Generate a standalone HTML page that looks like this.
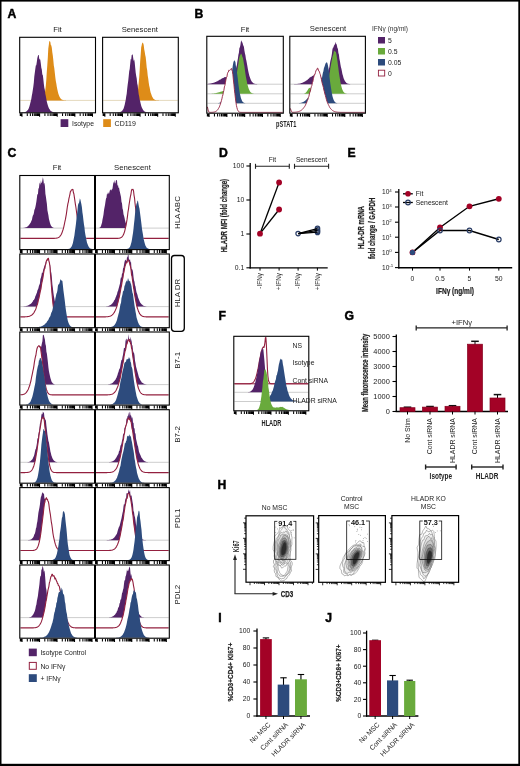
<!DOCTYPE html>
<html><head><meta charset="utf-8"><style>
html,body{margin:0;padding:0;background:#fff;}
svg{display:block;will-change:transform;}
text{font-family:"Liberation Sans", sans-serif;}
.cb{stroke:#222;stroke-width:0.22px;}
</style></head><body>
<svg width="520" height="766" viewBox="0 0 520 766">
<rect x="0" y="0" width="520" height="766" fill="#fff"/>
<text x="7.60" y="18.30" font-size="12.2" text-anchor="start" font-weight="bold" fill="#000" stroke="#000" stroke-width="0.45">A</text>
<text x="57.50" y="32.10" font-size="7.7" text-anchor="middle" font-weight="normal" fill="#222" >Fit</text>
<text x="139.80" y="32.10" font-size="7.7" text-anchor="middle" font-weight="normal" fill="#222" >Senescent</text>
<line x1="20.30" y1="100.40" x2="94.90" y2="100.40" stroke="#d9c9a0" stroke-width="0.7" />
<path d="M20.30,100.40 L20.30,100.40 L20.80,100.40 L21.30,100.40 L21.80,100.40 L22.30,100.40 L22.80,100.40 L23.30,100.40 L23.80,100.40 L24.30,100.40 L24.80,100.40 L25.30,100.40 L25.80,100.40 L26.30,100.40 L26.80,100.40 L27.30,100.40 L27.80,100.40 L28.30,100.40 L28.80,100.40 L29.30,100.40 L29.80,100.40 L30.30,100.40 L30.80,100.40 L31.30,100.40 L31.80,100.40 L32.30,100.40 L32.80,100.40 L33.30,100.40 L33.80,100.40 L34.30,100.40 L34.80,100.40 L35.30,100.40 L35.80,100.40 L36.30,100.40 L36.80,100.40 L37.30,100.40 L37.80,100.40 L38.30,100.40 L38.80,100.40 L39.30,100.40 L39.80,100.39 L40.30,100.38 L40.80,100.36 L41.30,100.31 L41.80,100.21 L42.30,100.02 L42.80,99.65 L43.30,99.04 L43.80,97.94 L44.30,96.28 L44.80,93.67 L45.30,90.05 L45.80,85.72 L46.30,79.94 L46.80,71.71 L47.30,65.13 L47.80,57.66 L48.30,48.61 L48.80,44.96 L49.30,40.72 L49.80,41.55 L50.30,41.73 L50.80,44.95 L51.30,45.60 L51.80,47.83 L52.30,52.35 L52.80,55.62 L53.30,59.96 L53.80,65.55 L54.30,68.37 L54.80,72.83 L55.30,77.19 L55.80,81.11 L56.30,83.51 L56.80,86.85 L57.30,89.27 L57.80,91.43 L58.30,93.41 L58.80,94.91 L59.30,96.33 L59.80,97.25 L60.30,98.11 L60.80,98.67 L61.30,99.15 L61.80,99.53 L62.30,99.79 L62.80,99.98 L63.30,100.11 L63.80,100.21 L64.30,100.27 L64.80,100.32 L65.30,100.35 L65.80,100.37 L66.30,100.38 L66.80,100.39 L67.30,100.39 L67.80,100.40 L68.30,100.40 L68.80,100.40 L69.30,100.40 L69.80,100.40 L70.30,100.40 L70.80,100.40 L71.30,100.40 L71.80,100.40 L72.30,100.40 L72.80,100.40 L73.30,100.40 L73.80,100.40 L74.30,100.40 L74.80,100.40 L75.30,100.40 L75.80,100.40 L76.30,100.40 L76.80,100.40 L77.30,100.40 L77.80,100.40 L78.30,100.40 L78.80,100.40 L79.30,100.40 L79.80,100.40 L80.30,100.40 L80.80,100.40 L81.30,100.40 L81.80,100.40 L82.30,100.40 L82.80,100.40 L83.30,100.40 L83.80,100.40 L84.30,100.40 L84.80,100.40 L85.30,100.40 L85.80,100.40 L86.30,100.40 L86.80,100.40 L87.30,100.40 L87.80,100.40 L88.30,100.40 L88.80,100.40 L89.30,100.40 L89.80,100.40 L90.30,100.40 L90.80,100.40 L91.30,100.40 L91.80,100.40 L92.30,100.40 L92.80,100.40 L93.30,100.40 L93.80,100.40 L94.30,100.40 L94.80,100.40 L94.90,100.40 L94.90,100.40 Z" fill="#de8c18" stroke="none"/>
<path d="M20.30,112.40 L20.30,112.39 L20.80,112.39 L21.30,112.38 L21.80,112.37 L22.30,112.35 L22.80,112.33 L23.30,112.29 L23.80,112.24 L24.30,112.16 L24.80,112.05 L25.30,111.90 L25.80,111.69 L26.30,111.41 L26.80,111.07 L27.30,110.61 L27.80,109.92 L28.30,109.18 L28.80,108.23 L29.30,106.83 L29.80,104.93 L30.30,103.12 L30.80,100.94 L31.30,99.12 L31.80,95.85 L32.30,93.21 L32.80,90.10 L33.30,86.74 L33.80,82.73 L34.30,76.48 L34.80,72.81 L35.30,69.03 L35.80,65.46 L36.30,65.20 L36.80,62.05 L37.30,58.34 L37.80,56.36 L38.30,54.99 L38.80,54.91 L39.30,59.99 L39.80,58.51 L40.30,60.11 L40.80,63.39 L41.30,67.77 L41.80,69.61 L42.30,74.56 L42.80,74.99 L43.30,79.02 L43.80,83.69 L44.30,87.84 L44.80,89.79 L45.30,93.65 L45.80,96.04 L46.30,98.76 L46.80,101.49 L47.30,103.57 L47.80,105.14 L48.30,106.70 L48.80,108.03 L49.30,108.94 L49.80,109.60 L50.30,110.43 L50.80,110.92 L51.30,111.23 L51.80,111.55 L52.30,111.78 L52.80,111.96 L53.30,112.09 L53.80,112.18 L54.30,112.25 L54.80,112.30 L55.30,112.33 L55.80,112.35 L56.30,112.37 L56.80,112.38 L57.30,112.39 L57.80,112.39 L58.30,112.39 L58.80,112.40 L59.30,112.40 L59.80,112.40 L60.30,112.40 L60.80,112.40 L61.30,112.40 L61.80,112.40 L62.30,112.40 L62.80,112.40 L63.30,112.40 L63.80,112.40 L64.30,112.40 L64.80,112.40 L65.30,112.40 L65.80,112.40 L66.30,112.40 L66.80,112.40 L67.30,112.40 L67.80,112.40 L68.30,112.40 L68.80,112.40 L69.30,112.40 L69.80,112.40 L70.30,112.40 L70.80,112.40 L71.30,112.40 L71.80,112.40 L72.30,112.40 L72.80,112.40 L73.30,112.40 L73.80,112.40 L74.30,112.40 L74.80,112.40 L75.30,112.40 L75.80,112.40 L76.30,112.40 L76.80,112.40 L77.30,112.40 L77.80,112.40 L78.30,112.40 L78.80,112.40 L79.30,112.40 L79.80,112.40 L80.30,112.40 L80.80,112.40 L81.30,112.40 L81.80,112.40 L82.30,112.40 L82.80,112.40 L83.30,112.40 L83.80,112.40 L84.30,112.40 L84.80,112.40 L85.30,112.40 L85.80,112.40 L86.30,112.40 L86.80,112.40 L87.30,112.40 L87.80,112.40 L88.30,112.40 L88.80,112.40 L89.30,112.40 L89.80,112.40 L90.30,112.40 L90.80,112.40 L91.30,112.40 L91.80,112.40 L92.30,112.40 L92.80,112.40 L93.30,112.40 L93.80,112.40 L94.30,112.40 L94.80,112.40 L94.90,112.40 L94.90,112.40 Z" fill="#532368" stroke="none"/>
<rect x="19.70" y="37.30" width="75.80" height="75.50" fill="none" stroke="#000" stroke-width="1.1" />
<path d="M20.27,113.30 v2.80 M21.17,113.30 v2.80 M21.97,113.30 v3.40 M27.28,113.30 v2.80 M30.38,113.30 v2.80 M32.59,113.30 v2.80 M34.30,113.30 v2.80 M35.69,113.30 v2.80 M36.87,113.30 v2.80 M37.89,113.30 v2.80 M38.80,113.30 v2.80 M39.60,113.30 v3.40 M44.91,113.30 v2.80 M48.01,113.30 v2.80 M50.21,113.30 v2.80 M51.92,113.30 v2.80 M53.32,113.30 v2.80 M54.50,113.30 v2.80 M55.52,113.30 v2.80 M56.42,113.30 v2.80 M57.23,113.30 v3.40 M62.54,113.30 v2.80 M65.64,113.30 v2.80 M67.84,113.30 v2.80 M69.55,113.30 v2.80 M70.95,113.30 v2.80 M72.13,113.30 v2.80 M73.15,113.30 v2.80 M74.05,113.30 v2.80 M74.86,113.30 v3.40 M80.16,113.30 v2.80 M83.27,113.30 v2.80 M85.47,113.30 v2.80 M87.18,113.30 v2.80 M88.57,113.30 v2.80 M89.76,113.30 v2.80 M90.78,113.30 v2.80 M91.68,113.30 v2.80 M92.49,113.30 v3.40" stroke="#000" stroke-width="1.05" fill="none"/>
<line x1="103.20" y1="100.40" x2="177.70" y2="100.40" stroke="#d9c9a0" stroke-width="0.7" />
<path d="M103.20,100.40 L103.20,100.40 L103.70,100.40 L104.20,100.40 L104.70,100.40 L105.20,100.40 L105.70,100.40 L106.20,100.40 L106.70,100.40 L107.20,100.40 L107.70,100.40 L108.20,100.40 L108.70,100.40 L109.20,100.40 L109.70,100.40 L110.20,100.40 L110.70,100.40 L111.20,100.40 L111.70,100.40 L112.20,100.40 L112.70,100.40 L113.20,100.40 L113.70,100.40 L114.20,100.40 L114.70,100.40 L115.20,100.40 L115.70,100.40 L116.20,100.40 L116.70,100.40 L117.20,100.40 L117.70,100.40 L118.20,100.40 L118.70,100.40 L119.20,100.40 L119.70,100.40 L120.20,100.40 L120.70,100.40 L121.20,100.40 L121.70,100.40 L122.20,100.40 L122.70,100.40 L123.20,100.40 L123.70,100.40 L124.20,100.40 L124.70,100.40 L125.20,100.40 L125.70,100.40 L126.20,100.40 L126.70,100.40 L127.20,100.40 L127.70,100.40 L128.20,100.40 L128.70,100.40 L129.20,100.40 L129.70,100.40 L130.20,100.40 L130.70,100.40 L131.20,100.40 L131.70,100.40 L132.20,100.40 L132.70,100.39 L133.20,100.38 L133.70,100.35 L134.20,100.28 L134.70,100.15 L135.20,99.90 L135.70,99.45 L136.20,98.66 L136.70,97.35 L137.20,95.32 L137.70,92.30 L138.20,88.33 L138.70,82.84 L139.20,77.56 L139.70,69.69 L140.20,60.95 L140.70,54.22 L141.20,47.15 L141.70,45.36 L142.20,42.26 L142.70,43.25 L143.20,43.27 L143.70,45.01 L144.20,49.31 L144.70,51.72 L145.20,55.07 L145.70,57.34 L146.20,61.91 L146.70,67.41 L147.20,70.35 L147.70,75.44 L148.20,78.51 L148.70,82.55 L149.20,85.73 L149.70,87.78 L150.20,90.63 L150.70,92.64 L151.20,94.05 L151.70,95.53 L152.20,96.82 L152.70,97.61 L153.20,98.39 L153.70,98.92 L154.20,99.37 L154.70,99.65 L155.20,99.88 L155.70,100.04 L156.20,100.16 L156.70,100.24 L157.20,100.29 L157.70,100.33 L158.20,100.35 L158.70,100.37 L159.20,100.38 L159.70,100.39 L160.20,100.39 L160.70,100.40 L161.20,100.40 L161.70,100.40 L162.20,100.40 L162.70,100.40 L163.20,100.40 L163.70,100.40 L164.20,100.40 L164.70,100.40 L165.20,100.40 L165.70,100.40 L166.20,100.40 L166.70,100.40 L167.20,100.40 L167.70,100.40 L168.20,100.40 L168.70,100.40 L169.20,100.40 L169.70,100.40 L170.20,100.40 L170.70,100.40 L171.20,100.40 L171.70,100.40 L172.20,100.40 L172.70,100.40 L173.20,100.40 L173.70,100.40 L174.20,100.40 L174.70,100.40 L175.20,100.40 L175.70,100.40 L176.20,100.40 L176.70,100.40 L177.20,100.40 L177.70,100.40 L177.70,100.40 L177.70,100.40 Z" fill="#de8c18" stroke="none"/>
<path d="M103.20,112.40 L103.20,112.40 L103.70,112.40 L104.20,112.40 L104.70,112.40 L105.20,112.40 L105.70,112.40 L106.20,112.40 L106.70,112.40 L107.20,112.40 L107.70,112.40 L108.20,112.40 L108.70,112.40 L109.20,112.40 L109.70,112.40 L110.20,112.40 L110.70,112.40 L111.20,112.40 L111.70,112.40 L112.20,112.40 L112.70,112.40 L113.20,112.40 L113.70,112.40 L114.20,112.40 L114.70,112.40 L115.20,112.40 L115.70,112.40 L116.20,112.39 L116.70,112.39 L117.20,112.38 L117.70,112.36 L118.20,112.34 L118.70,112.31 L119.20,112.25 L119.70,112.17 L120.20,112.04 L120.70,111.86 L121.20,111.61 L121.70,111.21 L122.20,110.69 L122.70,110.08 L123.20,109.26 L123.70,108.25 L124.20,106.48 L124.70,104.78 L125.20,102.28 L125.70,100.06 L126.20,96.40 L126.70,93.76 L127.20,88.75 L127.70,84.62 L128.20,81.10 L128.70,76.19 L129.20,71.16 L129.70,69.06 L130.20,63.64 L130.70,59.12 L131.20,59.49 L131.70,54.91 L132.20,54.87 L132.70,54.21 L133.20,58.03 L133.70,61.00 L134.20,59.62 L134.70,62.58 L135.20,67.64 L135.70,72.75 L136.20,76.09 L136.70,78.48 L137.20,83.50 L137.70,85.56 L138.20,90.16 L138.70,94.29 L139.20,96.57 L139.70,99.73 L140.20,101.50 L140.70,103.67 L141.20,105.76 L141.70,107.14 L142.20,108.33 L142.70,109.27 L143.20,110.02 L143.70,110.80 L144.20,111.19 L144.70,111.52 L145.20,111.77 L145.70,111.96 L146.20,112.10 L146.70,112.19 L147.20,112.26 L147.70,112.31 L148.20,112.34 L148.70,112.36 L149.20,112.38 L149.70,112.38 L150.20,112.39 L150.70,112.39 L151.20,112.40 L151.70,112.40 L152.20,112.40 L152.70,112.40 L153.20,112.40 L153.70,112.40 L154.20,112.40 L154.70,112.40 L155.20,112.40 L155.70,112.40 L156.20,112.40 L156.70,112.40 L157.20,112.40 L157.70,112.40 L158.20,112.40 L158.70,112.40 L159.20,112.40 L159.70,112.40 L160.20,112.40 L160.70,112.40 L161.20,112.40 L161.70,112.40 L162.20,112.40 L162.70,112.40 L163.20,112.40 L163.70,112.40 L164.20,112.40 L164.70,112.40 L165.20,112.40 L165.70,112.40 L166.20,112.40 L166.70,112.40 L167.20,112.40 L167.70,112.40 L168.20,112.40 L168.70,112.40 L169.20,112.40 L169.70,112.40 L170.20,112.40 L170.70,112.40 L171.20,112.40 L171.70,112.40 L172.20,112.40 L172.70,112.40 L173.20,112.40 L173.70,112.40 L174.20,112.40 L174.70,112.40 L175.20,112.40 L175.70,112.40 L176.20,112.40 L176.70,112.40 L177.20,112.40 L177.70,112.40 L177.70,112.40 L177.70,112.40 Z" fill="#532368" stroke="none"/>
<rect x="102.60" y="37.30" width="75.70" height="75.50" fill="none" stroke="#000" stroke-width="1.1" />
<path d="M103.16,113.30 v2.80 M104.07,113.30 v2.80 M104.87,113.30 v3.40 M110.17,113.30 v2.80 M113.27,113.30 v2.80 M115.47,113.30 v2.80 M117.18,113.30 v2.80 M118.57,113.30 v2.80 M119.75,113.30 v2.80 M120.77,113.30 v2.80 M121.67,113.30 v2.80 M122.48,113.30 v3.40 M127.78,113.30 v2.80 M130.88,113.30 v2.80 M133.07,113.30 v2.80 M134.78,113.30 v2.80 M136.17,113.30 v2.80 M137.35,113.30 v2.80 M138.37,113.30 v2.80 M139.27,113.30 v2.80 M140.08,113.30 v3.40 M145.38,113.30 v2.80 M148.48,113.30 v2.80 M150.68,113.30 v2.80 M152.39,113.30 v2.80 M153.78,113.30 v2.80 M154.96,113.30 v2.80 M155.98,113.30 v2.80 M156.88,113.30 v2.80 M157.68,113.30 v3.40 M162.98,113.30 v2.80 M166.08,113.30 v2.80 M168.28,113.30 v2.80 M169.99,113.30 v2.80 M171.38,113.30 v2.80 M172.56,113.30 v2.80 M173.58,113.30 v2.80 M174.48,113.30 v2.80 M175.29,113.30 v3.40" stroke="#000" stroke-width="1.05" fill="none"/>
<rect x="60.60" y="119.20" width="7.70" height="7.80" fill="#532368" stroke="none" stroke-width="1" />
<text x="72.00" y="125.80" font-size="6.8" text-anchor="start" font-weight="normal" fill="#222" >Isotype</text>
<rect x="103.20" y="119.20" width="7.70" height="7.80" fill="#de8c18" stroke="none" stroke-width="1" />
<text x="114.60" y="125.80" font-size="7.0" text-anchor="start" font-weight="normal" fill="#222" >CD119</text>
<text x="194.60" y="18.00" font-size="12.2" text-anchor="start" font-weight="bold" fill="#000" stroke="#000" stroke-width="0.45">B</text>
<text x="245.00" y="31.60" font-size="7.7" text-anchor="middle" font-weight="normal" fill="#222" >Fit</text>
<text x="328.00" y="31.30" font-size="7.7" text-anchor="middle" font-weight="normal" fill="#222" >Senescent</text>
<line x1="207.40" y1="84.20" x2="282.70" y2="84.20" stroke="#b8b8b8" stroke-width="0.7" />
<path d="M207.40,84.20 L207.40,83.93 L207.90,83.88 L208.40,83.83 L208.90,83.77 L209.40,83.70 L209.90,83.62 L210.40,83.53 L210.90,83.44 L211.40,83.33 L211.90,83.21 L212.40,83.07 L212.90,82.94 L213.40,82.77 L213.90,82.65 L214.40,82.39 L214.90,82.19 L215.40,82.00 L215.90,81.88 L216.40,81.57 L216.90,81.38 L217.40,81.14 L217.90,80.70 L218.40,80.40 L218.90,80.42 L219.40,79.87 L219.90,79.67 L220.40,79.47 L220.90,79.23 L221.40,78.79 L221.90,78.61 L222.40,78.24 L222.90,78.00 L223.40,78.03 L223.90,77.48 L224.40,77.16 L224.90,76.98 L225.40,77.02 L225.90,77.22 L226.40,77.14 L226.90,76.98 L227.40,76.44 L227.90,76.79 L228.40,76.75 L228.90,76.47 L229.40,76.89 L229.90,76.84 L230.40,77.01 L230.90,77.31 L231.40,77.06 L231.90,76.90 L232.40,77.17 L232.90,76.87 L233.40,76.31 L233.90,75.88 L234.40,74.58 L234.90,73.00 L235.40,71.45 L235.90,69.54 L236.40,66.69 L236.90,64.99 L237.40,61.30 L237.90,58.48 L238.40,54.70 L238.90,52.73 L239.40,47.94 L239.90,47.32 L240.40,45.04 L240.90,41.45 L241.40,40.20 L241.90,41.96 L242.40,42.62 L242.90,44.29 L243.40,45.78 L243.90,46.78 L244.40,50.43 L244.90,53.19 L245.40,55.19 L245.90,58.75 L246.40,60.74 L246.90,63.41 L247.40,66.33 L247.90,69.34 L248.40,71.85 L248.90,73.90 L249.40,76.07 L249.90,77.26 L250.40,78.84 L250.90,80.00 L251.40,81.01 L251.90,81.69 L252.40,82.29 L252.90,82.80 L253.40,83.13 L253.90,83.45 L254.40,83.66 L254.90,83.82 L255.40,83.94 L255.90,84.02 L256.40,84.08 L256.90,84.12 L257.40,84.15 L257.90,84.17 L258.40,84.18 L258.90,84.19 L259.40,84.19 L259.90,84.19 L260.40,84.20 L260.90,84.20 L261.40,84.20 L261.90,84.20 L262.40,84.20 L262.90,84.20 L263.40,84.20 L263.90,84.20 L264.40,84.20 L264.90,84.20 L265.40,84.20 L265.90,84.20 L266.40,84.20 L266.90,84.20 L267.40,84.20 L267.90,84.20 L268.40,84.20 L268.90,84.20 L269.40,84.20 L269.90,84.20 L270.40,84.20 L270.90,84.20 L271.40,84.20 L271.90,84.20 L272.40,84.20 L272.90,84.20 L273.40,84.20 L273.90,84.20 L274.40,84.20 L274.90,84.20 L275.40,84.20 L275.90,84.20 L276.40,84.20 L276.90,84.20 L277.40,84.20 L277.90,84.20 L278.40,84.20 L278.90,84.20 L279.40,84.20 L279.90,84.20 L280.40,84.20 L280.90,84.20 L281.40,84.20 L281.90,84.20 L282.40,84.20 L282.70,84.20 L282.70,84.20 Z" fill="#532368" stroke="none"/>
<line x1="207.40" y1="93.80" x2="282.70" y2="93.80" stroke="#b8b8b8" stroke-width="0.7" />
<path d="M207.40,93.80 L207.40,93.78 L207.90,93.77 L208.40,93.76 L208.90,93.75 L209.40,93.73 L209.90,93.72 L210.40,93.70 L210.90,93.67 L211.40,93.64 L211.90,93.61 L212.40,93.57 L212.90,93.52 L213.40,93.47 L213.90,93.41 L214.40,93.34 L214.90,93.26 L215.40,93.17 L215.90,93.07 L216.40,92.97 L216.90,92.85 L217.40,92.70 L217.90,92.58 L218.40,92.44 L218.90,92.28 L219.40,92.18 L219.90,92.00 L220.40,91.82 L220.90,91.67 L221.40,91.56 L221.90,91.46 L222.40,91.31 L222.90,91.11 L223.40,91.12 L223.90,91.00 L224.40,90.84 L224.90,90.86 L225.40,90.86 L225.90,90.82 L226.40,90.74 L226.90,90.85 L227.40,90.89 L227.90,90.94 L228.40,91.00 L228.90,91.12 L229.40,91.25 L229.90,91.23 L230.40,91.30 L230.90,91.22 L231.40,91.03 L231.90,90.64 L232.40,90.21 L232.90,89.42 L233.40,88.58 L233.90,87.34 L234.40,85.81 L234.90,83.56 L235.40,81.13 L235.90,78.92 L236.40,76.01 L236.90,73.12 L237.40,69.14 L237.90,66.29 L238.40,63.41 L238.90,59.70 L239.40,57.30 L239.90,55.66 L240.40,54.99 L240.90,53.50 L241.40,53.88 L241.90,55.02 L242.40,57.04 L242.90,57.73 L243.40,60.43 L243.90,63.62 L244.40,66.33 L244.90,70.08 L245.40,73.50 L245.90,76.71 L246.40,79.15 L246.90,81.80 L247.40,84.15 L247.90,85.92 L248.40,87.69 L248.90,89.28 L249.40,90.26 L249.90,91.29 L250.40,91.91 L250.90,92.47 L251.40,92.85 L251.90,93.15 L252.40,93.36 L252.90,93.50 L253.40,93.61 L253.90,93.67 L254.40,93.72 L254.90,93.75 L255.40,93.77 L255.90,93.78 L256.40,93.79 L256.90,93.79 L257.40,93.80 L257.90,93.80 L258.40,93.80 L258.90,93.80 L259.40,93.80 L259.90,93.80 L260.40,93.80 L260.90,93.80 L261.40,93.80 L261.90,93.80 L262.40,93.80 L262.90,93.80 L263.40,93.80 L263.90,93.80 L264.40,93.80 L264.90,93.80 L265.40,93.80 L265.90,93.80 L266.40,93.80 L266.90,93.80 L267.40,93.80 L267.90,93.80 L268.40,93.80 L268.90,93.80 L269.40,93.80 L269.90,93.80 L270.40,93.80 L270.90,93.80 L271.40,93.80 L271.90,93.80 L272.40,93.80 L272.90,93.80 L273.40,93.80 L273.90,93.80 L274.40,93.80 L274.90,93.80 L275.40,93.80 L275.90,93.80 L276.40,93.80 L276.90,93.80 L277.40,93.80 L277.90,93.80 L278.40,93.80 L278.90,93.80 L279.40,93.80 L279.90,93.80 L280.40,93.80 L280.90,93.80 L281.40,93.80 L281.90,93.80 L282.40,93.80 L282.70,93.80 L282.70,93.80 Z" fill="#69aa3c" stroke="none"/>
<line x1="207.40" y1="103.30" x2="282.70" y2="103.30" stroke="#b8b8b8" stroke-width="0.7" />
<path d="M207.40,103.30 L207.40,103.30 L207.90,103.30 L208.40,103.30 L208.90,103.30 L209.40,103.30 L209.90,103.30 L210.40,103.30 L210.90,103.30 L211.40,103.30 L211.90,103.30 L212.40,103.30 L212.90,103.30 L213.40,103.30 L213.90,103.30 L214.40,103.30 L214.90,103.29 L215.40,103.29 L215.90,103.28 L216.40,103.27 L216.90,103.25 L217.40,103.22 L217.90,103.17 L218.40,103.10 L218.90,103.00 L219.40,102.86 L219.90,102.67 L220.40,102.42 L220.90,102.12 L221.40,101.77 L221.90,101.37 L222.40,100.83 L222.90,100.38 L223.40,99.86 L223.90,99.31 L224.40,98.77 L224.90,98.22 L225.40,97.94 L225.90,97.39 L226.40,96.98 L226.90,96.74 L227.40,96.18 L227.90,95.28 L228.40,93.76 L228.90,92.19 L229.40,89.80 L229.90,86.98 L230.40,83.97 L230.90,80.42 L231.40,77.11 L231.90,73.28 L232.40,68.23 L232.90,65.11 L233.40,62.33 L233.90,61.09 L234.40,60.33 L234.90,60.96 L235.40,61.99 L235.90,65.94 L236.40,68.34 L236.90,72.27 L237.40,75.46 L237.90,79.49 L238.40,84.08 L238.90,87.82 L239.40,90.92 L239.90,93.69 L240.40,95.87 L240.90,97.92 L241.40,99.37 L241.90,100.60 L242.40,101.43 L242.90,102.07 L243.40,102.49 L243.90,102.78 L244.40,102.98 L244.90,103.10 L245.40,103.18 L245.90,103.23 L246.40,103.26 L246.90,103.28 L247.40,103.29 L247.90,103.29 L248.40,103.30 L248.90,103.30 L249.40,103.30 L249.90,103.30 L250.40,103.30 L250.90,103.30 L251.40,103.30 L251.90,103.30 L252.40,103.30 L252.90,103.30 L253.40,103.30 L253.90,103.30 L254.40,103.30 L254.90,103.30 L255.40,103.30 L255.90,103.30 L256.40,103.30 L256.90,103.30 L257.40,103.30 L257.90,103.30 L258.40,103.30 L258.90,103.30 L259.40,103.30 L259.90,103.30 L260.40,103.30 L260.90,103.30 L261.40,103.30 L261.90,103.30 L262.40,103.30 L262.90,103.30 L263.40,103.30 L263.90,103.30 L264.40,103.30 L264.90,103.30 L265.40,103.30 L265.90,103.30 L266.40,103.30 L266.90,103.30 L267.40,103.30 L267.90,103.30 L268.40,103.30 L268.90,103.30 L269.40,103.30 L269.90,103.30 L270.40,103.30 L270.90,103.30 L271.40,103.30 L271.90,103.30 L272.40,103.30 L272.90,103.30 L273.40,103.30 L273.90,103.30 L274.40,103.30 L274.90,103.30 L275.40,103.30 L275.90,103.30 L276.40,103.30 L276.90,103.30 L277.40,103.30 L277.90,103.30 L278.40,103.30 L278.90,103.30 L279.40,103.30 L279.90,103.30 L280.40,103.30 L280.90,103.30 L281.40,103.30 L281.90,103.30 L282.40,103.30 L282.70,103.30 L282.70,103.30 Z" fill="#2d4b7d" stroke="none"/>
<path d="M207.40,114.40 L207.40,106.81 L207.90,109.02 L208.40,110.99 L208.90,111.93 L209.40,112.28 L209.90,112.37 L210.40,112.38 L210.90,112.37 L211.40,112.35 L211.90,112.33 L212.40,112.30 L212.90,112.25 L213.40,112.19 L213.90,112.10 L214.40,111.98 L214.90,111.83 L215.40,111.62 L215.90,111.37 L216.40,110.99 L216.90,110.59 L217.40,110.13 L217.90,109.48 L218.40,108.62 L218.90,107.80 L219.40,106.85 L219.90,105.35 L220.40,104.24 L220.90,102.43 L221.40,100.68 L221.90,98.86 L222.40,96.40 L222.90,94.85 L223.40,92.15 L223.90,90.31 L224.40,86.88 L224.90,85.54 L225.40,82.67 L225.90,79.88 L226.40,77.62 L226.90,77.02 L227.40,73.79 L227.90,72.28 L228.40,72.03 L228.90,70.07 L229.40,70.40 L229.90,70.04 L230.40,69.73 L230.90,69.32 L231.40,68.39 L231.90,70.23 L232.40,71.28 L232.90,74.68 L233.40,79.92 L233.90,84.17 L234.40,89.47 L234.90,93.69 L235.40,98.11 L235.90,101.98 L236.40,105.30 L236.90,107.54 L237.40,109.38 L237.90,110.50 L238.40,111.33 L238.90,111.81 L239.40,112.09 L239.90,112.25 L240.40,112.33 L240.90,112.37 L241.40,112.39 L241.90,112.39 L242.40,112.40 L242.90,112.40 L243.40,112.40 L243.90,112.40 L244.40,112.40 L244.90,112.40 L245.40,112.40 L245.90,112.40 L246.40,112.40 L246.90,112.40 L247.40,112.40 L247.90,112.40 L248.40,112.40 L248.90,112.40 L249.40,112.40 L249.90,112.40 L250.40,112.40 L250.90,112.40 L251.40,112.40 L251.90,112.40 L252.40,112.40 L252.90,112.40 L253.40,112.40 L253.90,112.40 L254.40,112.40 L254.90,112.40 L255.40,112.40 L255.90,112.40 L256.40,112.40 L256.90,112.40 L257.40,112.40 L257.90,112.40 L258.40,112.40 L258.90,112.40 L259.40,112.40 L259.90,112.40 L260.40,112.40 L260.90,112.40 L261.40,112.40 L261.90,112.40 L262.40,112.40 L262.90,112.40 L263.40,112.40 L263.90,112.40 L264.40,112.40 L264.90,112.40 L265.40,112.40 L265.90,112.40 L266.40,112.40 L266.90,112.40 L267.40,112.40 L267.90,112.40 L268.40,112.40 L268.90,112.40 L269.40,112.40 L269.90,112.40 L270.40,112.40 L270.90,112.40 L271.40,112.40 L271.90,112.40 L272.40,112.40 L272.90,112.40 L273.40,112.40 L273.90,112.40 L274.40,112.40 L274.90,112.40 L275.40,112.40 L275.90,112.40 L276.40,112.40 L276.90,112.40 L277.40,112.40 L277.90,112.40 L278.40,112.40 L278.90,112.40 L279.40,112.40 L279.90,112.40 L280.40,112.40 L280.90,112.40 L281.40,112.40 L281.90,112.40 L282.40,112.40 L282.70,112.40 L282.70,114.40 Z" fill="#fff" stroke="none"/>
<path d="M207.40,106.81 L207.90,109.02 L208.40,110.99 L208.90,111.93 L209.40,112.28 L209.90,112.37 L210.40,112.38 L210.90,112.37 L211.40,112.35 L211.90,112.33 L212.40,112.30 L212.90,112.25 L213.40,112.19 L213.90,112.10 L214.40,111.98 L214.90,111.83 L215.40,111.62 L215.90,111.37 L216.40,110.99 L216.90,110.59 L217.40,110.13 L217.90,109.48 L218.40,108.62 L218.90,107.80 L219.40,106.85 L219.90,105.35 L220.40,104.24 L220.90,102.43 L221.40,100.68 L221.90,98.86 L222.40,96.40 L222.90,94.85 L223.40,92.15 L223.90,90.31 L224.40,86.88 L224.90,85.54 L225.40,82.67 L225.90,79.88 L226.40,77.62 L226.90,77.02 L227.40,73.79 L227.90,72.28 L228.40,72.03 L228.90,70.07 L229.40,70.40 L229.90,70.04 L230.40,69.73 L230.90,69.32 L231.40,68.39 L231.90,70.23 L232.40,71.28 L232.90,74.68 L233.40,79.92 L233.90,84.17 L234.40,89.47 L234.90,93.69 L235.40,98.11 L235.90,101.98 L236.40,105.30 L236.90,107.54 L237.40,109.38 L237.90,110.50 L238.40,111.33 L238.90,111.81 L239.40,112.09 L239.90,112.25 L240.40,112.33 L240.90,112.37 L241.40,112.39 L241.90,112.39 L242.40,112.40 L242.90,112.40 L243.40,112.40 L243.90,112.40 L244.40,112.40 L244.90,112.40 L245.40,112.40 L245.90,112.40 L246.40,112.40 L246.90,112.40 L247.40,112.40 L247.90,112.40 L248.40,112.40 L248.90,112.40 L249.40,112.40 L249.90,112.40 L250.40,112.40 L250.90,112.40 L251.40,112.40 L251.90,112.40 L252.40,112.40 L252.90,112.40 L253.40,112.40 L253.90,112.40 L254.40,112.40 L254.90,112.40 L255.40,112.40 L255.90,112.40 L256.40,112.40 L256.90,112.40 L257.40,112.40 L257.90,112.40 L258.40,112.40 L258.90,112.40 L259.40,112.40 L259.90,112.40 L260.40,112.40 L260.90,112.40 L261.40,112.40 L261.90,112.40 L262.40,112.40 L262.90,112.40 L263.40,112.40 L263.90,112.40 L264.40,112.40 L264.90,112.40 L265.40,112.40 L265.90,112.40 L266.40,112.40 L266.90,112.40 L267.40,112.40 L267.90,112.40 L268.40,112.40 L268.90,112.40 L269.40,112.40 L269.90,112.40 L270.40,112.40 L270.90,112.40 L271.40,112.40 L271.90,112.40 L272.40,112.40 L272.90,112.40 L273.40,112.40 L273.90,112.40 L274.40,112.40 L274.90,112.40 L275.40,112.40 L275.90,112.40 L276.40,112.40 L276.90,112.40 L277.40,112.40 L277.90,112.40 L278.40,112.40 L278.90,112.40 L279.40,112.40 L279.90,112.40 L280.40,112.40 L280.90,112.40 L281.40,112.40 L281.90,112.40 L282.40,112.40 L282.70,112.40" fill="none" stroke="#93203f" stroke-width="0.9" stroke-linejoin="round"/>
<rect x="206.80" y="36.30" width="76.50" height="76.90" fill="none" stroke="#000" stroke-width="1.1" />
<path d="M207.37,113.70 v2.80 M208.28,113.70 v2.80 M209.09,113.70 v3.40 M214.45,113.70 v2.80 M217.58,113.70 v2.80 M219.81,113.70 v2.80 M221.53,113.70 v2.80 M222.94,113.70 v2.80 M224.13,113.70 v2.80 M225.16,113.70 v2.80 M226.07,113.70 v2.80 M226.89,113.70 v3.40 M232.24,113.70 v2.80 M235.37,113.70 v2.80 M237.60,113.70 v2.80 M239.32,113.70 v2.80 M240.73,113.70 v2.80 M241.92,113.70 v2.80 M242.95,113.70 v2.80 M243.86,113.70 v2.80 M244.68,113.70 v3.40 M250.03,113.70 v2.80 M253.16,113.70 v2.80 M255.39,113.70 v2.80 M257.11,113.70 v2.80 M258.52,113.70 v2.80 M259.71,113.70 v2.80 M260.74,113.70 v2.80 M261.65,113.70 v2.80 M262.47,113.70 v3.40 M267.82,113.70 v2.80 M270.96,113.70 v2.80 M273.18,113.70 v2.80 M274.90,113.70 v2.80 M276.31,113.70 v2.80 M277.50,113.70 v2.80 M278.53,113.70 v2.80 M279.44,113.70 v2.80 M280.26,113.70 v3.40" stroke="#000" stroke-width="1.05" fill="none"/>
<line x1="290.40" y1="84.20" x2="364.80" y2="84.20" stroke="#b8b8b8" stroke-width="0.7" />
<path d="M290.40,84.20 L290.40,84.19 L290.90,84.18 L291.40,84.18 L291.90,84.17 L292.40,84.17 L292.90,84.16 L293.40,84.15 L293.90,84.13 L294.40,84.12 L294.90,84.10 L295.40,84.07 L295.90,84.05 L296.40,84.01 L296.90,83.97 L297.40,83.92 L297.90,83.86 L298.40,83.80 L298.90,83.72 L299.40,83.63 L299.90,83.53 L300.40,83.41 L300.90,83.27 L301.40,83.12 L301.90,82.94 L302.40,82.71 L302.90,82.56 L303.40,82.32 L303.90,82.05 L304.40,81.85 L304.90,81.50 L305.40,81.15 L305.90,80.77 L306.40,80.61 L306.90,80.18 L307.40,79.88 L307.90,79.22 L308.40,78.85 L308.90,78.73 L309.40,77.87 L309.90,77.46 L310.40,77.22 L310.90,76.85 L311.40,76.75 L311.90,76.51 L312.40,75.86 L312.90,75.89 L313.40,75.55 L313.90,75.31 L314.40,75.29 L314.90,74.84 L315.40,74.78 L315.90,74.44 L316.40,74.70 L316.90,74.69 L317.40,74.94 L317.90,75.03 L318.40,75.43 L318.90,75.85 L319.40,75.71 L319.90,76.09 L320.40,76.58 L320.90,77.05 L321.40,77.63 L321.90,78.02 L322.40,78.28 L322.90,78.62 L323.40,78.45 L323.90,78.67 L324.40,78.39 L324.90,78.36 L325.40,77.67 L325.90,77.10 L326.40,76.78 L326.90,75.61 L327.40,73.76 L327.90,72.55 L328.40,70.18 L328.90,68.76 L329.40,66.96 L329.90,63.68 L330.40,60.77 L330.90,59.07 L331.40,56.83 L331.90,53.66 L332.40,49.50 L332.90,47.72 L333.40,47.61 L333.90,45.63 L334.40,44.92 L334.90,44.34 L335.40,41.66 L335.90,44.02 L336.40,43.64 L336.90,45.41 L337.40,48.05 L337.90,48.78 L338.40,52.98 L338.90,54.53 L339.40,58.64 L339.90,60.97 L340.40,64.24 L340.90,66.92 L341.40,68.68 L341.90,71.36 L342.40,74.01 L342.90,75.51 L343.40,77.59 L343.90,78.89 L344.40,79.90 L344.90,80.95 L345.40,81.84 L345.90,82.31 L346.40,82.89 L346.90,83.22 L347.40,83.50 L347.90,83.70 L348.40,83.86 L348.90,83.96 L349.40,84.04 L349.90,84.09 L350.40,84.13 L350.90,84.15 L351.40,84.17 L351.90,84.18 L352.40,84.19 L352.90,84.19 L353.40,84.20 L353.90,84.20 L354.40,84.20 L354.90,84.20 L355.40,84.20 L355.90,84.20 L356.40,84.20 L356.90,84.20 L357.40,84.20 L357.90,84.20 L358.40,84.20 L358.90,84.20 L359.40,84.20 L359.90,84.20 L360.40,84.20 L360.90,84.20 L361.40,84.20 L361.90,84.20 L362.40,84.20 L362.90,84.20 L363.40,84.20 L363.90,84.20 L364.40,84.20 L364.80,84.20 L364.80,84.20 Z" fill="#532368" stroke="none"/>
<line x1="290.40" y1="93.80" x2="364.80" y2="93.80" stroke="#b8b8b8" stroke-width="0.7" />
<path d="M290.40,93.80 L290.40,93.80 L290.90,93.80 L291.40,93.80 L291.90,93.80 L292.40,93.80 L292.90,93.80 L293.40,93.80 L293.90,93.80 L294.40,93.80 L294.90,93.80 L295.40,93.80 L295.90,93.80 L296.40,93.80 L296.90,93.80 L297.40,93.80 L297.90,93.80 L298.40,93.80 L298.90,93.80 L299.40,93.80 L299.90,93.80 L300.40,93.80 L300.90,93.80 L301.40,93.80 L301.90,93.79 L302.40,93.78 L302.90,93.76 L303.40,93.71 L303.90,93.64 L304.40,93.50 L304.90,93.30 L305.40,92.99 L305.90,92.57 L306.40,91.97 L306.90,91.27 L307.40,90.49 L307.90,89.73 L308.40,88.83 L308.90,88.20 L309.40,87.89 L309.90,87.80 L310.40,88.06 L310.90,88.53 L311.40,89.03 L311.90,89.69 L312.40,90.54 L312.90,91.16 L313.40,91.88 L313.90,92.42 L314.40,92.84 L314.90,93.17 L315.40,93.40 L315.90,93.56 L316.40,93.66 L316.90,93.72 L317.40,93.75 L317.90,93.76 L318.40,93.76 L318.90,93.75 L319.40,93.73 L319.90,93.69 L320.40,93.64 L320.90,93.57 L321.40,93.47 L321.90,93.32 L322.40,93.13 L322.90,92.87 L323.40,92.55 L323.90,92.03 L324.40,91.46 L324.90,90.71 L325.40,89.83 L325.90,88.87 L326.40,87.47 L326.90,85.85 L327.40,84.21 L327.90,81.66 L328.40,79.69 L328.90,77.31 L329.40,73.95 L329.90,71.76 L330.40,67.78 L330.90,65.37 L331.40,62.26 L331.90,59.82 L332.40,57.03 L332.90,55.41 L333.40,53.96 L333.90,50.96 L334.40,51.55 L334.90,50.22 L335.40,52.04 L335.90,51.91 L336.40,54.30 L336.90,57.43 L337.40,60.74 L337.90,64.63 L338.40,68.17 L338.90,72.56 L339.40,75.69 L339.90,78.68 L340.40,82.02 L340.90,84.18 L341.40,86.39 L341.90,88.33 L342.40,89.76 L342.90,90.85 L343.40,91.71 L343.90,92.30 L344.40,92.80 L344.90,93.13 L345.40,93.36 L345.90,93.52 L346.40,93.62 L346.90,93.69 L347.40,93.73 L347.90,93.76 L348.40,93.78 L348.90,93.79 L349.40,93.79 L349.90,93.80 L350.40,93.80 L350.90,93.80 L351.40,93.80 L351.90,93.80 L352.40,93.80 L352.90,93.80 L353.40,93.80 L353.90,93.80 L354.40,93.80 L354.90,93.80 L355.40,93.80 L355.90,93.80 L356.40,93.80 L356.90,93.80 L357.40,93.80 L357.90,93.80 L358.40,93.80 L358.90,93.80 L359.40,93.80 L359.90,93.80 L360.40,93.80 L360.90,93.80 L361.40,93.80 L361.90,93.80 L362.40,93.80 L362.90,93.80 L363.40,93.80 L363.90,93.80 L364.40,93.80 L364.80,93.80 L364.80,93.80 Z" fill="#69aa3c" stroke="none"/>
<line x1="290.40" y1="103.30" x2="364.80" y2="103.30" stroke="#b8b8b8" stroke-width="0.7" />
<path d="M290.40,103.30 L290.40,103.30 L290.90,103.30 L291.40,103.30 L291.90,103.30 L292.40,103.30 L292.90,103.30 L293.40,103.30 L293.90,103.29 L294.40,103.29 L294.90,103.29 L295.40,103.28 L295.90,103.27 L296.40,103.26 L296.90,103.25 L297.40,103.23 L297.90,103.21 L298.40,103.17 L298.90,103.13 L299.40,103.08 L299.90,103.01 L300.40,102.92 L300.90,102.82 L301.40,102.69 L301.90,102.53 L302.40,102.35 L302.90,102.16 L303.40,101.90 L303.90,101.59 L304.40,101.23 L304.90,100.92 L305.40,100.52 L305.90,100.06 L306.40,99.48 L306.90,99.10 L307.40,98.43 L307.90,97.90 L308.40,97.50 L308.90,96.84 L309.40,96.34 L309.90,95.86 L310.40,95.17 L310.90,95.13 L311.40,94.81 L311.90,94.11 L312.40,94.11 L312.90,94.02 L313.40,93.83 L313.90,93.78 L314.40,93.51 L314.90,93.92 L315.40,93.96 L315.90,93.78 L316.40,93.70 L316.90,93.27 L317.40,92.91 L317.90,92.53 L318.40,91.74 L318.90,90.20 L319.40,88.64 L319.90,87.66 L320.40,85.10 L320.90,82.75 L321.40,80.57 L321.90,78.58 L322.40,75.25 L322.90,72.76 L323.40,71.15 L323.90,68.14 L324.40,66.89 L324.90,65.59 L325.40,63.76 L325.90,62.95 L326.40,62.49 L326.90,62.30 L327.40,63.21 L327.90,65.17 L328.40,68.10 L328.90,71.58 L329.40,75.71 L329.90,80.21 L330.40,84.11 L330.90,87.27 L331.40,90.58 L331.90,93.34 L332.40,95.96 L332.90,97.84 L333.40,99.21 L333.90,100.46 L334.40,101.33 L334.90,102.02 L335.40,102.44 L335.90,102.75 L336.40,102.96 L336.90,103.09 L337.40,103.18 L337.90,103.23 L338.40,103.26 L338.90,103.28 L339.40,103.29 L339.90,103.29 L340.40,103.30 L340.90,103.30 L341.40,103.30 L341.90,103.30 L342.40,103.30 L342.90,103.30 L343.40,103.30 L343.90,103.30 L344.40,103.30 L344.90,103.30 L345.40,103.30 L345.90,103.30 L346.40,103.30 L346.90,103.30 L347.40,103.30 L347.90,103.30 L348.40,103.30 L348.90,103.30 L349.40,103.30 L349.90,103.30 L350.40,103.30 L350.90,103.30 L351.40,103.30 L351.90,103.30 L352.40,103.30 L352.90,103.30 L353.40,103.30 L353.90,103.30 L354.40,103.30 L354.90,103.30 L355.40,103.30 L355.90,103.30 L356.40,103.30 L356.90,103.30 L357.40,103.30 L357.90,103.30 L358.40,103.30 L358.90,103.30 L359.40,103.30 L359.90,103.30 L360.40,103.30 L360.90,103.30 L361.40,103.30 L361.90,103.30 L362.40,103.30 L362.90,103.30 L363.40,103.30 L363.90,103.30 L364.40,103.30 L364.80,103.30 L364.80,103.30 Z" fill="#2d4b7d" stroke="none"/>
<path d="M290.40,114.40 L290.40,108.40 L290.90,110.04 L291.40,111.35 L291.90,112.03 L292.40,112.26 L292.90,112.31 L293.40,112.31 L293.90,112.28 L294.40,112.26 L294.90,112.22 L295.40,112.18 L295.90,112.12 L296.40,112.06 L296.90,111.98 L297.40,111.89 L297.90,111.78 L298.40,111.65 L298.90,111.49 L299.40,111.29 L299.90,111.09 L300.40,110.83 L300.90,110.54 L301.40,110.22 L301.90,109.79 L302.40,109.36 L302.90,108.81 L303.40,108.25 L303.90,107.55 L304.40,106.91 L304.90,106.18 L305.40,105.29 L305.90,104.07 L306.40,103.21 L306.90,101.77 L307.40,100.47 L307.90,99.42 L308.40,97.41 L308.90,96.39 L309.40,93.98 L309.90,92.19 L310.40,90.98 L310.90,88.49 L311.40,86.51 L311.90,85.34 L312.40,82.59 L312.90,81.47 L313.40,78.27 L313.90,76.79 L314.40,74.49 L314.90,74.63 L315.40,72.70 L315.90,70.84 L316.40,69.86 L316.90,70.04 L317.40,68.11 L317.90,68.27 L318.40,70.02 L318.90,71.29 L319.40,71.47 L319.90,73.52 L320.40,74.78 L320.90,77.01 L321.40,79.22 L321.90,81.93 L322.40,83.90 L322.90,85.63 L323.40,87.48 L323.90,90.00 L324.40,91.75 L324.90,93.96 L325.40,95.58 L325.90,97.57 L326.40,99.47 L326.90,101.11 L327.40,102.53 L327.90,103.81 L328.40,104.64 L328.90,105.70 L329.40,106.68 L329.90,107.68 L330.40,108.28 L330.90,109.01 L331.40,109.44 L331.90,109.95 L332.40,110.36 L332.90,110.72 L333.40,111.03 L333.90,111.25 L334.40,111.48 L334.90,111.65 L335.40,111.80 L335.90,111.92 L336.40,112.01 L336.90,112.09 L337.40,112.16 L337.90,112.21 L338.40,112.25 L338.90,112.28 L339.40,112.31 L339.90,112.33 L340.40,112.35 L340.90,112.36 L341.40,112.37 L341.90,112.38 L342.40,112.38 L342.90,112.39 L343.40,112.39 L343.90,112.39 L344.40,112.39 L344.90,112.40 L345.40,112.40 L345.90,112.40 L346.40,112.40 L346.90,112.40 L347.40,112.40 L347.90,112.40 L348.40,112.40 L348.90,112.40 L349.40,112.40 L349.90,112.40 L350.40,112.40 L350.90,112.40 L351.40,112.40 L351.90,112.40 L352.40,112.40 L352.90,112.40 L353.40,112.40 L353.90,112.40 L354.40,112.40 L354.90,112.40 L355.40,112.40 L355.90,112.40 L356.40,112.40 L356.90,112.40 L357.40,112.40 L357.90,112.40 L358.40,112.40 L358.90,112.40 L359.40,112.40 L359.90,112.40 L360.40,112.40 L360.90,112.40 L361.40,112.40 L361.90,112.40 L362.40,112.40 L362.90,112.40 L363.40,112.40 L363.90,112.40 L364.40,112.40 L364.80,112.40 L364.80,114.40 Z" fill="#fff" stroke="none"/>
<path d="M290.40,108.40 L290.90,110.04 L291.40,111.35 L291.90,112.03 L292.40,112.26 L292.90,112.31 L293.40,112.31 L293.90,112.28 L294.40,112.26 L294.90,112.22 L295.40,112.18 L295.90,112.12 L296.40,112.06 L296.90,111.98 L297.40,111.89 L297.90,111.78 L298.40,111.65 L298.90,111.49 L299.40,111.29 L299.90,111.09 L300.40,110.83 L300.90,110.54 L301.40,110.22 L301.90,109.79 L302.40,109.36 L302.90,108.81 L303.40,108.25 L303.90,107.55 L304.40,106.91 L304.90,106.18 L305.40,105.29 L305.90,104.07 L306.40,103.21 L306.90,101.77 L307.40,100.47 L307.90,99.42 L308.40,97.41 L308.90,96.39 L309.40,93.98 L309.90,92.19 L310.40,90.98 L310.90,88.49 L311.40,86.51 L311.90,85.34 L312.40,82.59 L312.90,81.47 L313.40,78.27 L313.90,76.79 L314.40,74.49 L314.90,74.63 L315.40,72.70 L315.90,70.84 L316.40,69.86 L316.90,70.04 L317.40,68.11 L317.90,68.27 L318.40,70.02 L318.90,71.29 L319.40,71.47 L319.90,73.52 L320.40,74.78 L320.90,77.01 L321.40,79.22 L321.90,81.93 L322.40,83.90 L322.90,85.63 L323.40,87.48 L323.90,90.00 L324.40,91.75 L324.90,93.96 L325.40,95.58 L325.90,97.57 L326.40,99.47 L326.90,101.11 L327.40,102.53 L327.90,103.81 L328.40,104.64 L328.90,105.70 L329.40,106.68 L329.90,107.68 L330.40,108.28 L330.90,109.01 L331.40,109.44 L331.90,109.95 L332.40,110.36 L332.90,110.72 L333.40,111.03 L333.90,111.25 L334.40,111.48 L334.90,111.65 L335.40,111.80 L335.90,111.92 L336.40,112.01 L336.90,112.09 L337.40,112.16 L337.90,112.21 L338.40,112.25 L338.90,112.28 L339.40,112.31 L339.90,112.33 L340.40,112.35 L340.90,112.36 L341.40,112.37 L341.90,112.38 L342.40,112.38 L342.90,112.39 L343.40,112.39 L343.90,112.39 L344.40,112.39 L344.90,112.40 L345.40,112.40 L345.90,112.40 L346.40,112.40 L346.90,112.40 L347.40,112.40 L347.90,112.40 L348.40,112.40 L348.90,112.40 L349.40,112.40 L349.90,112.40 L350.40,112.40 L350.90,112.40 L351.40,112.40 L351.90,112.40 L352.40,112.40 L352.90,112.40 L353.40,112.40 L353.90,112.40 L354.40,112.40 L354.90,112.40 L355.40,112.40 L355.90,112.40 L356.40,112.40 L356.90,112.40 L357.40,112.40 L357.90,112.40 L358.40,112.40 L358.90,112.40 L359.40,112.40 L359.90,112.40 L360.40,112.40 L360.90,112.40 L361.40,112.40 L361.90,112.40 L362.40,112.40 L362.90,112.40 L363.40,112.40 L363.90,112.40 L364.40,112.40 L364.80,112.40" fill="none" stroke="#93203f" stroke-width="0.9" stroke-linejoin="round"/>
<rect x="289.80" y="36.30" width="75.60" height="76.90" fill="none" stroke="#000" stroke-width="1.1" />
<path d="M290.36,113.70 v2.80 M291.26,113.70 v2.80 M292.07,113.70 v3.40 M297.36,113.70 v2.80 M300.46,113.70 v2.80 M302.65,113.70 v2.80 M304.36,113.70 v2.80 M305.75,113.70 v2.80 M306.93,113.70 v2.80 M307.95,113.70 v2.80 M308.84,113.70 v2.80 M309.65,113.70 v3.40 M314.94,113.70 v2.80 M318.04,113.70 v2.80 M320.23,113.70 v2.80 M321.94,113.70 v2.80 M323.33,113.70 v2.80 M324.51,113.70 v2.80 M325.53,113.70 v2.80 M326.43,113.70 v2.80 M327.23,113.70 v3.40 M332.52,113.70 v2.80 M335.62,113.70 v2.80 M337.82,113.70 v2.80 M339.52,113.70 v2.80 M340.91,113.70 v2.80 M342.09,113.70 v2.80 M343.11,113.70 v2.80 M344.01,113.70 v2.80 M344.81,113.70 v3.40 M350.10,113.70 v2.80 M353.20,113.70 v2.80 M355.40,113.70 v2.80 M357.10,113.70 v2.80 M358.49,113.70 v2.80 M359.67,113.70 v2.80 M360.69,113.70 v2.80 M361.59,113.70 v2.80 M362.39,113.70 v3.40" stroke="#000" stroke-width="1.05" fill="none"/>
<text x="276.10" y="127.00" font-size="8.2" text-anchor="start" font-weight="bold" fill="#222" textLength="20.2" lengthAdjust="spacingAndGlyphs" >pSTAT1</text>
<text x="372.00" y="31.20" font-size="6.8" text-anchor="start" font-weight="normal" fill="#333" textLength="36" lengthAdjust="spacingAndGlyphs" >IFN&#947; (ng/ml)</text>
<rect x="378.00" y="37.00" width="7.00" height="6.50" fill="#532368" stroke="none" stroke-width="1" />
<text x="388.00" y="43.20" font-size="6.8" text-anchor="start" font-weight="normal" fill="#222" >5</text>
<rect x="378.00" y="48.00" width="7.00" height="6.50" fill="#69aa3c" stroke="none" stroke-width="1" />
<text x="388.00" y="54.20" font-size="6.8" text-anchor="start" font-weight="normal" fill="#222" >0.5</text>
<rect x="378.00" y="59.00" width="7.00" height="6.50" fill="#2d4b7d" stroke="none" stroke-width="1" />
<text x="388.00" y="65.20" font-size="6.8" text-anchor="start" font-weight="normal" fill="#222" >0.05</text>
<rect x="378.40" y="70.20" width="6.30" height="5.80" fill="#fff" stroke="#93203f" stroke-width="0.9" />
<text x="388.00" y="76.20" font-size="6.8" text-anchor="start" font-weight="normal" fill="#222" >0</text>
<text x="7.60" y="157.30" font-size="12.2" text-anchor="start" font-weight="bold" fill="#000" stroke="#000" stroke-width="0.45">C</text>
<text x="57.00" y="170.40" font-size="7.7" text-anchor="middle" font-weight="normal" fill="#222" >Fit</text>
<text x="132.40" y="170.30" font-size="7.8" text-anchor="middle" font-weight="normal" fill="#222" >Senescent</text>
<line x1="20.40" y1="228.10" x2="94.00" y2="228.10" stroke="#c0c0c0" stroke-width="0.8" />
<path d="M20.40,228.10 L20.40,228.07 L20.90,228.06 L21.40,228.04 L21.90,228.02 L22.40,227.99 L22.90,227.96 L23.40,227.91 L23.90,227.84 L24.40,227.76 L24.90,227.66 L25.40,227.53 L25.90,227.36 L26.40,227.16 L26.90,226.96 L27.40,226.60 L27.90,226.14 L28.40,225.69 L28.90,225.12 L29.40,224.60 L29.90,223.63 L30.40,222.90 L30.90,222.28 L31.40,220.80 L31.90,219.99 L32.40,217.36 L32.90,215.61 L33.40,214.86 L33.90,213.01 L34.40,209.84 L34.90,209.09 L35.40,206.91 L35.90,204.53 L36.40,201.52 L36.90,197.85 L37.40,193.73 L37.90,194.72 L38.40,188.50 L38.90,188.26 L39.40,184.08 L39.90,182.55 L40.40,184.96 L40.90,180.43 L41.40,182.83 L41.90,182.92 L42.40,179.88 L42.90,177.31 L43.40,179.68 L43.90,184.04 L44.40,182.79 L44.90,186.05 L45.40,193.67 L45.90,196.86 L46.40,200.47 L46.90,203.97 L47.40,210.24 L47.90,212.77 L48.40,215.29 L48.90,218.67 L49.40,220.86 L49.90,222.69 L50.40,224.33 L50.90,225.50 L51.40,226.22 L51.90,226.84 L52.40,227.26 L52.90,227.56 L53.40,227.75 L53.90,227.88 L54.40,227.97 L54.90,228.02 L55.40,228.05 L55.90,228.07 L56.40,228.09 L56.90,228.09 L57.40,228.10 L57.90,228.10 L58.40,228.10 L58.90,228.10 L59.40,228.10 L59.90,228.10 L60.40,228.10 L60.90,228.10 L61.40,228.10 L61.90,228.10 L62.40,228.10 L62.90,228.10 L63.40,228.10 L63.90,228.10 L64.40,228.10 L64.90,228.10 L65.40,228.10 L65.90,228.10 L66.40,228.10 L66.90,228.10 L67.40,228.10 L67.90,228.10 L68.40,228.10 L68.90,228.10 L69.40,228.10 L69.90,228.10 L70.40,228.10 L70.90,228.10 L71.40,228.10 L71.90,228.10 L72.40,228.10 L72.90,228.10 L73.40,228.10 L73.90,228.10 L74.40,228.10 L74.90,228.10 L75.40,228.10 L75.90,228.10 L76.40,228.10 L76.90,228.10 L77.40,228.10 L77.90,228.10 L78.40,228.10 L78.90,228.10 L79.40,228.10 L79.90,228.10 L80.40,228.10 L80.90,228.10 L81.40,228.10 L81.90,228.10 L82.40,228.10 L82.90,228.10 L83.40,228.10 L83.90,228.10 L84.40,228.10 L84.90,228.10 L85.40,228.10 L85.90,228.10 L86.40,228.10 L86.90,228.10 L87.40,228.10 L87.90,228.10 L88.40,228.10 L88.90,228.10 L89.40,228.10 L89.90,228.10 L90.40,228.10 L90.90,228.10 L91.40,228.10 L91.90,228.10 L92.40,228.10 L92.90,228.10 L93.40,228.10 L93.90,228.10 L94.00,228.10 L94.00,228.10 Z" fill="#532368" stroke="none"/>
<path d="M20.40,240.40 L20.40,238.40 L20.90,238.40 L21.40,238.40 L21.90,238.40 L22.40,238.40 L22.90,238.40 L23.40,238.40 L23.90,238.40 L24.40,238.40 L24.90,238.40 L25.40,238.40 L25.90,238.40 L26.40,238.40 L26.90,238.40 L27.40,238.40 L27.90,238.40 L28.40,238.40 L28.90,238.40 L29.40,238.40 L29.90,238.40 L30.40,238.40 L30.90,238.40 L31.40,238.40 L31.90,238.40 L32.40,238.40 L32.90,238.40 L33.40,238.40 L33.90,238.40 L34.40,238.40 L34.90,238.40 L35.40,238.40 L35.90,238.40 L36.40,238.40 L36.90,238.40 L37.40,238.40 L37.90,238.40 L38.40,238.40 L38.90,238.40 L39.40,238.40 L39.90,238.40 L40.40,238.40 L40.90,238.40 L41.40,238.40 L41.90,238.40 L42.40,238.40 L42.90,238.40 L43.40,238.40 L43.90,238.40 L44.40,238.40 L44.90,238.40 L45.40,238.40 L45.90,238.40 L46.40,238.40 L46.90,238.40 L47.40,238.40 L47.90,238.40 L48.40,238.40 L48.90,238.40 L49.40,238.40 L49.90,238.40 L50.40,238.40 L50.90,238.40 L51.40,238.40 L51.90,238.39 L52.40,238.39 L52.90,238.38 L53.40,238.37 L53.90,238.36 L54.40,238.34 L54.90,238.31 L55.40,238.28 L55.90,238.22 L56.40,238.15 L56.90,238.05 L57.40,237.92 L57.90,237.74 L58.40,237.51 L58.90,237.22 L59.40,236.82 L59.90,236.29 L60.40,235.72 L60.90,234.99 L61.40,234.13 L61.90,233.10 L62.40,231.55 L62.90,230.11 L63.40,228.60 L63.90,226.45 L64.40,224.15 L64.90,221.52 L65.40,219.42 L65.90,216.57 L66.40,213.78 L66.90,210.18 L67.40,206.53 L67.90,203.70 L68.40,201.78 L68.90,198.56 L69.40,196.64 L69.90,194.27 L70.40,191.69 L70.90,191.11 L71.40,189.95 L71.90,189.65 L72.40,189.44 L72.90,189.38 L73.40,192.55 L73.90,194.02 L74.40,197.34 L74.90,200.81 L75.40,204.32 L75.90,207.26 L76.40,210.96 L76.90,214.80 L77.40,218.15 L77.90,221.56 L78.40,224.80 L78.90,227.39 L79.40,229.45 L79.90,231.34 L80.40,232.88 L80.90,234.16 L81.40,235.23 L81.90,236.04 L82.40,236.70 L82.90,237.18 L83.40,237.55 L83.90,237.81 L84.40,238.00 L84.90,238.13 L85.40,238.22 L85.90,238.28 L86.40,238.32 L86.90,238.35 L87.40,238.37 L87.90,238.38 L88.40,238.39 L88.90,238.39 L89.40,238.40 L89.90,238.40 L90.40,238.40 L90.90,238.40 L91.40,238.40 L91.90,238.40 L92.40,238.40 L92.90,238.40 L93.40,238.40 L93.90,238.40 L94.00,238.40 L94.00,240.40 Z" fill="#fff" stroke="none"/>
<path d="M20.40,238.40 L20.90,238.40 L21.40,238.40 L21.90,238.40 L22.40,238.40 L22.90,238.40 L23.40,238.40 L23.90,238.40 L24.40,238.40 L24.90,238.40 L25.40,238.40 L25.90,238.40 L26.40,238.40 L26.90,238.40 L27.40,238.40 L27.90,238.40 L28.40,238.40 L28.90,238.40 L29.40,238.40 L29.90,238.40 L30.40,238.40 L30.90,238.40 L31.40,238.40 L31.90,238.40 L32.40,238.40 L32.90,238.40 L33.40,238.40 L33.90,238.40 L34.40,238.40 L34.90,238.40 L35.40,238.40 L35.90,238.40 L36.40,238.40 L36.90,238.40 L37.40,238.40 L37.90,238.40 L38.40,238.40 L38.90,238.40 L39.40,238.40 L39.90,238.40 L40.40,238.40 L40.90,238.40 L41.40,238.40 L41.90,238.40 L42.40,238.40 L42.90,238.40 L43.40,238.40 L43.90,238.40 L44.40,238.40 L44.90,238.40 L45.40,238.40 L45.90,238.40 L46.40,238.40 L46.90,238.40 L47.40,238.40 L47.90,238.40 L48.40,238.40 L48.90,238.40 L49.40,238.40 L49.90,238.40 L50.40,238.40 L50.90,238.40 L51.40,238.40 L51.90,238.39 L52.40,238.39 L52.90,238.38 L53.40,238.37 L53.90,238.36 L54.40,238.34 L54.90,238.31 L55.40,238.28 L55.90,238.22 L56.40,238.15 L56.90,238.05 L57.40,237.92 L57.90,237.74 L58.40,237.51 L58.90,237.22 L59.40,236.82 L59.90,236.29 L60.40,235.72 L60.90,234.99 L61.40,234.13 L61.90,233.10 L62.40,231.55 L62.90,230.11 L63.40,228.60 L63.90,226.45 L64.40,224.15 L64.90,221.52 L65.40,219.42 L65.90,216.57 L66.40,213.78 L66.90,210.18 L67.40,206.53 L67.90,203.70 L68.40,201.78 L68.90,198.56 L69.40,196.64 L69.90,194.27 L70.40,191.69 L70.90,191.11 L71.40,189.95 L71.90,189.65 L72.40,189.44 L72.90,189.38 L73.40,192.55 L73.90,194.02 L74.40,197.34 L74.90,200.81 L75.40,204.32 L75.90,207.26 L76.40,210.96 L76.90,214.80 L77.40,218.15 L77.90,221.56 L78.40,224.80 L78.90,227.39 L79.40,229.45 L79.90,231.34 L80.40,232.88 L80.90,234.16 L81.40,235.23 L81.90,236.04 L82.40,236.70 L82.90,237.18 L83.40,237.55 L83.90,237.81 L84.40,238.00 L84.90,238.13 L85.40,238.22 L85.90,238.28 L86.40,238.32 L86.90,238.35 L87.40,238.37 L87.90,238.38 L88.40,238.39 L88.90,238.39 L89.40,238.40 L89.90,238.40 L90.40,238.40 L90.90,238.40 L91.40,238.40 L91.90,238.40 L92.40,238.40 L92.90,238.40 L93.40,238.40 L93.90,238.40 L94.00,238.40" fill="none" stroke="#93203f" stroke-width="1.1" stroke-linejoin="round"/>
<path d="M20.40,249.10 L20.40,249.10 L20.90,249.10 L21.40,249.10 L21.90,249.10 L22.40,249.10 L22.90,249.10 L23.40,249.10 L23.90,249.10 L24.40,249.10 L24.90,249.10 L25.40,249.10 L25.90,249.10 L26.40,249.10 L26.90,249.10 L27.40,249.10 L27.90,249.10 L28.40,249.10 L28.90,249.10 L29.40,249.10 L29.90,249.10 L30.40,249.10 L30.90,249.10 L31.40,249.10 L31.90,249.10 L32.40,249.10 L32.90,249.10 L33.40,249.10 L33.90,249.10 L34.40,249.10 L34.90,249.10 L35.40,249.10 L35.90,249.10 L36.40,249.10 L36.90,249.10 L37.40,249.10 L37.90,249.10 L38.40,249.10 L38.90,249.10 L39.40,249.10 L39.90,249.10 L40.40,249.10 L40.90,249.10 L41.40,249.10 L41.90,249.10 L42.40,249.10 L42.90,249.10 L43.40,249.10 L43.90,249.10 L44.40,249.10 L44.90,249.10 L45.40,249.10 L45.90,249.10 L46.40,249.10 L46.90,249.10 L47.40,249.10 L47.90,249.10 L48.40,249.10 L48.90,249.10 L49.40,249.10 L49.90,249.10 L50.40,249.10 L50.90,249.10 L51.40,249.10 L51.90,249.10 L52.40,249.10 L52.90,249.10 L53.40,249.10 L53.90,249.10 L54.40,249.10 L54.90,249.10 L55.40,249.10 L55.90,249.10 L56.40,249.10 L56.90,249.10 L57.40,249.10 L57.90,249.10 L58.40,249.10 L58.90,249.10 L59.40,249.10 L59.90,249.10 L60.40,249.10 L60.90,249.10 L61.40,249.10 L61.90,249.10 L62.40,249.10 L62.90,249.10 L63.40,249.10 L63.90,249.10 L64.40,249.10 L64.90,249.10 L65.40,249.09 L65.90,249.09 L66.40,249.08 L66.90,249.06 L67.40,249.04 L67.90,248.99 L68.40,248.92 L68.90,248.81 L69.40,248.64 L69.90,248.39 L70.40,248.07 L70.90,247.46 L71.40,246.74 L71.90,245.93 L72.40,244.49 L72.90,242.98 L73.40,240.51 L73.90,237.92 L74.40,235.44 L74.90,231.62 L75.40,227.90 L75.90,224.16 L76.40,219.54 L76.90,215.33 L77.40,211.01 L77.90,205.67 L78.40,203.25 L78.90,203.53 L79.40,201.01 L79.90,198.29 L80.40,199.77 L80.90,201.94 L81.40,204.19 L81.90,207.16 L82.40,212.36 L82.90,215.53 L83.40,219.91 L83.90,224.11 L84.40,227.11 L84.90,231.80 L85.40,234.86 L85.90,237.24 L86.40,239.69 L86.90,242.20 L87.40,243.67 L87.90,245.10 L88.40,246.35 L88.90,247.03 L89.40,247.74 L89.90,248.14 L90.40,248.46 L90.90,248.68 L91.40,248.83 L91.90,248.93 L92.40,248.99 L92.90,249.03 L93.40,249.06 L93.90,249.08 L94.00,249.08 L94.00,249.10 Z" fill="#2d4b7d" stroke="none"/>
<line x1="96.00" y1="228.10" x2="168.70" y2="228.10" stroke="#c0c0c0" stroke-width="0.8" />
<path d="M96.00,228.10 L96.00,228.10 L96.50,228.10 L97.00,228.10 L97.50,228.10 L98.00,228.09 L98.50,228.06 L99.00,227.99 L99.50,227.84 L100.00,227.51 L100.50,227.00 L101.00,226.03 L101.50,224.37 L102.00,222.73 L102.50,219.46 L103.00,217.20 L103.50,214.47 L104.00,210.13 L104.50,207.56 L105.00,205.07 L105.50,201.45 L106.00,198.42 L106.50,197.73 L107.00,193.28 L107.50,194.79 L108.00,192.05 L108.50,193.18 L109.00,193.96 L109.50,191.79 L110.00,189.95 L110.50,190.34 L111.00,188.71 L111.50,190.64 L112.00,189.51 L112.50,188.45 L113.00,185.10 L113.50,181.60 L114.00,183.48 L114.50,179.76 L115.00,183.78 L115.50,182.80 L116.00,180.05 L116.50,179.90 L117.00,180.70 L117.50,185.88 L118.00,184.83 L118.50,188.28 L119.00,187.36 L119.50,190.55 L120.00,192.54 L120.50,194.87 L121.00,197.01 L121.50,202.07 L122.00,203.34 L122.50,208.52 L123.00,209.90 L123.50,214.37 L124.00,215.75 L124.50,217.87 L125.00,220.37 L125.50,222.27 L126.00,223.38 L126.50,224.59 L127.00,225.57 L127.50,226.38 L128.00,226.85 L128.50,227.22 L129.00,227.49 L129.50,227.67 L130.00,227.80 L130.50,227.89 L131.00,227.95 L131.50,227.99 L132.00,228.02 L132.50,228.05 L133.00,228.06 L133.50,228.07 L134.00,228.08 L134.50,228.09 L135.00,228.09 L135.50,228.09 L136.00,228.10 L136.50,228.10 L137.00,228.10 L137.50,228.10 L138.00,228.10 L138.50,228.10 L139.00,228.10 L139.50,228.10 L140.00,228.10 L140.50,228.10 L141.00,228.10 L141.50,228.10 L142.00,228.10 L142.50,228.10 L143.00,228.10 L143.50,228.10 L144.00,228.10 L144.50,228.10 L145.00,228.10 L145.50,228.10 L146.00,228.10 L146.50,228.10 L147.00,228.10 L147.50,228.10 L148.00,228.10 L148.50,228.10 L149.00,228.10 L149.50,228.10 L150.00,228.10 L150.50,228.10 L151.00,228.10 L151.50,228.10 L152.00,228.10 L152.50,228.10 L153.00,228.10 L153.50,228.10 L154.00,228.10 L154.50,228.10 L155.00,228.10 L155.50,228.10 L156.00,228.10 L156.50,228.10 L157.00,228.10 L157.50,228.10 L158.00,228.10 L158.50,228.10 L159.00,228.10 L159.50,228.10 L160.00,228.10 L160.50,228.10 L161.00,228.10 L161.50,228.10 L162.00,228.10 L162.50,228.10 L163.00,228.10 L163.50,228.10 L164.00,228.10 L164.50,228.10 L165.00,228.10 L165.50,228.10 L166.00,228.10 L166.50,228.10 L167.00,228.10 L167.50,228.10 L168.00,228.10 L168.50,228.10 L168.70,228.10 L168.70,228.10 Z" fill="#532368" stroke="none"/>
<path d="M96.00,240.40 L96.00,238.40 L96.50,238.40 L97.00,238.40 L97.50,238.40 L98.00,238.40 L98.50,238.40 L99.00,238.40 L99.50,238.40 L100.00,238.40 L100.50,238.40 L101.00,238.40 L101.50,238.40 L102.00,238.40 L102.50,238.40 L103.00,238.40 L103.50,238.40 L104.00,238.40 L104.50,238.40 L105.00,238.40 L105.50,238.40 L106.00,238.40 L106.50,238.40 L107.00,238.40 L107.50,238.40 L108.00,238.40 L108.50,238.40 L109.00,238.40 L109.50,238.40 L110.00,238.40 L110.50,238.40 L111.00,238.40 L111.50,238.40 L112.00,238.40 L112.50,238.40 L113.00,238.40 L113.50,238.40 L114.00,238.40 L114.50,238.40 L115.00,238.40 L115.50,238.39 L116.00,238.39 L116.50,238.38 L117.00,238.37 L117.50,238.36 L118.00,238.33 L118.50,238.29 L119.00,238.24 L119.50,238.15 L120.00,238.03 L120.50,237.86 L121.00,237.61 L121.50,237.28 L122.00,236.82 L122.50,236.21 L123.00,235.52 L123.50,234.57 L124.00,233.23 L124.50,231.82 L125.00,229.87 L125.50,227.62 L126.00,225.60 L126.50,222.60 L127.00,219.66 L127.50,216.16 L128.00,211.81 L128.50,209.12 L129.00,205.16 L129.50,201.98 L130.00,198.80 L130.50,196.01 L131.00,193.77 L131.50,190.22 L132.00,189.32 L132.50,189.78 L133.00,189.37 L133.50,190.75 L134.00,195.04 L134.50,197.78 L135.00,202.96 L135.50,207.15 L136.00,211.64 L136.50,216.01 L137.00,220.05 L137.50,224.04 L138.00,227.29 L138.50,229.83 L139.00,232.21 L139.50,233.88 L140.00,235.22 L140.50,236.20 L141.00,236.98 L141.50,237.46 L142.00,237.80 L142.50,238.03 L143.00,238.17 L143.50,238.27 L144.00,238.32 L144.50,238.36 L145.00,238.38 L145.50,238.39 L146.00,238.39 L146.50,238.40 L147.00,238.40 L147.50,238.40 L148.00,238.40 L148.50,238.40 L149.00,238.40 L149.50,238.40 L150.00,238.40 L150.50,238.40 L151.00,238.40 L151.50,238.40 L152.00,238.40 L152.50,238.40 L153.00,238.40 L153.50,238.40 L154.00,238.40 L154.50,238.40 L155.00,238.40 L155.50,238.40 L156.00,238.40 L156.50,238.40 L157.00,238.40 L157.50,238.40 L158.00,238.40 L158.50,238.40 L159.00,238.40 L159.50,238.40 L160.00,238.40 L160.50,238.40 L161.00,238.40 L161.50,238.40 L162.00,238.40 L162.50,238.40 L163.00,238.40 L163.50,238.40 L164.00,238.40 L164.50,238.40 L165.00,238.40 L165.50,238.40 L166.00,238.40 L166.50,238.40 L167.00,238.40 L167.50,238.40 L168.00,238.40 L168.50,238.40 L168.70,238.40 L168.70,240.40 Z" fill="#fff" stroke="none"/>
<path d="M96.00,238.40 L96.50,238.40 L97.00,238.40 L97.50,238.40 L98.00,238.40 L98.50,238.40 L99.00,238.40 L99.50,238.40 L100.00,238.40 L100.50,238.40 L101.00,238.40 L101.50,238.40 L102.00,238.40 L102.50,238.40 L103.00,238.40 L103.50,238.40 L104.00,238.40 L104.50,238.40 L105.00,238.40 L105.50,238.40 L106.00,238.40 L106.50,238.40 L107.00,238.40 L107.50,238.40 L108.00,238.40 L108.50,238.40 L109.00,238.40 L109.50,238.40 L110.00,238.40 L110.50,238.40 L111.00,238.40 L111.50,238.40 L112.00,238.40 L112.50,238.40 L113.00,238.40 L113.50,238.40 L114.00,238.40 L114.50,238.40 L115.00,238.40 L115.50,238.39 L116.00,238.39 L116.50,238.38 L117.00,238.37 L117.50,238.36 L118.00,238.33 L118.50,238.29 L119.00,238.24 L119.50,238.15 L120.00,238.03 L120.50,237.86 L121.00,237.61 L121.50,237.28 L122.00,236.82 L122.50,236.21 L123.00,235.52 L123.50,234.57 L124.00,233.23 L124.50,231.82 L125.00,229.87 L125.50,227.62 L126.00,225.60 L126.50,222.60 L127.00,219.66 L127.50,216.16 L128.00,211.81 L128.50,209.12 L129.00,205.16 L129.50,201.98 L130.00,198.80 L130.50,196.01 L131.00,193.77 L131.50,190.22 L132.00,189.32 L132.50,189.78 L133.00,189.37 L133.50,190.75 L134.00,195.04 L134.50,197.78 L135.00,202.96 L135.50,207.15 L136.00,211.64 L136.50,216.01 L137.00,220.05 L137.50,224.04 L138.00,227.29 L138.50,229.83 L139.00,232.21 L139.50,233.88 L140.00,235.22 L140.50,236.20 L141.00,236.98 L141.50,237.46 L142.00,237.80 L142.50,238.03 L143.00,238.17 L143.50,238.27 L144.00,238.32 L144.50,238.36 L145.00,238.38 L145.50,238.39 L146.00,238.39 L146.50,238.40 L147.00,238.40 L147.50,238.40 L148.00,238.40 L148.50,238.40 L149.00,238.40 L149.50,238.40 L150.00,238.40 L150.50,238.40 L151.00,238.40 L151.50,238.40 L152.00,238.40 L152.50,238.40 L153.00,238.40 L153.50,238.40 L154.00,238.40 L154.50,238.40 L155.00,238.40 L155.50,238.40 L156.00,238.40 L156.50,238.40 L157.00,238.40 L157.50,238.40 L158.00,238.40 L158.50,238.40 L159.00,238.40 L159.50,238.40 L160.00,238.40 L160.50,238.40 L161.00,238.40 L161.50,238.40 L162.00,238.40 L162.50,238.40 L163.00,238.40 L163.50,238.40 L164.00,238.40 L164.50,238.40 L165.00,238.40 L165.50,238.40 L166.00,238.40 L166.50,238.40 L167.00,238.40 L167.50,238.40 L168.00,238.40 L168.50,238.40 L168.70,238.40" fill="none" stroke="#93203f" stroke-width="1.1" stroke-linejoin="round"/>
<path d="M96.00,249.10 L96.00,249.10 L96.50,249.10 L97.00,249.10 L97.50,249.10 L98.00,249.10 L98.50,249.10 L99.00,249.10 L99.50,249.10 L100.00,249.10 L100.50,249.10 L101.00,249.10 L101.50,249.10 L102.00,249.10 L102.50,249.10 L103.00,249.10 L103.50,249.10 L104.00,249.10 L104.50,249.10 L105.00,249.10 L105.50,249.10 L106.00,249.10 L106.50,249.10 L107.00,249.10 L107.50,249.10 L108.00,249.10 L108.50,249.10 L109.00,249.10 L109.50,249.10 L110.00,249.10 L110.50,249.10 L111.00,249.10 L111.50,249.10 L112.00,249.10 L112.50,249.10 L113.00,249.10 L113.50,249.10 L114.00,249.10 L114.50,249.10 L115.00,249.10 L115.50,249.10 L116.00,249.10 L116.50,249.10 L117.00,249.10 L117.50,249.10 L118.00,249.10 L118.50,249.10 L119.00,249.10 L119.50,249.10 L120.00,249.10 L120.50,249.10 L121.00,249.10 L121.50,249.10 L122.00,249.10 L122.50,249.10 L123.00,249.10 L123.50,249.10 L124.00,249.10 L124.50,249.09 L125.00,249.09 L125.50,249.07 L126.00,249.05 L126.50,249.01 L127.00,248.95 L127.50,248.84 L128.00,248.67 L128.50,248.40 L129.00,248.02 L129.50,247.43 L130.00,246.65 L130.50,245.41 L131.00,243.81 L131.50,241.90 L132.00,239.36 L132.50,236.11 L133.00,232.88 L133.50,228.67 L134.00,223.83 L134.50,219.38 L135.00,213.90 L135.50,209.50 L136.00,206.15 L136.50,203.63 L137.00,202.88 L137.50,200.50 L138.00,201.10 L138.50,204.08 L139.00,206.69 L139.50,208.83 L140.00,212.69 L140.50,216.53 L141.00,220.55 L141.50,224.57 L142.00,229.06 L142.50,231.92 L143.00,234.77 L143.50,238.50 L144.00,240.48 L144.50,242.57 L145.00,244.13 L145.50,245.68 L146.00,246.58 L146.50,247.41 L147.00,247.94 L147.50,248.30 L148.00,248.57 L148.50,248.76 L149.00,248.88 L149.50,248.97 L150.00,249.02 L150.50,249.05 L151.00,249.07 L151.50,249.08 L152.00,249.09 L152.50,249.10 L153.00,249.10 L153.50,249.10 L154.00,249.10 L154.50,249.10 L155.00,249.10 L155.50,249.10 L156.00,249.10 L156.50,249.10 L157.00,249.10 L157.50,249.10 L158.00,249.10 L158.50,249.10 L159.00,249.10 L159.50,249.10 L160.00,249.10 L160.50,249.10 L161.00,249.10 L161.50,249.10 L162.00,249.10 L162.50,249.10 L163.00,249.10 L163.50,249.10 L164.00,249.10 L164.50,249.10 L165.00,249.10 L165.50,249.10 L166.00,249.10 L166.50,249.10 L167.00,249.10 L167.50,249.10 L168.00,249.10 L168.50,249.10 L168.70,249.10 L168.70,249.10 Z" fill="#2d4b7d" stroke="none"/>
<rect x="19.80" y="175.50" width="149.50" height="74.10" fill="none" stroke="#000" stroke-width="1.1" />
<line x1="95.00" y1="175.50" x2="95.00" y2="249.60" stroke="#000" stroke-width="2.0" />
<path d="M20.36,250.10 v2.80 M21.26,250.10 v2.80 M22.06,250.10 v3.40 M27.32,250.10 v2.80 M30.40,250.10 v2.80 M32.59,250.10 v2.80 M34.28,250.10 v2.80 M35.66,250.10 v2.80 M36.84,250.10 v2.80 M37.85,250.10 v2.80 M38.74,250.10 v2.80 M39.54,250.10 v3.40 M44.81,250.10 v2.80 M47.89,250.10 v2.80 M50.07,250.10 v2.80 M51.77,250.10 v2.80 M53.15,250.10 v2.80 M54.32,250.10 v2.80 M55.34,250.10 v2.80 M56.23,250.10 v2.80 M57.03,250.10 v3.40 M62.30,250.10 v2.80 M65.38,250.10 v2.80 M67.56,250.10 v2.80 M69.26,250.10 v2.80 M70.64,250.10 v2.80 M71.81,250.10 v2.80 M72.83,250.10 v2.80 M73.72,250.10 v2.80 M74.52,250.10 v3.40 M79.79,250.10 v2.80 M82.87,250.10 v2.80 M85.05,250.10 v2.80 M86.74,250.10 v2.80 M88.13,250.10 v2.80 M89.30,250.10 v2.80 M90.31,250.10 v2.80 M91.21,250.10 v2.80 M92.01,250.10 v3.40" stroke="#000" stroke-width="1.05" fill="none"/>
<path d="M95.55,250.10 v2.80 M96.44,250.10 v2.80 M97.23,250.10 v3.40 M102.43,250.10 v2.80 M105.47,250.10 v2.80 M107.63,250.10 v2.80 M109.31,250.10 v2.80 M110.67,250.10 v2.80 M111.83,250.10 v2.80 M112.83,250.10 v2.80 M113.72,250.10 v2.80 M114.51,250.10 v3.40 M119.71,250.10 v2.80 M122.75,250.10 v2.80 M124.91,250.10 v2.80 M126.59,250.10 v2.80 M127.95,250.10 v2.80 M129.11,250.10 v2.80 M130.11,250.10 v2.80 M131.00,250.10 v2.80 M131.79,250.10 v3.40 M136.99,250.10 v2.80 M140.03,250.10 v2.80 M142.19,250.10 v2.80 M143.86,250.10 v2.80 M145.23,250.10 v2.80 M146.39,250.10 v2.80 M147.39,250.10 v2.80 M148.28,250.10 v2.80 M149.07,250.10 v3.40 M154.27,250.10 v2.80 M157.31,250.10 v2.80 M159.47,250.10 v2.80 M161.14,250.10 v2.80 M162.51,250.10 v2.80 M163.67,250.10 v2.80 M164.67,250.10 v2.80 M165.55,250.10 v2.80 M166.35,250.10 v3.40" stroke="#000" stroke-width="1.05" fill="none"/>
<text x="180.10" y="212.60" font-size="7.9" text-anchor="middle" font-weight="normal" fill="#222" transform="rotate(-90 180.10 212.60)" >HLA ABC</text>
<line x1="20.40" y1="306.60" x2="94.00" y2="306.60" stroke="#c0c0c0" stroke-width="0.8" />
<path d="M20.40,306.60 L20.40,306.55 L20.90,306.54 L21.40,306.53 L21.90,306.51 L22.40,306.48 L22.90,306.45 L23.40,306.42 L23.90,306.37 L24.40,306.32 L24.90,306.25 L25.40,306.18 L25.90,306.08 L26.40,305.97 L26.90,305.84 L27.40,305.68 L27.90,305.48 L28.40,305.33 L28.90,304.92 L29.40,304.62 L29.90,304.41 L30.40,303.95 L30.90,303.69 L31.40,303.21 L31.90,302.63 L32.40,301.75 L32.90,301.38 L33.40,299.96 L33.90,299.93 L34.40,298.89 L34.90,298.02 L35.40,295.96 L35.90,295.33 L36.40,293.84 L36.90,292.71 L37.40,290.55 L37.90,289.49 L38.40,288.36 L38.90,286.04 L39.40,284.65 L39.90,283.50 L40.40,279.08 L40.90,277.63 L41.40,275.71 L41.90,272.76 L42.40,273.08 L42.90,271.32 L43.40,269.33 L43.90,267.73 L44.40,264.61 L44.90,267.02 L45.40,262.94 L45.90,261.28 L46.40,261.46 L46.90,262.74 L47.40,257.55 L47.90,261.75 L48.40,257.73 L48.90,260.48 L49.40,262.22 L49.90,263.48 L50.40,267.48 L50.90,271.11 L51.40,273.31 L51.90,278.33 L52.40,284.59 L52.90,288.37 L53.40,292.86 L53.90,296.27 L54.40,298.69 L54.90,301.43 L55.40,302.77 L55.90,304.11 L56.40,305.00 L56.90,305.62 L57.40,306.00 L57.90,306.25 L58.40,306.40 L58.90,306.49 L59.40,306.54 L59.90,306.57 L60.40,306.58 L60.90,306.59 L61.40,306.60 L61.90,306.60 L62.40,306.60 L62.90,306.60 L63.40,306.60 L63.90,306.60 L64.40,306.60 L64.90,306.60 L65.40,306.60 L65.90,306.60 L66.40,306.60 L66.90,306.60 L67.40,306.60 L67.90,306.60 L68.40,306.60 L68.90,306.60 L69.40,306.60 L69.90,306.60 L70.40,306.60 L70.90,306.60 L71.40,306.60 L71.90,306.60 L72.40,306.60 L72.90,306.60 L73.40,306.60 L73.90,306.60 L74.40,306.60 L74.90,306.60 L75.40,306.60 L75.90,306.60 L76.40,306.60 L76.90,306.60 L77.40,306.60 L77.90,306.60 L78.40,306.60 L78.90,306.60 L79.40,306.60 L79.90,306.60 L80.40,306.60 L80.90,306.60 L81.40,306.60 L81.90,306.60 L82.40,306.60 L82.90,306.60 L83.40,306.60 L83.90,306.60 L84.40,306.60 L84.90,306.60 L85.40,306.60 L85.90,306.60 L86.40,306.60 L86.90,306.60 L87.40,306.60 L87.90,306.60 L88.40,306.60 L88.90,306.60 L89.40,306.60 L89.90,306.60 L90.40,306.60 L90.90,306.60 L91.40,306.60 L91.90,306.60 L92.40,306.60 L92.90,306.60 L93.40,306.60 L93.90,306.60 L94.00,306.60 L94.00,306.60 Z" fill="#532368" stroke="none"/>
<path d="M20.40,318.90 L20.40,316.90 L20.90,316.89 L21.40,316.89 L21.90,316.89 L22.40,316.89 L22.90,316.88 L23.40,316.87 L23.90,316.86 L24.40,316.85 L24.90,316.84 L25.40,316.81 L25.90,316.79 L26.40,316.75 L26.90,316.71 L27.40,316.65 L27.90,316.58 L28.40,316.48 L28.90,316.37 L29.40,316.23 L29.90,316.06 L30.40,315.86 L30.90,315.57 L31.40,315.25 L31.90,314.92 L32.40,314.49 L32.90,313.99 L33.40,313.41 L33.90,312.69 L34.40,311.89 L34.90,310.77 L35.40,309.92 L35.90,308.73 L36.40,307.05 L36.90,305.52 L37.40,304.35 L37.90,302.42 L38.40,299.91 L38.90,298.30 L39.40,295.81 L39.90,293.32 L40.40,290.85 L40.90,289.07 L41.40,285.42 L41.90,282.52 L42.40,280.42 L42.90,277.92 L43.40,274.50 L43.90,271.32 L44.40,268.95 L44.90,268.46 L45.40,265.01 L45.90,263.89 L46.40,260.99 L46.90,259.76 L47.40,260.19 L47.90,258.40 L48.40,258.20 L48.90,261.08 L49.40,262.90 L49.90,265.96 L50.40,273.38 L50.90,279.40 L51.40,285.78 L51.90,292.58 L52.40,297.93 L52.90,303.36 L53.40,307.10 L53.90,310.22 L54.40,312.62 L54.90,314.08 L55.40,315.17 L55.90,315.88 L56.40,316.33 L56.90,316.59 L57.40,316.74 L57.90,316.82 L58.40,316.86 L58.90,316.88 L59.40,316.89 L59.90,316.90 L60.40,316.90 L60.90,316.90 L61.40,316.90 L61.90,316.90 L62.40,316.90 L62.90,316.90 L63.40,316.90 L63.90,316.90 L64.40,316.90 L64.90,316.90 L65.40,316.90 L65.90,316.90 L66.40,316.90 L66.90,316.90 L67.40,316.90 L67.90,316.90 L68.40,316.90 L68.90,316.90 L69.40,316.90 L69.90,316.90 L70.40,316.90 L70.90,316.90 L71.40,316.90 L71.90,316.90 L72.40,316.90 L72.90,316.90 L73.40,316.90 L73.90,316.90 L74.40,316.90 L74.90,316.90 L75.40,316.90 L75.90,316.90 L76.40,316.90 L76.90,316.90 L77.40,316.90 L77.90,316.90 L78.40,316.90 L78.90,316.90 L79.40,316.90 L79.90,316.90 L80.40,316.90 L80.90,316.90 L81.40,316.90 L81.90,316.90 L82.40,316.90 L82.90,316.90 L83.40,316.90 L83.90,316.90 L84.40,316.90 L84.90,316.90 L85.40,316.90 L85.90,316.90 L86.40,316.90 L86.90,316.90 L87.40,316.90 L87.90,316.90 L88.40,316.90 L88.90,316.90 L89.40,316.90 L89.90,316.90 L90.40,316.90 L90.90,316.90 L91.40,316.90 L91.90,316.90 L92.40,316.90 L92.90,316.90 L93.40,316.90 L93.90,316.90 L94.00,316.90 L94.00,318.90 Z" fill="#fff" stroke="none"/>
<path d="M20.40,316.90 L20.90,316.89 L21.40,316.89 L21.90,316.89 L22.40,316.89 L22.90,316.88 L23.40,316.87 L23.90,316.86 L24.40,316.85 L24.90,316.84 L25.40,316.81 L25.90,316.79 L26.40,316.75 L26.90,316.71 L27.40,316.65 L27.90,316.58 L28.40,316.48 L28.90,316.37 L29.40,316.23 L29.90,316.06 L30.40,315.86 L30.90,315.57 L31.40,315.25 L31.90,314.92 L32.40,314.49 L32.90,313.99 L33.40,313.41 L33.90,312.69 L34.40,311.89 L34.90,310.77 L35.40,309.92 L35.90,308.73 L36.40,307.05 L36.90,305.52 L37.40,304.35 L37.90,302.42 L38.40,299.91 L38.90,298.30 L39.40,295.81 L39.90,293.32 L40.40,290.85 L40.90,289.07 L41.40,285.42 L41.90,282.52 L42.40,280.42 L42.90,277.92 L43.40,274.50 L43.90,271.32 L44.40,268.95 L44.90,268.46 L45.40,265.01 L45.90,263.89 L46.40,260.99 L46.90,259.76 L47.40,260.19 L47.90,258.40 L48.40,258.20 L48.90,261.08 L49.40,262.90 L49.90,265.96 L50.40,273.38 L50.90,279.40 L51.40,285.78 L51.90,292.58 L52.40,297.93 L52.90,303.36 L53.40,307.10 L53.90,310.22 L54.40,312.62 L54.90,314.08 L55.40,315.17 L55.90,315.88 L56.40,316.33 L56.90,316.59 L57.40,316.74 L57.90,316.82 L58.40,316.86 L58.90,316.88 L59.40,316.89 L59.90,316.90 L60.40,316.90 L60.90,316.90 L61.40,316.90 L61.90,316.90 L62.40,316.90 L62.90,316.90 L63.40,316.90 L63.90,316.90 L64.40,316.90 L64.90,316.90 L65.40,316.90 L65.90,316.90 L66.40,316.90 L66.90,316.90 L67.40,316.90 L67.90,316.90 L68.40,316.90 L68.90,316.90 L69.40,316.90 L69.90,316.90 L70.40,316.90 L70.90,316.90 L71.40,316.90 L71.90,316.90 L72.40,316.90 L72.90,316.90 L73.40,316.90 L73.90,316.90 L74.40,316.90 L74.90,316.90 L75.40,316.90 L75.90,316.90 L76.40,316.90 L76.90,316.90 L77.40,316.90 L77.90,316.90 L78.40,316.90 L78.90,316.90 L79.40,316.90 L79.90,316.90 L80.40,316.90 L80.90,316.90 L81.40,316.90 L81.90,316.90 L82.40,316.90 L82.90,316.90 L83.40,316.90 L83.90,316.90 L84.40,316.90 L84.90,316.90 L85.40,316.90 L85.90,316.90 L86.40,316.90 L86.90,316.90 L87.40,316.90 L87.90,316.90 L88.40,316.90 L88.90,316.90 L89.40,316.90 L89.90,316.90 L90.40,316.90 L90.90,316.90 L91.40,316.90 L91.90,316.90 L92.40,316.90 L92.90,316.90 L93.40,316.90 L93.90,316.90 L94.00,316.90" fill="none" stroke="#93203f" stroke-width="1.1" stroke-linejoin="round"/>
<path d="M20.40,327.20 L20.40,327.20 L20.90,327.20 L21.40,327.20 L21.90,327.20 L22.40,327.20 L22.90,327.20 L23.40,327.20 L23.90,327.20 L24.40,327.20 L24.90,327.20 L25.40,327.20 L25.90,327.20 L26.40,327.20 L26.90,327.20 L27.40,327.20 L27.90,327.20 L28.40,327.20 L28.90,327.20 L29.40,327.20 L29.90,327.20 L30.40,327.20 L30.90,327.20 L31.40,327.20 L31.90,327.20 L32.40,327.20 L32.90,327.19 L33.40,327.19 L33.90,327.19 L34.40,327.18 L34.90,327.18 L35.40,327.17 L35.90,327.16 L36.40,327.14 L36.90,327.12 L37.40,327.09 L37.90,327.05 L38.40,327.00 L38.90,326.94 L39.40,326.86 L39.90,326.77 L40.40,326.65 L40.90,326.51 L41.40,326.34 L41.90,326.17 L42.40,325.95 L42.90,325.62 L43.40,325.36 L43.90,324.95 L44.40,324.64 L44.90,324.00 L45.40,323.57 L45.90,323.15 L46.40,322.65 L46.90,321.70 L47.40,320.95 L47.90,320.48 L48.40,319.82 L48.90,318.38 L49.40,317.45 L49.90,316.75 L50.40,315.96 L50.90,314.11 L51.40,312.49 L51.90,311.80 L52.40,310.16 L52.90,307.84 L53.40,306.36 L53.90,304.33 L54.40,303.04 L54.90,301.90 L55.40,298.27 L55.90,296.32 L56.40,293.80 L56.90,292.82 L57.40,290.54 L57.90,286.11 L58.40,283.98 L58.90,284.82 L59.40,283.27 L59.90,281.80 L60.40,278.93 L60.90,280.10 L61.40,280.60 L61.90,280.40 L62.40,280.91 L62.90,285.53 L63.40,290.29 L63.90,293.99 L64.40,297.71 L64.90,301.84 L65.40,306.13 L65.90,310.07 L66.40,313.14 L66.90,316.25 L67.40,318.78 L67.90,320.92 L68.40,322.39 L68.90,323.67 L69.40,324.79 L69.90,325.57 L70.40,326.07 L70.90,326.45 L71.40,326.71 L71.90,326.89 L72.40,327.01 L72.90,327.08 L73.40,327.13 L73.90,327.16 L74.40,327.18 L74.90,327.19 L75.40,327.19 L75.90,327.20 L76.40,327.20 L76.90,327.20 L77.40,327.20 L77.90,327.20 L78.40,327.20 L78.90,327.20 L79.40,327.20 L79.90,327.20 L80.40,327.20 L80.90,327.20 L81.40,327.20 L81.90,327.20 L82.40,327.20 L82.90,327.20 L83.40,327.20 L83.90,327.20 L84.40,327.20 L84.90,327.20 L85.40,327.20 L85.90,327.20 L86.40,327.20 L86.90,327.20 L87.40,327.20 L87.90,327.20 L88.40,327.20 L88.90,327.20 L89.40,327.20 L89.90,327.20 L90.40,327.20 L90.90,327.20 L91.40,327.20 L91.90,327.20 L92.40,327.20 L92.90,327.20 L93.40,327.20 L93.90,327.20 L94.00,327.20 L94.00,327.20 Z" fill="#2d4b7d" stroke="none"/>
<line x1="96.00" y1="306.60" x2="168.70" y2="306.60" stroke="#c0c0c0" stroke-width="0.8" />
<path d="M96.00,306.60 L96.00,306.60 L96.50,306.60 L97.00,306.60 L97.50,306.60 L98.00,306.60 L98.50,306.60 L99.00,306.60 L99.50,306.59 L100.00,306.59 L100.50,306.59 L101.00,306.59 L101.50,306.58 L102.00,306.57 L102.50,306.56 L103.00,306.55 L103.50,306.54 L104.00,306.52 L104.50,306.49 L105.00,306.46 L105.50,306.42 L106.00,306.38 L106.50,306.31 L107.00,306.24 L107.50,306.14 L108.00,306.03 L108.50,305.89 L109.00,305.72 L109.50,305.58 L110.00,305.30 L110.50,305.09 L111.00,304.69 L111.50,304.14 L112.00,303.68 L112.50,303.22 L113.00,302.44 L113.50,301.89 L114.00,300.76 L114.50,300.03 L115.00,299.47 L115.50,297.87 L116.00,296.72 L116.50,295.24 L117.00,294.30 L117.50,291.77 L118.00,291.12 L118.50,289.06 L119.00,287.33 L119.50,285.27 L120.00,283.51 L120.50,279.32 L121.00,277.37 L121.50,277.83 L122.00,273.24 L122.50,273.48 L123.00,268.53 L123.50,267.77 L124.00,265.12 L124.50,262.01 L125.00,260.26 L125.50,259.44 L126.00,260.81 L126.50,261.25 L127.00,257.27 L127.50,257.20 L128.00,254.59 L128.50,254.88 L129.00,260.23 L129.50,259.69 L130.00,259.09 L130.50,262.64 L131.00,261.34 L131.50,269.08 L132.00,269.21 L132.50,269.63 L133.00,271.94 L133.50,276.67 L134.00,280.35 L134.50,281.76 L135.00,285.22 L135.50,286.61 L136.00,289.86 L136.50,292.31 L137.00,293.52 L137.50,295.09 L138.00,297.17 L138.50,298.53 L139.00,299.86 L139.50,301.04 L140.00,302.35 L140.50,302.94 L141.00,303.42 L141.50,304.17 L142.00,304.59 L142.50,304.98 L143.00,305.48 L143.50,305.67 L144.00,305.88 L144.50,306.05 L145.00,306.18 L145.50,306.29 L146.00,306.37 L146.50,306.43 L147.00,306.47 L147.50,306.51 L148.00,306.53 L148.50,306.55 L149.00,306.57 L149.50,306.58 L150.00,306.58 L150.50,306.59 L151.00,306.59 L151.50,306.59 L152.00,306.60 L152.50,306.60 L153.00,306.60 L153.50,306.60 L154.00,306.60 L154.50,306.60 L155.00,306.60 L155.50,306.60 L156.00,306.60 L156.50,306.60 L157.00,306.60 L157.50,306.60 L158.00,306.60 L158.50,306.60 L159.00,306.60 L159.50,306.60 L160.00,306.60 L160.50,306.60 L161.00,306.60 L161.50,306.60 L162.00,306.60 L162.50,306.60 L163.00,306.60 L163.50,306.60 L164.00,306.60 L164.50,306.60 L165.00,306.60 L165.50,306.60 L166.00,306.60 L166.50,306.60 L167.00,306.60 L167.50,306.60 L168.00,306.60 L168.50,306.60 L168.70,306.60 L168.70,306.60 Z" fill="#532368" stroke="none"/>
<path d="M96.00,318.90 L96.00,316.90 L96.50,316.90 L97.00,316.90 L97.50,316.90 L98.00,316.90 L98.50,316.90 L99.00,316.90 L99.50,316.90 L100.00,316.90 L100.50,316.90 L101.00,316.90 L101.50,316.90 L102.00,316.89 L102.50,316.89 L103.00,316.89 L103.50,316.88 L104.00,316.88 L104.50,316.87 L105.00,316.85 L105.50,316.84 L106.00,316.82 L106.50,316.79 L107.00,316.75 L107.50,316.70 L108.00,316.64 L108.50,316.56 L109.00,316.46 L109.50,316.34 L110.00,316.18 L110.50,315.99 L111.00,315.76 L111.50,315.44 L112.00,315.14 L112.50,314.65 L113.00,314.21 L113.50,313.57 L114.00,312.81 L114.50,312.12 L115.00,311.07 L115.50,309.88 L116.00,308.76 L116.50,307.50 L117.00,306.06 L117.50,303.85 L118.00,302.44 L118.50,299.95 L119.00,297.99 L119.50,296.06 L120.00,293.33 L120.50,290.76 L121.00,287.74 L121.50,285.59 L122.00,282.31 L122.50,279.51 L123.00,277.38 L123.50,273.52 L124.00,271.77 L124.50,268.62 L125.00,266.29 L125.50,264.85 L126.00,263.44 L126.50,262.05 L127.00,262.60 L127.50,260.45 L128.00,259.69 L128.50,260.73 L129.00,261.60 L129.50,262.61 L130.00,265.16 L130.50,266.63 L131.00,269.64 L131.50,274.53 L132.00,276.28 L132.50,280.12 L133.00,283.40 L133.50,287.28 L134.00,289.86 L134.50,293.96 L135.00,296.67 L135.50,299.42 L136.00,302.18 L136.50,304.75 L137.00,306.77 L137.50,308.34 L138.00,309.82 L138.50,311.37 L139.00,312.34 L139.50,313.40 L140.00,314.11 L140.50,314.75 L141.00,315.27 L141.50,315.61 L142.00,315.95 L142.50,316.20 L143.00,316.38 L143.50,316.52 L144.00,316.63 L144.50,316.71 L145.00,316.76 L145.50,316.80 L146.00,316.83 L146.50,316.86 L147.00,316.87 L147.50,316.88 L148.00,316.89 L148.50,316.89 L149.00,316.89 L149.50,316.90 L150.00,316.90 L150.50,316.90 L151.00,316.90 L151.50,316.90 L152.00,316.90 L152.50,316.90 L153.00,316.90 L153.50,316.90 L154.00,316.90 L154.50,316.90 L155.00,316.90 L155.50,316.90 L156.00,316.90 L156.50,316.90 L157.00,316.90 L157.50,316.90 L158.00,316.90 L158.50,316.90 L159.00,316.90 L159.50,316.90 L160.00,316.90 L160.50,316.90 L161.00,316.90 L161.50,316.90 L162.00,316.90 L162.50,316.90 L163.00,316.90 L163.50,316.90 L164.00,316.90 L164.50,316.90 L165.00,316.90 L165.50,316.90 L166.00,316.90 L166.50,316.90 L167.00,316.90 L167.50,316.90 L168.00,316.90 L168.50,316.90 L168.70,316.90 L168.70,318.90 Z" fill="#fff" stroke="none"/>
<path d="M96.00,316.90 L96.50,316.90 L97.00,316.90 L97.50,316.90 L98.00,316.90 L98.50,316.90 L99.00,316.90 L99.50,316.90 L100.00,316.90 L100.50,316.90 L101.00,316.90 L101.50,316.90 L102.00,316.89 L102.50,316.89 L103.00,316.89 L103.50,316.88 L104.00,316.88 L104.50,316.87 L105.00,316.85 L105.50,316.84 L106.00,316.82 L106.50,316.79 L107.00,316.75 L107.50,316.70 L108.00,316.64 L108.50,316.56 L109.00,316.46 L109.50,316.34 L110.00,316.18 L110.50,315.99 L111.00,315.76 L111.50,315.44 L112.00,315.14 L112.50,314.65 L113.00,314.21 L113.50,313.57 L114.00,312.81 L114.50,312.12 L115.00,311.07 L115.50,309.88 L116.00,308.76 L116.50,307.50 L117.00,306.06 L117.50,303.85 L118.00,302.44 L118.50,299.95 L119.00,297.99 L119.50,296.06 L120.00,293.33 L120.50,290.76 L121.00,287.74 L121.50,285.59 L122.00,282.31 L122.50,279.51 L123.00,277.38 L123.50,273.52 L124.00,271.77 L124.50,268.62 L125.00,266.29 L125.50,264.85 L126.00,263.44 L126.50,262.05 L127.00,262.60 L127.50,260.45 L128.00,259.69 L128.50,260.73 L129.00,261.60 L129.50,262.61 L130.00,265.16 L130.50,266.63 L131.00,269.64 L131.50,274.53 L132.00,276.28 L132.50,280.12 L133.00,283.40 L133.50,287.28 L134.00,289.86 L134.50,293.96 L135.00,296.67 L135.50,299.42 L136.00,302.18 L136.50,304.75 L137.00,306.77 L137.50,308.34 L138.00,309.82 L138.50,311.37 L139.00,312.34 L139.50,313.40 L140.00,314.11 L140.50,314.75 L141.00,315.27 L141.50,315.61 L142.00,315.95 L142.50,316.20 L143.00,316.38 L143.50,316.52 L144.00,316.63 L144.50,316.71 L145.00,316.76 L145.50,316.80 L146.00,316.83 L146.50,316.86 L147.00,316.87 L147.50,316.88 L148.00,316.89 L148.50,316.89 L149.00,316.89 L149.50,316.90 L150.00,316.90 L150.50,316.90 L151.00,316.90 L151.50,316.90 L152.00,316.90 L152.50,316.90 L153.00,316.90 L153.50,316.90 L154.00,316.90 L154.50,316.90 L155.00,316.90 L155.50,316.90 L156.00,316.90 L156.50,316.90 L157.00,316.90 L157.50,316.90 L158.00,316.90 L158.50,316.90 L159.00,316.90 L159.50,316.90 L160.00,316.90 L160.50,316.90 L161.00,316.90 L161.50,316.90 L162.00,316.90 L162.50,316.90 L163.00,316.90 L163.50,316.90 L164.00,316.90 L164.50,316.90 L165.00,316.90 L165.50,316.90 L166.00,316.90 L166.50,316.90 L167.00,316.90 L167.50,316.90 L168.00,316.90 L168.50,316.90 L168.70,316.90" fill="none" stroke="#93203f" stroke-width="1.1" stroke-linejoin="round"/>
<path d="M96.00,327.20 L96.00,327.20 L96.50,327.20 L97.00,327.20 L97.50,327.20 L98.00,327.20 L98.50,327.20 L99.00,327.20 L99.50,327.20 L100.00,327.20 L100.50,327.20 L101.00,327.20 L101.50,327.20 L102.00,327.20 L102.50,327.20 L103.00,327.20 L103.50,327.20 L104.00,327.20 L104.50,327.20 L105.00,327.20 L105.50,327.20 L106.00,327.20 L106.50,327.20 L107.00,327.19 L107.50,327.19 L108.00,327.18 L108.50,327.17 L109.00,327.16 L109.50,327.13 L110.00,327.09 L110.50,327.04 L111.00,326.97 L111.50,326.86 L112.00,326.72 L112.50,326.52 L113.00,326.26 L113.50,325.91 L114.00,325.49 L114.50,324.95 L115.00,324.20 L115.50,323.38 L116.00,322.45 L116.50,321.34 L117.00,319.88 L117.50,317.79 L118.00,315.90 L118.50,314.06 L119.00,312.32 L119.50,309.62 L120.00,306.72 L120.50,304.12 L121.00,302.95 L121.50,298.36 L122.00,296.14 L122.50,294.16 L123.00,291.12 L123.50,291.30 L124.00,289.15 L124.50,285.76 L125.00,285.34 L125.50,283.06 L126.00,281.72 L126.50,280.15 L127.00,281.91 L127.50,280.43 L128.00,277.91 L128.50,279.49 L129.00,281.18 L129.50,281.34 L130.00,280.57 L130.50,282.98 L131.00,284.09 L131.50,286.24 L132.00,290.25 L132.50,292.92 L133.00,293.97 L133.50,298.28 L134.00,301.83 L134.50,305.56 L135.00,308.14 L135.50,311.59 L136.00,314.03 L136.50,317.22 L137.00,319.03 L137.50,320.49 L138.00,322.24 L138.50,323.30 L139.00,324.39 L139.50,325.07 L140.00,325.69 L140.50,326.18 L141.00,326.47 L141.50,326.70 L142.00,326.87 L142.50,326.98 L143.00,327.06 L143.50,327.11 L144.00,327.14 L144.50,327.17 L145.00,327.18 L145.50,327.19 L146.00,327.19 L146.50,327.20 L147.00,327.20 L147.50,327.20 L148.00,327.20 L148.50,327.20 L149.00,327.20 L149.50,327.20 L150.00,327.20 L150.50,327.20 L151.00,327.20 L151.50,327.20 L152.00,327.20 L152.50,327.20 L153.00,327.20 L153.50,327.20 L154.00,327.20 L154.50,327.20 L155.00,327.20 L155.50,327.20 L156.00,327.20 L156.50,327.20 L157.00,327.20 L157.50,327.20 L158.00,327.20 L158.50,327.20 L159.00,327.20 L159.50,327.20 L160.00,327.20 L160.50,327.20 L161.00,327.20 L161.50,327.20 L162.00,327.20 L162.50,327.20 L163.00,327.20 L163.50,327.20 L164.00,327.20 L164.50,327.20 L165.00,327.20 L165.50,327.20 L166.00,327.20 L166.50,327.20 L167.00,327.20 L167.50,327.20 L168.00,327.20 L168.50,327.20 L168.70,327.20 L168.70,327.20 Z" fill="#2d4b7d" stroke="none"/>
<rect x="19.80" y="254.00" width="149.50" height="73.70" fill="none" stroke="#000" stroke-width="1.1" />
<line x1="95.00" y1="254.00" x2="95.00" y2="327.70" stroke="#000" stroke-width="2.0" />
<path d="M20.36,328.20 v2.80 M21.26,328.20 v2.80 M22.06,328.20 v3.40 M27.32,328.20 v2.80 M30.40,328.20 v2.80 M32.59,328.20 v2.80 M34.28,328.20 v2.80 M35.66,328.20 v2.80 M36.84,328.20 v2.80 M37.85,328.20 v2.80 M38.74,328.20 v2.80 M39.54,328.20 v3.40 M44.81,328.20 v2.80 M47.89,328.20 v2.80 M50.07,328.20 v2.80 M51.77,328.20 v2.80 M53.15,328.20 v2.80 M54.32,328.20 v2.80 M55.34,328.20 v2.80 M56.23,328.20 v2.80 M57.03,328.20 v3.40 M62.30,328.20 v2.80 M65.38,328.20 v2.80 M67.56,328.20 v2.80 M69.26,328.20 v2.80 M70.64,328.20 v2.80 M71.81,328.20 v2.80 M72.83,328.20 v2.80 M73.72,328.20 v2.80 M74.52,328.20 v3.40 M79.79,328.20 v2.80 M82.87,328.20 v2.80 M85.05,328.20 v2.80 M86.74,328.20 v2.80 M88.13,328.20 v2.80 M89.30,328.20 v2.80 M90.31,328.20 v2.80 M91.21,328.20 v2.80 M92.01,328.20 v3.40" stroke="#000" stroke-width="1.05" fill="none"/>
<path d="M95.55,328.20 v2.80 M96.44,328.20 v2.80 M97.23,328.20 v3.40 M102.43,328.20 v2.80 M105.47,328.20 v2.80 M107.63,328.20 v2.80 M109.31,328.20 v2.80 M110.67,328.20 v2.80 M111.83,328.20 v2.80 M112.83,328.20 v2.80 M113.72,328.20 v2.80 M114.51,328.20 v3.40 M119.71,328.20 v2.80 M122.75,328.20 v2.80 M124.91,328.20 v2.80 M126.59,328.20 v2.80 M127.95,328.20 v2.80 M129.11,328.20 v2.80 M130.11,328.20 v2.80 M131.00,328.20 v2.80 M131.79,328.20 v3.40 M136.99,328.20 v2.80 M140.03,328.20 v2.80 M142.19,328.20 v2.80 M143.86,328.20 v2.80 M145.23,328.20 v2.80 M146.39,328.20 v2.80 M147.39,328.20 v2.80 M148.28,328.20 v2.80 M149.07,328.20 v3.40 M154.27,328.20 v2.80 M157.31,328.20 v2.80 M159.47,328.20 v2.80 M161.14,328.20 v2.80 M162.51,328.20 v2.80 M163.67,328.20 v2.80 M164.67,328.20 v2.80 M165.55,328.20 v2.80 M166.35,328.20 v3.40" stroke="#000" stroke-width="1.05" fill="none"/>
<text x="180.10" y="293.10" font-size="7.9" text-anchor="middle" font-weight="normal" fill="#222" transform="rotate(-90 180.10 293.10)" >HLA DR</text>
<line x1="20.40" y1="384.60" x2="94.00" y2="384.60" stroke="#c0c0c0" stroke-width="0.8" />
<path d="M20.40,384.60 L20.40,384.60 L20.90,384.60 L21.40,384.60 L21.90,384.60 L22.40,384.60 L22.90,384.60 L23.40,384.60 L23.90,384.60 L24.40,384.60 L24.90,384.60 L25.40,384.60 L25.90,384.60 L26.40,384.60 L26.90,384.60 L27.40,384.60 L27.90,384.60 L28.40,384.60 L28.90,384.60 L29.40,384.59 L29.90,384.59 L30.40,384.57 L30.90,384.55 L31.40,384.52 L31.90,384.47 L32.40,384.39 L32.90,384.26 L33.40,384.06 L33.90,383.77 L34.40,383.41 L34.90,382.73 L35.40,382.07 L35.90,380.75 L36.40,379.36 L36.90,377.74 L37.40,375.23 L37.90,372.57 L38.40,370.47 L38.90,365.83 L39.40,361.56 L39.90,357.64 L40.40,351.73 L40.90,347.98 L41.40,345.86 L41.90,343.35 L42.40,341.31 L42.90,334.95 L43.40,334.79 L43.90,335.45 L44.40,337.71 L44.90,339.42 L45.40,344.00 L45.90,345.77 L46.40,351.70 L46.90,353.74 L47.40,358.10 L47.90,362.24 L48.40,367.30 L48.90,371.00 L49.40,373.52 L49.90,375.64 L50.40,378.01 L50.90,379.58 L51.40,381.14 L51.90,382.17 L52.40,382.80 L52.90,383.50 L53.40,383.84 L53.90,384.11 L54.40,384.29 L54.90,384.41 L55.40,384.48 L55.90,384.53 L56.40,384.56 L56.90,384.58 L57.40,384.59 L57.90,384.59 L58.40,384.60 L58.90,384.60 L59.40,384.60 L59.90,384.60 L60.40,384.60 L60.90,384.60 L61.40,384.60 L61.90,384.60 L62.40,384.60 L62.90,384.60 L63.40,384.60 L63.90,384.60 L64.40,384.60 L64.90,384.60 L65.40,384.60 L65.90,384.60 L66.40,384.60 L66.90,384.60 L67.40,384.60 L67.90,384.60 L68.40,384.60 L68.90,384.60 L69.40,384.60 L69.90,384.60 L70.40,384.60 L70.90,384.60 L71.40,384.60 L71.90,384.60 L72.40,384.60 L72.90,384.60 L73.40,384.60 L73.90,384.60 L74.40,384.60 L74.90,384.60 L75.40,384.60 L75.90,384.60 L76.40,384.60 L76.90,384.60 L77.40,384.60 L77.90,384.60 L78.40,384.60 L78.90,384.60 L79.40,384.60 L79.90,384.60 L80.40,384.60 L80.90,384.60 L81.40,384.60 L81.90,384.60 L82.40,384.60 L82.90,384.60 L83.40,384.60 L83.90,384.60 L84.40,384.60 L84.90,384.60 L85.40,384.60 L85.90,384.60 L86.40,384.60 L86.90,384.60 L87.40,384.60 L87.90,384.60 L88.40,384.60 L88.90,384.60 L89.40,384.60 L89.90,384.60 L90.40,384.60 L90.90,384.60 L91.40,384.60 L91.90,384.60 L92.40,384.60 L92.90,384.60 L93.40,384.60 L93.90,384.60 L94.00,384.60 L94.00,384.60 Z" fill="#532368" stroke="none"/>
<path d="M20.40,396.90 L20.40,394.81 L20.90,394.78 L21.40,394.73 L21.90,394.67 L22.40,394.59 L22.90,394.49 L23.40,394.35 L23.90,394.17 L24.40,393.95 L24.90,393.68 L25.40,393.31 L25.90,392.87 L26.40,392.39 L26.90,391.69 L27.40,390.82 L27.90,389.98 L28.40,388.91 L28.90,387.56 L29.40,386.26 L29.90,384.73 L30.40,382.58 L30.90,381.01 L31.40,378.25 L31.90,375.83 L32.40,373.60 L32.90,370.96 L33.40,368.79 L33.90,365.87 L34.40,362.11 L34.90,359.36 L35.40,356.83 L35.90,355.26 L36.40,351.72 L36.90,349.04 L37.40,347.52 L37.90,346.60 L38.40,346.14 L38.90,345.63 L39.40,346.18 L39.90,347.19 L40.40,346.73 L40.90,350.73 L41.40,354.14 L41.90,357.90 L42.40,361.38 L42.90,366.00 L43.40,370.70 L43.90,374.76 L44.40,378.78 L44.90,382.03 L45.40,384.83 L45.90,387.30 L46.40,389.42 L46.90,390.83 L47.40,391.98 L47.90,392.86 L48.40,393.49 L48.90,393.98 L49.40,394.30 L49.90,394.52 L50.40,394.66 L50.90,394.75 L51.40,394.81 L51.90,394.85 L52.40,394.87 L52.90,394.88 L53.40,394.89 L53.90,394.90 L54.40,394.90 L54.90,394.90 L55.40,394.90 L55.90,394.90 L56.40,394.90 L56.90,394.90 L57.40,394.90 L57.90,394.90 L58.40,394.90 L58.90,394.90 L59.40,394.90 L59.90,394.90 L60.40,394.90 L60.90,394.90 L61.40,394.90 L61.90,394.90 L62.40,394.90 L62.90,394.90 L63.40,394.90 L63.90,394.90 L64.40,394.90 L64.90,394.90 L65.40,394.90 L65.90,394.90 L66.40,394.90 L66.90,394.90 L67.40,394.90 L67.90,394.90 L68.40,394.90 L68.90,394.90 L69.40,394.90 L69.90,394.90 L70.40,394.90 L70.90,394.90 L71.40,394.90 L71.90,394.90 L72.40,394.90 L72.90,394.90 L73.40,394.90 L73.90,394.90 L74.40,394.90 L74.90,394.90 L75.40,394.90 L75.90,394.90 L76.40,394.90 L76.90,394.90 L77.40,394.90 L77.90,394.90 L78.40,394.90 L78.90,394.90 L79.40,394.90 L79.90,394.90 L80.40,394.90 L80.90,394.90 L81.40,394.90 L81.90,394.90 L82.40,394.90 L82.90,394.90 L83.40,394.90 L83.90,394.90 L84.40,394.90 L84.90,394.90 L85.40,394.90 L85.90,394.90 L86.40,394.90 L86.90,394.90 L87.40,394.90 L87.90,394.90 L88.40,394.90 L88.90,394.90 L89.40,394.90 L89.90,394.90 L90.40,394.90 L90.90,394.90 L91.40,394.90 L91.90,394.90 L92.40,394.90 L92.90,394.90 L93.40,394.90 L93.90,394.90 L94.00,394.90 L94.00,396.90 Z" fill="#fff" stroke="none"/>
<path d="M20.40,394.81 L20.90,394.78 L21.40,394.73 L21.90,394.67 L22.40,394.59 L22.90,394.49 L23.40,394.35 L23.90,394.17 L24.40,393.95 L24.90,393.68 L25.40,393.31 L25.90,392.87 L26.40,392.39 L26.90,391.69 L27.40,390.82 L27.90,389.98 L28.40,388.91 L28.90,387.56 L29.40,386.26 L29.90,384.73 L30.40,382.58 L30.90,381.01 L31.40,378.25 L31.90,375.83 L32.40,373.60 L32.90,370.96 L33.40,368.79 L33.90,365.87 L34.40,362.11 L34.90,359.36 L35.40,356.83 L35.90,355.26 L36.40,351.72 L36.90,349.04 L37.40,347.52 L37.90,346.60 L38.40,346.14 L38.90,345.63 L39.40,346.18 L39.90,347.19 L40.40,346.73 L40.90,350.73 L41.40,354.14 L41.90,357.90 L42.40,361.38 L42.90,366.00 L43.40,370.70 L43.90,374.76 L44.40,378.78 L44.90,382.03 L45.40,384.83 L45.90,387.30 L46.40,389.42 L46.90,390.83 L47.40,391.98 L47.90,392.86 L48.40,393.49 L48.90,393.98 L49.40,394.30 L49.90,394.52 L50.40,394.66 L50.90,394.75 L51.40,394.81 L51.90,394.85 L52.40,394.87 L52.90,394.88 L53.40,394.89 L53.90,394.90 L54.40,394.90 L54.90,394.90 L55.40,394.90 L55.90,394.90 L56.40,394.90 L56.90,394.90 L57.40,394.90 L57.90,394.90 L58.40,394.90 L58.90,394.90 L59.40,394.90 L59.90,394.90 L60.40,394.90 L60.90,394.90 L61.40,394.90 L61.90,394.90 L62.40,394.90 L62.90,394.90 L63.40,394.90 L63.90,394.90 L64.40,394.90 L64.90,394.90 L65.40,394.90 L65.90,394.90 L66.40,394.90 L66.90,394.90 L67.40,394.90 L67.90,394.90 L68.40,394.90 L68.90,394.90 L69.40,394.90 L69.90,394.90 L70.40,394.90 L70.90,394.90 L71.40,394.90 L71.90,394.90 L72.40,394.90 L72.90,394.90 L73.40,394.90 L73.90,394.90 L74.40,394.90 L74.90,394.90 L75.40,394.90 L75.90,394.90 L76.40,394.90 L76.90,394.90 L77.40,394.90 L77.90,394.90 L78.40,394.90 L78.90,394.90 L79.40,394.90 L79.90,394.90 L80.40,394.90 L80.90,394.90 L81.40,394.90 L81.90,394.90 L82.40,394.90 L82.90,394.90 L83.40,394.90 L83.90,394.90 L84.40,394.90 L84.90,394.90 L85.40,394.90 L85.90,394.90 L86.40,394.90 L86.90,394.90 L87.40,394.90 L87.90,394.90 L88.40,394.90 L88.90,394.90 L89.40,394.90 L89.90,394.90 L90.40,394.90 L90.90,394.90 L91.40,394.90 L91.90,394.90 L92.40,394.90 L92.90,394.90 L93.40,394.90 L93.90,394.90 L94.00,394.90" fill="none" stroke="#93203f" stroke-width="1.1" stroke-linejoin="round"/>
<path d="M20.40,404.60 L20.40,404.60 L20.90,404.60 L21.40,404.60 L21.90,404.60 L22.40,404.59 L22.90,404.59 L23.40,404.58 L23.90,404.57 L24.40,404.56 L24.90,404.53 L25.40,404.50 L25.90,404.45 L26.40,404.37 L26.90,404.27 L27.40,404.13 L27.90,403.93 L28.40,403.67 L28.90,403.29 L29.40,402.92 L29.90,402.36 L30.40,401.65 L30.90,400.56 L31.40,399.36 L31.90,397.90 L32.40,396.42 L32.90,394.55 L33.40,392.33 L33.90,390.10 L34.40,387.35 L34.90,385.09 L35.40,382.31 L35.90,377.51 L36.40,374.37 L36.90,370.72 L37.40,368.24 L37.90,365.91 L38.40,364.86 L38.90,360.52 L39.40,360.21 L39.90,358.08 L40.40,358.08 L40.90,358.44 L41.40,360.11 L41.90,361.34 L42.40,364.93 L42.90,366.92 L43.40,370.69 L43.90,373.92 L44.40,376.69 L44.90,380.49 L45.40,384.25 L45.90,387.63 L46.40,390.96 L46.90,392.95 L47.40,395.58 L47.90,397.51 L48.40,398.89 L48.90,400.38 L49.40,401.38 L49.90,402.32 L50.40,402.87 L50.90,403.34 L51.40,403.75 L51.90,404.01 L52.40,404.20 L52.90,404.33 L53.40,404.42 L53.90,404.49 L54.40,404.53 L54.90,404.55 L55.40,404.57 L55.90,404.58 L56.40,404.59 L56.90,404.59 L57.40,404.60 L57.90,404.60 L58.40,404.60 L58.90,404.60 L59.40,404.60 L59.90,404.60 L60.40,404.60 L60.90,404.60 L61.40,404.60 L61.90,404.60 L62.40,404.60 L62.90,404.60 L63.40,404.60 L63.90,404.60 L64.40,404.60 L64.90,404.60 L65.40,404.60 L65.90,404.60 L66.40,404.60 L66.90,404.60 L67.40,404.60 L67.90,404.60 L68.40,404.60 L68.90,404.60 L69.40,404.60 L69.90,404.60 L70.40,404.60 L70.90,404.60 L71.40,404.60 L71.90,404.60 L72.40,404.60 L72.90,404.60 L73.40,404.60 L73.90,404.60 L74.40,404.60 L74.90,404.60 L75.40,404.60 L75.90,404.60 L76.40,404.60 L76.90,404.60 L77.40,404.60 L77.90,404.60 L78.40,404.60 L78.90,404.60 L79.40,404.60 L79.90,404.60 L80.40,404.60 L80.90,404.60 L81.40,404.60 L81.90,404.60 L82.40,404.60 L82.90,404.60 L83.40,404.60 L83.90,404.60 L84.40,404.60 L84.90,404.60 L85.40,404.60 L85.90,404.60 L86.40,404.60 L86.90,404.60 L87.40,404.60 L87.90,404.60 L88.40,404.60 L88.90,404.60 L89.40,404.60 L89.90,404.60 L90.40,404.60 L90.90,404.60 L91.40,404.60 L91.90,404.60 L92.40,404.60 L92.90,404.60 L93.40,404.60 L93.90,404.60 L94.00,404.60 L94.00,404.60 Z" fill="#2d4b7d" stroke="none"/>
<line x1="96.00" y1="384.60" x2="168.70" y2="384.60" stroke="#c0c0c0" stroke-width="0.8" />
<path d="M96.00,384.60 L96.00,384.60 L96.50,384.60 L97.00,384.60 L97.50,384.60 L98.00,384.60 L98.50,384.60 L99.00,384.60 L99.50,384.60 L100.00,384.60 L100.50,384.60 L101.00,384.60 L101.50,384.60 L102.00,384.59 L102.50,384.59 L103.00,384.59 L103.50,384.58 L104.00,384.58 L104.50,384.57 L105.00,384.56 L105.50,384.54 L106.00,384.52 L106.50,384.50 L107.00,384.47 L107.50,384.43 L108.00,384.38 L108.50,384.32 L109.00,384.24 L109.50,384.14 L110.00,384.01 L110.50,383.86 L111.00,383.68 L111.50,383.42 L112.00,383.16 L112.50,382.89 L113.00,382.58 L113.50,381.98 L114.00,381.32 L114.50,380.95 L115.00,380.00 L115.50,379.75 L116.00,378.48 L116.50,377.77 L117.00,376.33 L117.50,374.90 L118.00,373.10 L118.50,372.06 L119.00,369.71 L119.50,369.04 L120.00,367.67 L120.50,364.83 L121.00,361.96 L121.50,359.74 L122.00,359.92 L122.50,356.95 L123.00,354.73 L123.50,351.55 L124.00,347.43 L124.50,348.31 L125.00,347.63 L125.50,340.96 L126.00,339.37 L126.50,338.44 L127.00,341.84 L127.50,339.46 L128.00,339.33 L128.50,333.97 L129.00,339.12 L129.50,339.31 L130.00,339.32 L130.50,336.68 L131.00,341.91 L131.50,338.95 L132.00,345.05 L132.50,345.53 L133.00,350.43 L133.50,352.55 L134.00,352.82 L134.50,355.25 L135.00,360.82 L135.50,363.09 L136.00,366.40 L136.50,368.36 L137.00,370.14 L137.50,371.94 L138.00,373.76 L138.50,375.74 L139.00,377.41 L139.50,378.30 L140.00,379.59 L140.50,380.53 L141.00,381.03 L141.50,381.90 L142.00,382.63 L142.50,382.84 L143.00,383.24 L143.50,383.62 L144.00,383.85 L144.50,384.04 L145.00,384.18 L145.50,384.29 L146.00,384.37 L146.50,384.43 L147.00,384.48 L147.50,384.51 L148.00,384.54 L148.50,384.56 L149.00,384.57 L149.50,384.58 L150.00,384.59 L150.50,384.59 L151.00,384.59 L151.50,384.60 L152.00,384.60 L152.50,384.60 L153.00,384.60 L153.50,384.60 L154.00,384.60 L154.50,384.60 L155.00,384.60 L155.50,384.60 L156.00,384.60 L156.50,384.60 L157.00,384.60 L157.50,384.60 L158.00,384.60 L158.50,384.60 L159.00,384.60 L159.50,384.60 L160.00,384.60 L160.50,384.60 L161.00,384.60 L161.50,384.60 L162.00,384.60 L162.50,384.60 L163.00,384.60 L163.50,384.60 L164.00,384.60 L164.50,384.60 L165.00,384.60 L165.50,384.60 L166.00,384.60 L166.50,384.60 L167.00,384.60 L167.50,384.60 L168.00,384.60 L168.50,384.60 L168.70,384.60 L168.70,384.60 Z" fill="#532368" stroke="none"/>
<path d="M96.00,396.90 L96.00,394.90 L96.50,394.90 L97.00,394.90 L97.50,394.90 L98.00,394.90 L98.50,394.90 L99.00,394.90 L99.50,394.90 L100.00,394.90 L100.50,394.90 L101.00,394.90 L101.50,394.90 L102.00,394.90 L102.50,394.90 L103.00,394.90 L103.50,394.90 L104.00,394.89 L104.50,394.89 L105.00,394.89 L105.50,394.89 L106.00,394.88 L106.50,394.87 L107.00,394.86 L107.50,394.84 L108.00,394.82 L108.50,394.79 L109.00,394.76 L109.50,394.71 L110.00,394.64 L110.50,394.56 L111.00,394.45 L111.50,394.32 L112.00,394.15 L112.50,393.94 L113.00,393.67 L113.50,393.39 L114.00,392.91 L114.50,392.51 L115.00,391.89 L115.50,391.29 L116.00,390.47 L116.50,389.45 L117.00,388.29 L117.50,387.27 L118.00,385.93 L118.50,384.45 L119.00,382.46 L119.50,380.65 L120.00,378.79 L120.50,376.45 L121.00,373.59 L121.50,370.88 L122.00,368.14 L122.50,365.19 L123.00,363.04 L123.50,360.47 L124.00,356.59 L124.50,353.98 L125.00,351.34 L125.50,350.11 L126.00,347.74 L126.50,344.12 L127.00,344.04 L127.50,341.99 L128.00,340.19 L128.50,339.90 L129.00,339.28 L129.50,341.57 L130.00,341.08 L130.50,343.34 L131.00,344.41 L131.50,348.03 L132.00,349.57 L132.50,354.05 L133.00,357.76 L133.50,360.72 L134.00,365.00 L134.50,367.58 L135.00,371.94 L135.50,374.55 L136.00,377.42 L136.50,380.47 L137.00,382.92 L137.50,384.80 L138.00,386.77 L138.50,388.48 L139.00,389.61 L139.50,390.85 L140.00,391.76 L140.50,392.50 L141.00,393.04 L141.50,393.53 L142.00,393.87 L142.50,394.16 L143.00,394.36 L143.50,394.52 L144.00,394.63 L144.50,394.71 L145.00,394.77 L145.50,394.81 L146.00,394.84 L146.50,394.86 L147.00,394.87 L147.50,394.88 L148.00,394.89 L148.50,394.89 L149.00,394.90 L149.50,394.90 L150.00,394.90 L150.50,394.90 L151.00,394.90 L151.50,394.90 L152.00,394.90 L152.50,394.90 L153.00,394.90 L153.50,394.90 L154.00,394.90 L154.50,394.90 L155.00,394.90 L155.50,394.90 L156.00,394.90 L156.50,394.90 L157.00,394.90 L157.50,394.90 L158.00,394.90 L158.50,394.90 L159.00,394.90 L159.50,394.90 L160.00,394.90 L160.50,394.90 L161.00,394.90 L161.50,394.90 L162.00,394.90 L162.50,394.90 L163.00,394.90 L163.50,394.90 L164.00,394.90 L164.50,394.90 L165.00,394.90 L165.50,394.90 L166.00,394.90 L166.50,394.90 L167.00,394.90 L167.50,394.90 L168.00,394.90 L168.50,394.90 L168.70,394.90 L168.70,396.90 Z" fill="#fff" stroke="none"/>
<path d="M96.00,394.90 L96.50,394.90 L97.00,394.90 L97.50,394.90 L98.00,394.90 L98.50,394.90 L99.00,394.90 L99.50,394.90 L100.00,394.90 L100.50,394.90 L101.00,394.90 L101.50,394.90 L102.00,394.90 L102.50,394.90 L103.00,394.90 L103.50,394.90 L104.00,394.89 L104.50,394.89 L105.00,394.89 L105.50,394.89 L106.00,394.88 L106.50,394.87 L107.00,394.86 L107.50,394.84 L108.00,394.82 L108.50,394.79 L109.00,394.76 L109.50,394.71 L110.00,394.64 L110.50,394.56 L111.00,394.45 L111.50,394.32 L112.00,394.15 L112.50,393.94 L113.00,393.67 L113.50,393.39 L114.00,392.91 L114.50,392.51 L115.00,391.89 L115.50,391.29 L116.00,390.47 L116.50,389.45 L117.00,388.29 L117.50,387.27 L118.00,385.93 L118.50,384.45 L119.00,382.46 L119.50,380.65 L120.00,378.79 L120.50,376.45 L121.00,373.59 L121.50,370.88 L122.00,368.14 L122.50,365.19 L123.00,363.04 L123.50,360.47 L124.00,356.59 L124.50,353.98 L125.00,351.34 L125.50,350.11 L126.00,347.74 L126.50,344.12 L127.00,344.04 L127.50,341.99 L128.00,340.19 L128.50,339.90 L129.00,339.28 L129.50,341.57 L130.00,341.08 L130.50,343.34 L131.00,344.41 L131.50,348.03 L132.00,349.57 L132.50,354.05 L133.00,357.76 L133.50,360.72 L134.00,365.00 L134.50,367.58 L135.00,371.94 L135.50,374.55 L136.00,377.42 L136.50,380.47 L137.00,382.92 L137.50,384.80 L138.00,386.77 L138.50,388.48 L139.00,389.61 L139.50,390.85 L140.00,391.76 L140.50,392.50 L141.00,393.04 L141.50,393.53 L142.00,393.87 L142.50,394.16 L143.00,394.36 L143.50,394.52 L144.00,394.63 L144.50,394.71 L145.00,394.77 L145.50,394.81 L146.00,394.84 L146.50,394.86 L147.00,394.87 L147.50,394.88 L148.00,394.89 L148.50,394.89 L149.00,394.90 L149.50,394.90 L150.00,394.90 L150.50,394.90 L151.00,394.90 L151.50,394.90 L152.00,394.90 L152.50,394.90 L153.00,394.90 L153.50,394.90 L154.00,394.90 L154.50,394.90 L155.00,394.90 L155.50,394.90 L156.00,394.90 L156.50,394.90 L157.00,394.90 L157.50,394.90 L158.00,394.90 L158.50,394.90 L159.00,394.90 L159.50,394.90 L160.00,394.90 L160.50,394.90 L161.00,394.90 L161.50,394.90 L162.00,394.90 L162.50,394.90 L163.00,394.90 L163.50,394.90 L164.00,394.90 L164.50,394.90 L165.00,394.90 L165.50,394.90 L166.00,394.90 L166.50,394.90 L167.00,394.90 L167.50,394.90 L168.00,394.90 L168.50,394.90 L168.70,394.90" fill="none" stroke="#93203f" stroke-width="1.1" stroke-linejoin="round"/>
<path d="M96.00,404.60 L96.00,404.60 L96.50,404.60 L97.00,404.60 L97.50,404.60 L98.00,404.60 L98.50,404.60 L99.00,404.60 L99.50,404.60 L100.00,404.60 L100.50,404.60 L101.00,404.60 L101.50,404.60 L102.00,404.60 L102.50,404.60 L103.00,404.60 L103.50,404.60 L104.00,404.60 L104.50,404.60 L105.00,404.60 L105.50,404.60 L106.00,404.60 L106.50,404.60 L107.00,404.59 L107.50,404.59 L108.00,404.58 L108.50,404.57 L109.00,404.56 L109.50,404.53 L110.00,404.49 L110.50,404.44 L111.00,404.37 L111.50,404.26 L112.00,404.12 L112.50,403.92 L113.00,403.66 L113.50,403.36 L114.00,402.81 L114.50,402.38 L115.00,401.67 L115.50,400.89 L116.00,399.92 L116.50,398.58 L117.00,397.00 L117.50,395.26 L118.00,393.58 L118.50,391.31 L119.00,389.74 L119.50,387.63 L120.00,384.14 L120.50,381.47 L121.00,379.58 L121.50,377.62 L122.00,374.45 L122.50,371.57 L123.00,369.81 L123.50,367.70 L124.00,365.07 L124.50,362.78 L125.00,362.42 L125.50,361.71 L126.00,361.65 L126.50,358.93 L127.00,359.87 L127.50,358.75 L128.00,359.34 L128.50,358.46 L129.00,356.63 L129.50,359.07 L130.00,357.67 L130.50,361.89 L131.00,362.49 L131.50,366.71 L132.00,367.45 L132.50,369.82 L133.00,374.34 L133.50,377.78 L134.00,381.39 L134.50,384.74 L135.00,387.86 L135.50,390.75 L136.00,393.13 L136.50,396.00 L137.00,397.45 L137.50,399.10 L138.00,400.54 L138.50,401.47 L139.00,402.33 L139.50,403.08 L140.00,403.54 L140.50,403.85 L141.00,404.10 L141.50,404.27 L142.00,404.39 L142.50,404.46 L143.00,404.52 L143.50,404.55 L144.00,404.57 L144.50,404.58 L145.00,404.59 L145.50,404.59 L146.00,404.60 L146.50,404.60 L147.00,404.60 L147.50,404.60 L148.00,404.60 L148.50,404.60 L149.00,404.60 L149.50,404.60 L150.00,404.60 L150.50,404.60 L151.00,404.60 L151.50,404.60 L152.00,404.60 L152.50,404.60 L153.00,404.60 L153.50,404.60 L154.00,404.60 L154.50,404.60 L155.00,404.60 L155.50,404.60 L156.00,404.60 L156.50,404.60 L157.00,404.60 L157.50,404.60 L158.00,404.60 L158.50,404.60 L159.00,404.60 L159.50,404.60 L160.00,404.60 L160.50,404.60 L161.00,404.60 L161.50,404.60 L162.00,404.60 L162.50,404.60 L163.00,404.60 L163.50,404.60 L164.00,404.60 L164.50,404.60 L165.00,404.60 L165.50,404.60 L166.00,404.60 L166.50,404.60 L167.00,404.60 L167.50,404.60 L168.00,404.60 L168.50,404.60 L168.70,404.60 L168.70,404.60 Z" fill="#2d4b7d" stroke="none"/>
<rect x="19.80" y="332.00" width="149.50" height="73.10" fill="none" stroke="#000" stroke-width="1.1" />
<line x1="95.00" y1="332.00" x2="95.00" y2="405.10" stroke="#000" stroke-width="2.0" />
<path d="M20.36,405.60 v2.80 M21.26,405.60 v2.80 M22.06,405.60 v3.40 M27.32,405.60 v2.80 M30.40,405.60 v2.80 M32.59,405.60 v2.80 M34.28,405.60 v2.80 M35.66,405.60 v2.80 M36.84,405.60 v2.80 M37.85,405.60 v2.80 M38.74,405.60 v2.80 M39.54,405.60 v3.40 M44.81,405.60 v2.80 M47.89,405.60 v2.80 M50.07,405.60 v2.80 M51.77,405.60 v2.80 M53.15,405.60 v2.80 M54.32,405.60 v2.80 M55.34,405.60 v2.80 M56.23,405.60 v2.80 M57.03,405.60 v3.40 M62.30,405.60 v2.80 M65.38,405.60 v2.80 M67.56,405.60 v2.80 M69.26,405.60 v2.80 M70.64,405.60 v2.80 M71.81,405.60 v2.80 M72.83,405.60 v2.80 M73.72,405.60 v2.80 M74.52,405.60 v3.40 M79.79,405.60 v2.80 M82.87,405.60 v2.80 M85.05,405.60 v2.80 M86.74,405.60 v2.80 M88.13,405.60 v2.80 M89.30,405.60 v2.80 M90.31,405.60 v2.80 M91.21,405.60 v2.80 M92.01,405.60 v3.40" stroke="#000" stroke-width="1.05" fill="none"/>
<path d="M95.55,405.60 v2.80 M96.44,405.60 v2.80 M97.23,405.60 v3.40 M102.43,405.60 v2.80 M105.47,405.60 v2.80 M107.63,405.60 v2.80 M109.31,405.60 v2.80 M110.67,405.60 v2.80 M111.83,405.60 v2.80 M112.83,405.60 v2.80 M113.72,405.60 v2.80 M114.51,405.60 v3.40 M119.71,405.60 v2.80 M122.75,405.60 v2.80 M124.91,405.60 v2.80 M126.59,405.60 v2.80 M127.95,405.60 v2.80 M129.11,405.60 v2.80 M130.11,405.60 v2.80 M131.00,405.60 v2.80 M131.79,405.60 v3.40 M136.99,405.60 v2.80 M140.03,405.60 v2.80 M142.19,405.60 v2.80 M143.86,405.60 v2.80 M145.23,405.60 v2.80 M146.39,405.60 v2.80 M147.39,405.60 v2.80 M148.28,405.60 v2.80 M149.07,405.60 v3.40 M154.27,405.60 v2.80 M157.31,405.60 v2.80 M159.47,405.60 v2.80 M161.14,405.60 v2.80 M162.51,405.60 v2.80 M163.67,405.60 v2.80 M164.67,405.60 v2.80 M165.55,405.60 v2.80 M166.35,405.60 v3.40" stroke="#000" stroke-width="1.05" fill="none"/>
<text x="180.10" y="360.30" font-size="7.9" text-anchor="middle" font-weight="normal" fill="#222" transform="rotate(-90 180.10 360.30)" >B7-1</text>
<line x1="20.40" y1="462.30" x2="94.00" y2="462.30" stroke="#c0c0c0" stroke-width="0.8" />
<path d="M20.40,462.30 L20.40,462.30 L20.90,462.30 L21.40,462.30 L21.90,462.30 L22.40,462.30 L22.90,462.30 L23.40,462.29 L23.90,462.29 L24.40,462.29 L24.90,462.28 L25.40,462.27 L25.90,462.25 L26.40,462.23 L26.90,462.20 L27.40,462.16 L27.90,462.09 L28.40,462.00 L28.90,461.88 L29.40,461.72 L29.90,461.50 L30.40,461.14 L30.90,460.85 L31.40,460.31 L31.90,459.69 L32.40,459.16 L32.90,458.35 L33.40,456.92 L33.90,456.02 L34.40,454.24 L34.90,451.75 L35.40,449.60 L35.90,448.67 L36.40,446.33 L36.90,443.31 L37.40,438.52 L37.90,438.16 L38.40,434.34 L38.90,431.78 L39.40,428.69 L39.90,423.70 L40.40,422.88 L40.90,419.15 L41.40,415.04 L41.90,413.46 L42.40,414.44 L42.90,411.39 L43.40,412.93 L43.90,411.98 L44.40,417.23 L44.90,418.42 L45.40,419.65 L45.90,420.61 L46.40,425.72 L46.90,429.87 L47.40,434.30 L47.90,437.58 L48.40,441.08 L48.90,442.13 L49.40,445.53 L49.90,448.36 L50.40,451.44 L50.90,453.31 L51.40,455.55 L51.90,456.86 L52.40,458.29 L52.90,459.12 L53.40,459.96 L53.90,460.60 L54.40,460.91 L54.90,461.35 L55.40,461.63 L55.90,461.83 L56.40,461.97 L56.90,462.08 L57.40,462.15 L57.90,462.20 L58.40,462.24 L58.90,462.26 L59.40,462.27 L59.90,462.28 L60.40,462.29 L60.90,462.29 L61.40,462.30 L61.90,462.30 L62.40,462.30 L62.90,462.30 L63.40,462.30 L63.90,462.30 L64.40,462.30 L64.90,462.30 L65.40,462.30 L65.90,462.30 L66.40,462.30 L66.90,462.30 L67.40,462.30 L67.90,462.30 L68.40,462.30 L68.90,462.30 L69.40,462.30 L69.90,462.30 L70.40,462.30 L70.90,462.30 L71.40,462.30 L71.90,462.30 L72.40,462.30 L72.90,462.30 L73.40,462.30 L73.90,462.30 L74.40,462.30 L74.90,462.30 L75.40,462.30 L75.90,462.30 L76.40,462.30 L76.90,462.30 L77.40,462.30 L77.90,462.30 L78.40,462.30 L78.90,462.30 L79.40,462.30 L79.90,462.30 L80.40,462.30 L80.90,462.30 L81.40,462.30 L81.90,462.30 L82.40,462.30 L82.90,462.30 L83.40,462.30 L83.90,462.30 L84.40,462.30 L84.90,462.30 L85.40,462.30 L85.90,462.30 L86.40,462.30 L86.90,462.30 L87.40,462.30 L87.90,462.30 L88.40,462.30 L88.90,462.30 L89.40,462.30 L89.90,462.30 L90.40,462.30 L90.90,462.30 L91.40,462.30 L91.90,462.30 L92.40,462.30 L92.90,462.30 L93.40,462.30 L93.90,462.30 L94.00,462.30 L94.00,462.30 Z" fill="#532368" stroke="none"/>
<path d="M20.40,474.60 L20.40,472.60 L20.90,472.60 L21.40,472.60 L21.90,472.60 L22.40,472.60 L22.90,472.60 L23.40,472.60 L23.90,472.59 L24.40,472.59 L24.90,472.58 L25.40,472.57 L25.90,472.56 L26.40,472.54 L26.90,472.51 L27.40,472.47 L27.90,472.40 L28.40,472.32 L28.90,472.20 L29.40,472.03 L29.90,471.81 L30.40,471.49 L30.90,471.14 L31.40,470.60 L31.90,470.03 L32.40,469.20 L32.90,468.25 L33.40,466.98 L33.90,465.68 L34.40,463.84 L34.90,461.89 L35.40,459.79 L35.90,456.63 L36.40,453.59 L36.90,451.19 L37.40,447.26 L37.90,443.83 L38.40,440.34 L38.90,436.39 L39.40,432.63 L39.90,430.01 L40.40,426.71 L40.90,423.62 L41.40,420.08 L41.90,418.47 L42.40,417.73 L42.90,418.13 L43.40,417.29 L43.90,418.73 L44.40,421.74 L44.90,427.05 L45.40,430.88 L45.90,435.99 L46.40,440.56 L46.90,444.96 L47.40,450.16 L47.90,454.62 L48.40,458.53 L48.90,461.76 L49.40,464.14 L49.90,466.33 L50.40,468.10 L50.90,469.57 L51.40,470.49 L51.90,471.19 L52.40,471.66 L52.90,471.99 L53.40,472.22 L53.90,472.37 L54.40,472.46 L54.90,472.52 L55.40,472.55 L55.90,472.57 L56.40,472.59 L56.90,472.59 L57.40,472.60 L57.90,472.60 L58.40,472.60 L58.90,472.60 L59.40,472.60 L59.90,472.60 L60.40,472.60 L60.90,472.60 L61.40,472.60 L61.90,472.60 L62.40,472.60 L62.90,472.60 L63.40,472.60 L63.90,472.60 L64.40,472.60 L64.90,472.60 L65.40,472.60 L65.90,472.60 L66.40,472.60 L66.90,472.60 L67.40,472.60 L67.90,472.60 L68.40,472.60 L68.90,472.60 L69.40,472.60 L69.90,472.60 L70.40,472.60 L70.90,472.60 L71.40,472.60 L71.90,472.60 L72.40,472.60 L72.90,472.60 L73.40,472.60 L73.90,472.60 L74.40,472.60 L74.90,472.60 L75.40,472.60 L75.90,472.60 L76.40,472.60 L76.90,472.60 L77.40,472.60 L77.90,472.60 L78.40,472.60 L78.90,472.60 L79.40,472.60 L79.90,472.60 L80.40,472.60 L80.90,472.60 L81.40,472.60 L81.90,472.60 L82.40,472.60 L82.90,472.60 L83.40,472.60 L83.90,472.60 L84.40,472.60 L84.90,472.60 L85.40,472.60 L85.90,472.60 L86.40,472.60 L86.90,472.60 L87.40,472.60 L87.90,472.60 L88.40,472.60 L88.90,472.60 L89.40,472.60 L89.90,472.60 L90.40,472.60 L90.90,472.60 L91.40,472.60 L91.90,472.60 L92.40,472.60 L92.90,472.60 L93.40,472.60 L93.90,472.60 L94.00,472.60 L94.00,474.60 Z" fill="#fff" stroke="none"/>
<path d="M20.40,472.60 L20.90,472.60 L21.40,472.60 L21.90,472.60 L22.40,472.60 L22.90,472.60 L23.40,472.60 L23.90,472.59 L24.40,472.59 L24.90,472.58 L25.40,472.57 L25.90,472.56 L26.40,472.54 L26.90,472.51 L27.40,472.47 L27.90,472.40 L28.40,472.32 L28.90,472.20 L29.40,472.03 L29.90,471.81 L30.40,471.49 L30.90,471.14 L31.40,470.60 L31.90,470.03 L32.40,469.20 L32.90,468.25 L33.40,466.98 L33.90,465.68 L34.40,463.84 L34.90,461.89 L35.40,459.79 L35.90,456.63 L36.40,453.59 L36.90,451.19 L37.40,447.26 L37.90,443.83 L38.40,440.34 L38.90,436.39 L39.40,432.63 L39.90,430.01 L40.40,426.71 L40.90,423.62 L41.40,420.08 L41.90,418.47 L42.40,417.73 L42.90,418.13 L43.40,417.29 L43.90,418.73 L44.40,421.74 L44.90,427.05 L45.40,430.88 L45.90,435.99 L46.40,440.56 L46.90,444.96 L47.40,450.16 L47.90,454.62 L48.40,458.53 L48.90,461.76 L49.40,464.14 L49.90,466.33 L50.40,468.10 L50.90,469.57 L51.40,470.49 L51.90,471.19 L52.40,471.66 L52.90,471.99 L53.40,472.22 L53.90,472.37 L54.40,472.46 L54.90,472.52 L55.40,472.55 L55.90,472.57 L56.40,472.59 L56.90,472.59 L57.40,472.60 L57.90,472.60 L58.40,472.60 L58.90,472.60 L59.40,472.60 L59.90,472.60 L60.40,472.60 L60.90,472.60 L61.40,472.60 L61.90,472.60 L62.40,472.60 L62.90,472.60 L63.40,472.60 L63.90,472.60 L64.40,472.60 L64.90,472.60 L65.40,472.60 L65.90,472.60 L66.40,472.60 L66.90,472.60 L67.40,472.60 L67.90,472.60 L68.40,472.60 L68.90,472.60 L69.40,472.60 L69.90,472.60 L70.40,472.60 L70.90,472.60 L71.40,472.60 L71.90,472.60 L72.40,472.60 L72.90,472.60 L73.40,472.60 L73.90,472.60 L74.40,472.60 L74.90,472.60 L75.40,472.60 L75.90,472.60 L76.40,472.60 L76.90,472.60 L77.40,472.60 L77.90,472.60 L78.40,472.60 L78.90,472.60 L79.40,472.60 L79.90,472.60 L80.40,472.60 L80.90,472.60 L81.40,472.60 L81.90,472.60 L82.40,472.60 L82.90,472.60 L83.40,472.60 L83.90,472.60 L84.40,472.60 L84.90,472.60 L85.40,472.60 L85.90,472.60 L86.40,472.60 L86.90,472.60 L87.40,472.60 L87.90,472.60 L88.40,472.60 L88.90,472.60 L89.40,472.60 L89.90,472.60 L90.40,472.60 L90.90,472.60 L91.40,472.60 L91.90,472.60 L92.40,472.60 L92.90,472.60 L93.40,472.60 L93.90,472.60 L94.00,472.60" fill="none" stroke="#93203f" stroke-width="1.1" stroke-linejoin="round"/>
<path d="M20.40,482.70 L20.40,482.70 L20.90,482.70 L21.40,482.70 L21.90,482.70 L22.40,482.70 L22.90,482.70 L23.40,482.70 L23.90,482.70 L24.40,482.70 L24.90,482.70 L25.40,482.70 L25.90,482.70 L26.40,482.70 L26.90,482.70 L27.40,482.70 L27.90,482.70 L28.40,482.70 L28.90,482.70 L29.40,482.70 L29.90,482.70 L30.40,482.70 L30.90,482.70 L31.40,482.69 L31.90,482.68 L32.40,482.67 L32.90,482.64 L33.40,482.60 L33.90,482.51 L34.40,482.38 L34.90,482.16 L35.40,481.81 L35.90,481.26 L36.40,480.50 L36.90,479.37 L37.40,478.10 L37.90,475.80 L38.40,473.08 L38.90,470.01 L39.40,466.09 L39.90,461.95 L40.40,456.66 L40.90,450.89 L41.40,444.59 L41.90,440.27 L42.40,436.13 L42.90,433.05 L43.40,428.77 L43.90,429.60 L44.40,431.11 L44.90,430.66 L45.40,433.65 L45.90,436.32 L46.40,442.21 L46.90,446.43 L47.40,452.38 L47.90,457.07 L48.40,462.46 L48.90,466.06 L49.40,470.02 L49.90,472.93 L50.40,475.54 L50.90,477.34 L51.40,479.02 L51.90,480.16 L52.40,480.99 L52.90,481.56 L53.40,481.98 L53.90,482.25 L54.40,482.43 L54.90,482.54 L55.40,482.61 L55.90,482.65 L56.40,482.67 L56.90,482.68 L57.40,482.69 L57.90,482.70 L58.40,482.70 L58.90,482.70 L59.40,482.70 L59.90,482.70 L60.40,482.70 L60.90,482.70 L61.40,482.70 L61.90,482.70 L62.40,482.70 L62.90,482.70 L63.40,482.70 L63.90,482.70 L64.40,482.70 L64.90,482.70 L65.40,482.70 L65.90,482.70 L66.40,482.70 L66.90,482.70 L67.40,482.70 L67.90,482.70 L68.40,482.70 L68.90,482.70 L69.40,482.70 L69.90,482.70 L70.40,482.70 L70.90,482.70 L71.40,482.70 L71.90,482.70 L72.40,482.70 L72.90,482.70 L73.40,482.70 L73.90,482.70 L74.40,482.70 L74.90,482.70 L75.40,482.70 L75.90,482.70 L76.40,482.70 L76.90,482.70 L77.40,482.70 L77.90,482.70 L78.40,482.70 L78.90,482.70 L79.40,482.70 L79.90,482.70 L80.40,482.70 L80.90,482.70 L81.40,482.70 L81.90,482.70 L82.40,482.70 L82.90,482.70 L83.40,482.70 L83.90,482.70 L84.40,482.70 L84.90,482.70 L85.40,482.70 L85.90,482.70 L86.40,482.70 L86.90,482.70 L87.40,482.70 L87.90,482.70 L88.40,482.70 L88.90,482.70 L89.40,482.70 L89.90,482.70 L90.40,482.70 L90.90,482.70 L91.40,482.70 L91.90,482.70 L92.40,482.70 L92.90,482.70 L93.40,482.70 L93.90,482.70 L94.00,482.70 L94.00,482.70 Z" fill="#2d4b7d" stroke="none"/>
<line x1="96.00" y1="462.30" x2="168.70" y2="462.30" stroke="#c0c0c0" stroke-width="0.8" />
<path d="M96.00,462.30 L96.00,462.30 L96.50,462.30 L97.00,462.30 L97.50,462.30 L98.00,462.30 L98.50,462.30 L99.00,462.30 L99.50,462.30 L100.00,462.30 L100.50,462.30 L101.00,462.30 L101.50,462.30 L102.00,462.30 L102.50,462.30 L103.00,462.30 L103.50,462.29 L104.00,462.29 L104.50,462.29 L105.00,462.28 L105.50,462.28 L106.00,462.27 L106.50,462.26 L107.00,462.24 L107.50,462.22 L108.00,462.20 L108.50,462.17 L109.00,462.13 L109.50,462.07 L110.00,462.00 L110.50,461.92 L111.00,461.81 L111.50,461.68 L112.00,461.51 L112.50,461.31 L113.00,461.13 L113.50,460.69 L114.00,460.38 L114.50,460.08 L115.00,459.38 L115.50,458.86 L116.00,458.03 L116.50,457.36 L117.00,456.35 L117.50,455.25 L118.00,454.53 L118.50,453.59 L119.00,451.05 L119.50,450.73 L120.00,448.25 L120.50,445.44 L121.00,444.92 L121.50,443.13 L122.00,440.64 L122.50,439.01 L123.00,434.73 L123.50,434.12 L124.00,432.80 L124.50,428.12 L125.00,427.50 L125.50,425.81 L126.00,424.75 L126.50,418.12 L127.00,419.16 L127.50,416.30 L128.00,415.83 L128.50,412.30 L129.00,417.02 L129.50,412.85 L130.00,411.49 L130.50,415.58 L131.00,415.33 L131.50,417.11 L132.00,418.67 L132.50,416.74 L133.00,423.08 L133.50,422.59 L134.00,428.68 L134.50,427.71 L135.00,433.53 L135.50,433.33 L136.00,438.69 L136.50,440.69 L137.00,442.98 L137.50,445.25 L138.00,446.36 L138.50,449.02 L139.00,451.64 L139.50,453.05 L140.00,454.23 L140.50,455.27 L141.00,456.53 L141.50,457.67 L142.00,458.35 L142.50,459.05 L143.00,459.70 L143.50,460.22 L144.00,460.68 L144.50,461.02 L145.00,461.38 L145.50,461.59 L146.00,461.76 L146.50,461.89 L147.00,462.00 L147.50,462.07 L148.00,462.13 L148.50,462.18 L149.00,462.21 L149.50,462.24 L150.00,462.26 L150.50,462.27 L151.00,462.28 L151.50,462.28 L152.00,462.29 L152.50,462.29 L153.00,462.30 L153.50,462.30 L154.00,462.30 L154.50,462.30 L155.00,462.30 L155.50,462.30 L156.00,462.30 L156.50,462.30 L157.00,462.30 L157.50,462.30 L158.00,462.30 L158.50,462.30 L159.00,462.30 L159.50,462.30 L160.00,462.30 L160.50,462.30 L161.00,462.30 L161.50,462.30 L162.00,462.30 L162.50,462.30 L163.00,462.30 L163.50,462.30 L164.00,462.30 L164.50,462.30 L165.00,462.30 L165.50,462.30 L166.00,462.30 L166.50,462.30 L167.00,462.30 L167.50,462.30 L168.00,462.30 L168.50,462.30 L168.70,462.30 L168.70,462.30 Z" fill="#532368" stroke="none"/>
<path d="M96.00,474.60 L96.00,472.60 L96.50,472.60 L97.00,472.60 L97.50,472.60 L98.00,472.60 L98.50,472.60 L99.00,472.60 L99.50,472.60 L100.00,472.60 L100.50,472.60 L101.00,472.60 L101.50,472.60 L102.00,472.60 L102.50,472.60 L103.00,472.60 L103.50,472.60 L104.00,472.60 L104.50,472.60 L105.00,472.59 L105.50,472.59 L106.00,472.59 L106.50,472.58 L107.00,472.58 L107.50,472.57 L108.00,472.55 L108.50,472.53 L109.00,472.51 L109.50,472.47 L110.00,472.43 L110.50,472.37 L111.00,472.29 L111.50,472.19 L112.00,472.06 L112.50,471.89 L113.00,471.68 L113.50,471.42 L114.00,471.08 L114.50,470.67 L115.00,470.21 L115.50,469.66 L116.00,469.00 L116.50,468.13 L117.00,467.23 L117.50,466.09 L118.00,464.65 L118.50,463.19 L119.00,461.32 L119.50,459.89 L120.00,457.91 L120.50,455.66 L121.00,453.01 L121.50,450.73 L122.00,447.26 L122.50,444.65 L123.00,441.08 L123.50,439.26 L124.00,435.11 L124.50,433.40 L125.00,429.70 L125.50,426.92 L126.00,425.78 L126.50,423.63 L127.00,422.64 L127.50,419.54 L128.00,418.85 L128.50,417.83 L129.00,419.33 L129.50,419.60 L130.00,418.53 L130.50,421.16 L131.00,421.33 L131.50,424.51 L132.00,428.42 L132.50,430.12 L133.00,433.49 L133.50,437.34 L134.00,440.14 L134.50,443.71 L135.00,447.25 L135.50,450.41 L136.00,453.56 L136.50,456.45 L137.00,459.09 L137.50,461.20 L138.00,463.24 L138.50,464.97 L139.00,466.30 L139.50,467.53 L140.00,468.72 L140.50,469.57 L141.00,470.19 L141.50,470.75 L142.00,471.23 L142.50,471.54 L143.00,471.82 L143.50,472.03 L144.00,472.19 L144.50,472.30 L145.00,472.39 L145.50,472.45 L146.00,472.50 L146.50,472.53 L147.00,472.55 L147.50,472.57 L148.00,472.58 L148.50,472.59 L149.00,472.59 L149.50,472.59 L150.00,472.60 L150.50,472.60 L151.00,472.60 L151.50,472.60 L152.00,472.60 L152.50,472.60 L153.00,472.60 L153.50,472.60 L154.00,472.60 L154.50,472.60 L155.00,472.60 L155.50,472.60 L156.00,472.60 L156.50,472.60 L157.00,472.60 L157.50,472.60 L158.00,472.60 L158.50,472.60 L159.00,472.60 L159.50,472.60 L160.00,472.60 L160.50,472.60 L161.00,472.60 L161.50,472.60 L162.00,472.60 L162.50,472.60 L163.00,472.60 L163.50,472.60 L164.00,472.60 L164.50,472.60 L165.00,472.60 L165.50,472.60 L166.00,472.60 L166.50,472.60 L167.00,472.60 L167.50,472.60 L168.00,472.60 L168.50,472.60 L168.70,472.60 L168.70,474.60 Z" fill="#fff" stroke="none"/>
<path d="M96.00,472.60 L96.50,472.60 L97.00,472.60 L97.50,472.60 L98.00,472.60 L98.50,472.60 L99.00,472.60 L99.50,472.60 L100.00,472.60 L100.50,472.60 L101.00,472.60 L101.50,472.60 L102.00,472.60 L102.50,472.60 L103.00,472.60 L103.50,472.60 L104.00,472.60 L104.50,472.60 L105.00,472.59 L105.50,472.59 L106.00,472.59 L106.50,472.58 L107.00,472.58 L107.50,472.57 L108.00,472.55 L108.50,472.53 L109.00,472.51 L109.50,472.47 L110.00,472.43 L110.50,472.37 L111.00,472.29 L111.50,472.19 L112.00,472.06 L112.50,471.89 L113.00,471.68 L113.50,471.42 L114.00,471.08 L114.50,470.67 L115.00,470.21 L115.50,469.66 L116.00,469.00 L116.50,468.13 L117.00,467.23 L117.50,466.09 L118.00,464.65 L118.50,463.19 L119.00,461.32 L119.50,459.89 L120.00,457.91 L120.50,455.66 L121.00,453.01 L121.50,450.73 L122.00,447.26 L122.50,444.65 L123.00,441.08 L123.50,439.26 L124.00,435.11 L124.50,433.40 L125.00,429.70 L125.50,426.92 L126.00,425.78 L126.50,423.63 L127.00,422.64 L127.50,419.54 L128.00,418.85 L128.50,417.83 L129.00,419.33 L129.50,419.60 L130.00,418.53 L130.50,421.16 L131.00,421.33 L131.50,424.51 L132.00,428.42 L132.50,430.12 L133.00,433.49 L133.50,437.34 L134.00,440.14 L134.50,443.71 L135.00,447.25 L135.50,450.41 L136.00,453.56 L136.50,456.45 L137.00,459.09 L137.50,461.20 L138.00,463.24 L138.50,464.97 L139.00,466.30 L139.50,467.53 L140.00,468.72 L140.50,469.57 L141.00,470.19 L141.50,470.75 L142.00,471.23 L142.50,471.54 L143.00,471.82 L143.50,472.03 L144.00,472.19 L144.50,472.30 L145.00,472.39 L145.50,472.45 L146.00,472.50 L146.50,472.53 L147.00,472.55 L147.50,472.57 L148.00,472.58 L148.50,472.59 L149.00,472.59 L149.50,472.59 L150.00,472.60 L150.50,472.60 L151.00,472.60 L151.50,472.60 L152.00,472.60 L152.50,472.60 L153.00,472.60 L153.50,472.60 L154.00,472.60 L154.50,472.60 L155.00,472.60 L155.50,472.60 L156.00,472.60 L156.50,472.60 L157.00,472.60 L157.50,472.60 L158.00,472.60 L158.50,472.60 L159.00,472.60 L159.50,472.60 L160.00,472.60 L160.50,472.60 L161.00,472.60 L161.50,472.60 L162.00,472.60 L162.50,472.60 L163.00,472.60 L163.50,472.60 L164.00,472.60 L164.50,472.60 L165.00,472.60 L165.50,472.60 L166.00,472.60 L166.50,472.60 L167.00,472.60 L167.50,472.60 L168.00,472.60 L168.50,472.60 L168.70,472.60" fill="none" stroke="#93203f" stroke-width="1.1" stroke-linejoin="round"/>
<path d="M96.00,482.70 L96.00,482.70 L96.50,482.70 L97.00,482.70 L97.50,482.70 L98.00,482.70 L98.50,482.70 L99.00,482.70 L99.50,482.70 L100.00,482.70 L100.50,482.70 L101.00,482.70 L101.50,482.70 L102.00,482.70 L102.50,482.70 L103.00,482.70 L103.50,482.70 L104.00,482.70 L104.50,482.70 L105.00,482.70 L105.50,482.70 L106.00,482.70 L106.50,482.70 L107.00,482.70 L107.50,482.69 L108.00,482.69 L108.50,482.69 L109.00,482.68 L109.50,482.66 L110.00,482.64 L110.50,482.61 L111.00,482.57 L111.50,482.51 L112.00,482.42 L112.50,482.30 L113.00,482.14 L113.50,481.92 L114.00,481.60 L114.50,481.25 L115.00,480.76 L115.50,480.20 L116.00,479.50 L116.50,478.56 L117.00,477.63 L117.50,476.09 L118.00,474.85 L118.50,473.01 L119.00,471.47 L119.50,469.08 L120.00,467.33 L120.50,465.64 L121.00,462.24 L121.50,459.26 L122.00,457.34 L122.50,454.60 L123.00,452.88 L123.50,450.81 L124.00,448.55 L124.50,445.50 L125.00,442.55 L125.50,443.46 L126.00,441.34 L126.50,440.40 L127.00,436.88 L127.50,435.82 L128.00,436.12 L128.50,436.50 L129.00,435.29 L129.50,434.20 L130.00,437.01 L130.50,435.54 L131.00,437.00 L131.50,440.16 L132.00,442.31 L132.50,445.16 L133.00,448.50 L133.50,450.50 L134.00,454.06 L134.50,458.41 L135.00,460.92 L135.50,464.49 L136.00,467.41 L136.50,469.54 L137.00,472.69 L137.50,474.62 L138.00,476.31 L138.50,477.69 L139.00,479.05 L139.50,479.85 L140.00,480.71 L140.50,481.24 L141.00,481.68 L141.50,481.99 L142.00,482.22 L142.50,482.38 L143.00,482.49 L143.50,482.57 L144.00,482.62 L144.50,482.65 L145.00,482.67 L145.50,482.68 L146.00,482.69 L146.50,482.69 L147.00,482.70 L147.50,482.70 L148.00,482.70 L148.50,482.70 L149.00,482.70 L149.50,482.70 L150.00,482.70 L150.50,482.70 L151.00,482.70 L151.50,482.70 L152.00,482.70 L152.50,482.70 L153.00,482.70 L153.50,482.70 L154.00,482.70 L154.50,482.70 L155.00,482.70 L155.50,482.70 L156.00,482.70 L156.50,482.70 L157.00,482.70 L157.50,482.70 L158.00,482.70 L158.50,482.70 L159.00,482.70 L159.50,482.70 L160.00,482.70 L160.50,482.70 L161.00,482.70 L161.50,482.70 L162.00,482.70 L162.50,482.70 L163.00,482.70 L163.50,482.70 L164.00,482.70 L164.50,482.70 L165.00,482.70 L165.50,482.70 L166.00,482.70 L166.50,482.70 L167.00,482.70 L167.50,482.70 L168.00,482.70 L168.50,482.70 L168.70,482.70 L168.70,482.70 Z" fill="#2d4b7d" stroke="none"/>
<rect x="19.80" y="409.70" width="149.50" height="73.50" fill="none" stroke="#000" stroke-width="1.1" />
<line x1="95.00" y1="409.70" x2="95.00" y2="483.20" stroke="#000" stroke-width="2.0" />
<path d="M20.36,483.70 v2.80 M21.26,483.70 v2.80 M22.06,483.70 v3.40 M27.32,483.70 v2.80 M30.40,483.70 v2.80 M32.59,483.70 v2.80 M34.28,483.70 v2.80 M35.66,483.70 v2.80 M36.84,483.70 v2.80 M37.85,483.70 v2.80 M38.74,483.70 v2.80 M39.54,483.70 v3.40 M44.81,483.70 v2.80 M47.89,483.70 v2.80 M50.07,483.70 v2.80 M51.77,483.70 v2.80 M53.15,483.70 v2.80 M54.32,483.70 v2.80 M55.34,483.70 v2.80 M56.23,483.70 v2.80 M57.03,483.70 v3.40 M62.30,483.70 v2.80 M65.38,483.70 v2.80 M67.56,483.70 v2.80 M69.26,483.70 v2.80 M70.64,483.70 v2.80 M71.81,483.70 v2.80 M72.83,483.70 v2.80 M73.72,483.70 v2.80 M74.52,483.70 v3.40 M79.79,483.70 v2.80 M82.87,483.70 v2.80 M85.05,483.70 v2.80 M86.74,483.70 v2.80 M88.13,483.70 v2.80 M89.30,483.70 v2.80 M90.31,483.70 v2.80 M91.21,483.70 v2.80 M92.01,483.70 v3.40" stroke="#000" stroke-width="1.05" fill="none"/>
<path d="M95.55,483.70 v2.80 M96.44,483.70 v2.80 M97.23,483.70 v3.40 M102.43,483.70 v2.80 M105.47,483.70 v2.80 M107.63,483.70 v2.80 M109.31,483.70 v2.80 M110.67,483.70 v2.80 M111.83,483.70 v2.80 M112.83,483.70 v2.80 M113.72,483.70 v2.80 M114.51,483.70 v3.40 M119.71,483.70 v2.80 M122.75,483.70 v2.80 M124.91,483.70 v2.80 M126.59,483.70 v2.80 M127.95,483.70 v2.80 M129.11,483.70 v2.80 M130.11,483.70 v2.80 M131.00,483.70 v2.80 M131.79,483.70 v3.40 M136.99,483.70 v2.80 M140.03,483.70 v2.80 M142.19,483.70 v2.80 M143.86,483.70 v2.80 M145.23,483.70 v2.80 M146.39,483.70 v2.80 M147.39,483.70 v2.80 M148.28,483.70 v2.80 M149.07,483.70 v3.40 M154.27,483.70 v2.80 M157.31,483.70 v2.80 M159.47,483.70 v2.80 M161.14,483.70 v2.80 M162.51,483.70 v2.80 M163.67,483.70 v2.80 M164.67,483.70 v2.80 M165.55,483.70 v2.80 M166.35,483.70 v3.40" stroke="#000" stroke-width="1.05" fill="none"/>
<text x="180.10" y="434.40" font-size="7.9" text-anchor="middle" font-weight="normal" fill="#222" transform="rotate(-90 180.10 434.40)" >B7-2</text>
<line x1="20.40" y1="540.20" x2="94.00" y2="540.20" stroke="#c0c0c0" stroke-width="0.8" />
<path d="M20.40,540.20 L20.40,540.20 L20.90,540.20 L21.40,540.20 L21.90,540.20 L22.40,540.20 L22.90,540.20 L23.40,540.20 L23.90,540.20 L24.40,540.20 L24.90,540.20 L25.40,540.19 L25.90,540.19 L26.40,540.18 L26.90,540.17 L27.40,540.15 L27.90,540.13 L28.40,540.09 L28.90,540.04 L29.40,539.96 L29.90,539.85 L30.40,539.70 L30.90,539.48 L31.40,539.13 L31.90,538.74 L32.40,538.24 L32.90,537.75 L33.40,536.90 L33.90,535.65 L34.40,534.26 L34.90,533.45 L35.40,531.55 L35.90,528.38 L36.40,527.29 L36.90,523.46 L37.40,521.27 L37.90,517.11 L38.40,512.84 L38.90,510.32 L39.40,507.67 L39.90,504.67 L40.40,499.92 L40.90,496.98 L41.40,495.90 L41.90,493.67 L42.40,491.93 L42.90,493.20 L43.40,493.92 L43.90,492.75 L44.40,498.35 L44.90,498.97 L45.40,502.37 L45.90,507.25 L46.40,514.53 L46.90,518.63 L47.40,521.73 L47.90,526.94 L48.40,529.27 L48.90,533.00 L49.40,534.57 L49.90,536.71 L50.40,537.62 L50.90,538.47 L51.40,539.13 L51.90,539.54 L52.40,539.80 L52.90,539.97 L53.40,540.07 L53.90,540.13 L54.40,540.16 L54.90,540.18 L55.40,540.19 L55.90,540.19 L56.40,540.20 L56.90,540.20 L57.40,540.20 L57.90,540.20 L58.40,540.20 L58.90,540.20 L59.40,540.20 L59.90,540.20 L60.40,540.20 L60.90,540.20 L61.40,540.20 L61.90,540.20 L62.40,540.20 L62.90,540.20 L63.40,540.20 L63.90,540.20 L64.40,540.20 L64.90,540.20 L65.40,540.20 L65.90,540.20 L66.40,540.20 L66.90,540.20 L67.40,540.20 L67.90,540.20 L68.40,540.20 L68.90,540.20 L69.40,540.20 L69.90,540.20 L70.40,540.20 L70.90,540.20 L71.40,540.20 L71.90,540.20 L72.40,540.20 L72.90,540.20 L73.40,540.20 L73.90,540.20 L74.40,540.20 L74.90,540.20 L75.40,540.20 L75.90,540.20 L76.40,540.20 L76.90,540.20 L77.40,540.20 L77.90,540.20 L78.40,540.20 L78.90,540.20 L79.40,540.20 L79.90,540.20 L80.40,540.20 L80.90,540.20 L81.40,540.20 L81.90,540.20 L82.40,540.20 L82.90,540.20 L83.40,540.20 L83.90,540.20 L84.40,540.20 L84.90,540.20 L85.40,540.20 L85.90,540.20 L86.40,540.20 L86.90,540.20 L87.40,540.20 L87.90,540.20 L88.40,540.20 L88.90,540.20 L89.40,540.20 L89.90,540.20 L90.40,540.20 L90.90,540.20 L91.40,540.20 L91.90,540.20 L92.40,540.20 L92.90,540.20 L93.40,540.20 L93.90,540.20 L94.00,540.20 L94.00,540.20 Z" fill="#532368" stroke="none"/>
<path d="M20.40,552.50 L20.40,550.50 L20.90,550.50 L21.40,550.50 L21.90,550.50 L22.40,550.50 L22.90,550.50 L23.40,550.50 L23.90,550.50 L24.40,550.50 L24.90,550.50 L25.40,550.50 L25.90,550.50 L26.40,550.50 L26.90,550.50 L27.40,550.50 L27.90,550.50 L28.40,550.50 L28.90,550.50 L29.40,550.50 L29.90,550.50 L30.40,550.50 L30.90,550.49 L31.40,550.49 L31.90,550.48 L32.40,550.46 L32.90,550.43 L33.40,550.39 L33.90,550.33 L34.40,550.23 L34.90,550.08 L35.40,549.86 L35.90,549.55 L36.40,549.09 L36.90,548.53 L37.40,547.63 L37.90,546.62 L38.40,545.26 L38.90,543.45 L39.40,541.51 L39.90,538.98 L40.40,535.88 L40.90,532.68 L41.40,528.50 L41.90,524.77 L42.40,520.62 L42.90,516.56 L43.40,512.53 L43.90,507.58 L44.40,503.63 L44.90,502.20 L45.40,499.15 L45.90,499.25 L46.40,497.65 L46.90,499.23 L47.40,499.20 L47.90,500.98 L48.40,501.77 L48.90,504.47 L49.40,508.75 L49.90,511.93 L50.40,514.72 L50.90,518.80 L51.40,522.46 L51.90,525.22 L52.40,528.86 L52.90,533.07 L53.40,536.02 L53.90,538.30 L54.40,540.53 L54.90,542.62 L55.40,544.41 L55.90,545.81 L56.40,547.00 L56.90,547.90 L57.40,548.56 L57.90,549.15 L58.40,549.52 L58.90,549.82 L59.40,550.03 L59.90,550.18 L60.40,550.29 L60.90,550.36 L61.40,550.41 L61.90,550.44 L62.40,550.46 L62.90,550.48 L63.40,550.49 L63.90,550.49 L64.40,550.50 L64.90,550.50 L65.40,550.50 L65.90,550.50 L66.40,550.50 L66.90,550.50 L67.40,550.50 L67.90,550.50 L68.40,550.50 L68.90,550.50 L69.40,550.50 L69.90,550.50 L70.40,550.50 L70.90,550.50 L71.40,550.50 L71.90,550.50 L72.40,550.50 L72.90,550.50 L73.40,550.50 L73.90,550.50 L74.40,550.50 L74.90,550.50 L75.40,550.50 L75.90,550.50 L76.40,550.50 L76.90,550.50 L77.40,550.50 L77.90,550.50 L78.40,550.50 L78.90,550.50 L79.40,550.50 L79.90,550.50 L80.40,550.50 L80.90,550.50 L81.40,550.50 L81.90,550.50 L82.40,550.50 L82.90,550.50 L83.40,550.50 L83.90,550.50 L84.40,550.50 L84.90,550.50 L85.40,550.50 L85.90,550.50 L86.40,550.50 L86.90,550.50 L87.40,550.50 L87.90,550.50 L88.40,550.50 L88.90,550.50 L89.40,550.50 L89.90,550.50 L90.40,550.50 L90.90,550.50 L91.40,550.50 L91.90,550.50 L92.40,550.50 L92.90,550.50 L93.40,550.50 L93.90,550.50 L94.00,550.50 L94.00,552.50 Z" fill="#fff" stroke="none"/>
<path d="M20.40,550.50 L20.90,550.50 L21.40,550.50 L21.90,550.50 L22.40,550.50 L22.90,550.50 L23.40,550.50 L23.90,550.50 L24.40,550.50 L24.90,550.50 L25.40,550.50 L25.90,550.50 L26.40,550.50 L26.90,550.50 L27.40,550.50 L27.90,550.50 L28.40,550.50 L28.90,550.50 L29.40,550.50 L29.90,550.50 L30.40,550.50 L30.90,550.49 L31.40,550.49 L31.90,550.48 L32.40,550.46 L32.90,550.43 L33.40,550.39 L33.90,550.33 L34.40,550.23 L34.90,550.08 L35.40,549.86 L35.90,549.55 L36.40,549.09 L36.90,548.53 L37.40,547.63 L37.90,546.62 L38.40,545.26 L38.90,543.45 L39.40,541.51 L39.90,538.98 L40.40,535.88 L40.90,532.68 L41.40,528.50 L41.90,524.77 L42.40,520.62 L42.90,516.56 L43.40,512.53 L43.90,507.58 L44.40,503.63 L44.90,502.20 L45.40,499.15 L45.90,499.25 L46.40,497.65 L46.90,499.23 L47.40,499.20 L47.90,500.98 L48.40,501.77 L48.90,504.47 L49.40,508.75 L49.90,511.93 L50.40,514.72 L50.90,518.80 L51.40,522.46 L51.90,525.22 L52.40,528.86 L52.90,533.07 L53.40,536.02 L53.90,538.30 L54.40,540.53 L54.90,542.62 L55.40,544.41 L55.90,545.81 L56.40,547.00 L56.90,547.90 L57.40,548.56 L57.90,549.15 L58.40,549.52 L58.90,549.82 L59.40,550.03 L59.90,550.18 L60.40,550.29 L60.90,550.36 L61.40,550.41 L61.90,550.44 L62.40,550.46 L62.90,550.48 L63.40,550.49 L63.90,550.49 L64.40,550.50 L64.90,550.50 L65.40,550.50 L65.90,550.50 L66.40,550.50 L66.90,550.50 L67.40,550.50 L67.90,550.50 L68.40,550.50 L68.90,550.50 L69.40,550.50 L69.90,550.50 L70.40,550.50 L70.90,550.50 L71.40,550.50 L71.90,550.50 L72.40,550.50 L72.90,550.50 L73.40,550.50 L73.90,550.50 L74.40,550.50 L74.90,550.50 L75.40,550.50 L75.90,550.50 L76.40,550.50 L76.90,550.50 L77.40,550.50 L77.90,550.50 L78.40,550.50 L78.90,550.50 L79.40,550.50 L79.90,550.50 L80.40,550.50 L80.90,550.50 L81.40,550.50 L81.90,550.50 L82.40,550.50 L82.90,550.50 L83.40,550.50 L83.90,550.50 L84.40,550.50 L84.90,550.50 L85.40,550.50 L85.90,550.50 L86.40,550.50 L86.90,550.50 L87.40,550.50 L87.90,550.50 L88.40,550.50 L88.90,550.50 L89.40,550.50 L89.90,550.50 L90.40,550.50 L90.90,550.50 L91.40,550.50 L91.90,550.50 L92.40,550.50 L92.90,550.50 L93.40,550.50 L93.90,550.50 L94.00,550.50" fill="none" stroke="#93203f" stroke-width="1.1" stroke-linejoin="round"/>
<path d="M20.40,560.10 L20.40,560.10 L20.90,560.10 L21.40,560.10 L21.90,560.10 L22.40,560.10 L22.90,560.10 L23.40,560.10 L23.90,560.10 L24.40,560.10 L24.90,560.10 L25.40,560.10 L25.90,560.10 L26.40,560.10 L26.90,560.10 L27.40,560.10 L27.90,560.10 L28.40,560.10 L28.90,560.10 L29.40,560.10 L29.90,560.10 L30.40,560.10 L30.90,560.10 L31.40,560.10 L31.90,560.10 L32.40,560.10 L32.90,560.10 L33.40,560.10 L33.90,560.10 L34.40,560.10 L34.90,560.10 L35.40,560.10 L35.90,560.10 L36.40,560.10 L36.90,560.10 L37.40,560.10 L37.90,560.10 L38.40,560.10 L38.90,560.10 L39.40,560.10 L39.90,560.10 L40.40,560.10 L40.90,560.10 L41.40,560.10 L41.90,560.10 L42.40,560.10 L42.90,560.10 L43.40,560.10 L43.90,560.10 L44.40,560.10 L44.90,560.10 L45.40,560.10 L45.90,560.10 L46.40,560.10 L46.90,560.10 L47.40,560.10 L47.90,560.10 L48.40,560.10 L48.90,560.10 L49.40,560.09 L49.90,560.09 L50.40,560.08 L50.90,560.06 L51.40,560.03 L51.90,559.98 L52.40,559.91 L52.90,559.79 L53.40,559.61 L53.90,559.34 L54.40,558.97 L54.90,558.44 L55.40,557.65 L55.90,556.70 L56.40,555.29 L56.90,553.72 L57.40,551.35 L57.90,548.70 L58.40,545.85 L58.90,541.71 L59.40,539.07 L59.90,533.09 L60.40,529.92 L60.90,526.41 L61.40,521.79 L61.90,518.12 L62.40,516.71 L62.90,512.06 L63.40,511.15 L63.90,511.27 L64.40,512.48 L64.90,514.33 L65.40,519.73 L65.90,524.26 L66.40,528.49 L66.90,534.02 L67.40,540.33 L67.90,544.81 L68.40,547.84 L68.90,551.35 L69.40,554.21 L69.90,556.01 L70.40,557.36 L70.90,558.33 L71.40,559.01 L71.90,559.43 L72.40,559.71 L72.90,559.88 L73.40,559.98 L73.90,560.04 L74.40,560.07 L74.90,560.08 L75.40,560.09 L75.90,560.10 L76.40,560.10 L76.90,560.10 L77.40,560.10 L77.90,560.10 L78.40,560.10 L78.90,560.10 L79.40,560.10 L79.90,560.10 L80.40,560.10 L80.90,560.10 L81.40,560.10 L81.90,560.10 L82.40,560.10 L82.90,560.10 L83.40,560.10 L83.90,560.10 L84.40,560.10 L84.90,560.10 L85.40,560.10 L85.90,560.10 L86.40,560.10 L86.90,560.10 L87.40,560.10 L87.90,560.10 L88.40,560.10 L88.90,560.10 L89.40,560.10 L89.90,560.10 L90.40,560.10 L90.90,560.10 L91.40,560.10 L91.90,560.10 L92.40,560.10 L92.90,560.10 L93.40,560.10 L93.90,560.10 L94.00,560.10 L94.00,560.10 Z" fill="#2d4b7d" stroke="none"/>
<line x1="96.00" y1="540.20" x2="168.70" y2="540.20" stroke="#c0c0c0" stroke-width="0.8" />
<path d="M96.00,540.20 L96.00,540.20 L96.50,540.20 L97.00,540.20 L97.50,540.20 L98.00,540.20 L98.50,540.20 L99.00,540.20 L99.50,540.20 L100.00,540.20 L100.50,540.20 L101.00,540.20 L101.50,540.20 L102.00,540.20 L102.50,540.20 L103.00,540.19 L103.50,540.19 L104.00,540.19 L104.50,540.18 L105.00,540.17 L105.50,540.17 L106.00,540.15 L106.50,540.14 L107.00,540.12 L107.50,540.09 L108.00,540.05 L108.50,540.00 L109.00,539.95 L109.50,539.87 L110.00,539.78 L110.50,539.66 L111.00,539.51 L111.50,539.33 L112.00,539.13 L112.50,538.93 L113.00,538.51 L113.50,538.25 L114.00,537.70 L114.50,537.23 L115.00,536.43 L115.50,536.02 L116.00,534.63 L116.50,534.39 L117.00,533.39 L117.50,531.53 L118.00,529.73 L118.50,528.34 L119.00,526.69 L119.50,526.23 L120.00,524.32 L120.50,522.13 L121.00,520.22 L121.50,518.29 L122.00,515.61 L122.50,513.04 L123.00,510.93 L123.50,506.42 L124.00,503.85 L124.50,505.11 L125.00,500.95 L125.50,497.73 L126.00,500.02 L126.50,492.82 L127.00,493.78 L127.50,493.44 L128.00,492.90 L128.50,489.00 L129.00,491.31 L129.50,492.10 L130.00,489.39 L130.50,495.77 L131.00,495.70 L131.50,495.16 L132.00,498.38 L132.50,501.70 L133.00,504.53 L133.50,510.90 L134.00,511.92 L134.50,515.73 L135.00,517.31 L135.50,520.47 L136.00,524.62 L136.50,526.27 L137.00,529.27 L137.50,531.13 L138.00,532.48 L138.50,533.84 L139.00,535.20 L139.50,536.58 L140.00,537.44 L140.50,537.80 L141.00,538.48 L141.50,538.90 L142.00,539.25 L142.50,539.50 L143.00,539.69 L143.50,539.84 L144.00,539.94 L144.50,540.02 L145.00,540.08 L145.50,540.12 L146.00,540.14 L146.50,540.16 L147.00,540.17 L147.50,540.18 L148.00,540.19 L148.50,540.19 L149.00,540.20 L149.50,540.20 L150.00,540.20 L150.50,540.20 L151.00,540.20 L151.50,540.20 L152.00,540.20 L152.50,540.20 L153.00,540.20 L153.50,540.20 L154.00,540.20 L154.50,540.20 L155.00,540.20 L155.50,540.20 L156.00,540.20 L156.50,540.20 L157.00,540.20 L157.50,540.20 L158.00,540.20 L158.50,540.20 L159.00,540.20 L159.50,540.20 L160.00,540.20 L160.50,540.20 L161.00,540.20 L161.50,540.20 L162.00,540.20 L162.50,540.20 L163.00,540.20 L163.50,540.20 L164.00,540.20 L164.50,540.20 L165.00,540.20 L165.50,540.20 L166.00,540.20 L166.50,540.20 L167.00,540.20 L167.50,540.20 L168.00,540.20 L168.50,540.20 L168.70,540.20 L168.70,540.20 Z" fill="#532368" stroke="none"/>
<path d="M96.00,552.50 L96.00,550.50 L96.50,550.50 L97.00,550.50 L97.50,550.50 L98.00,550.50 L98.50,550.50 L99.00,550.50 L99.50,550.50 L100.00,550.50 L100.50,550.50 L101.00,550.50 L101.50,550.50 L102.00,550.50 L102.50,550.50 L103.00,550.50 L103.50,550.50 L104.00,550.50 L104.50,550.50 L105.00,550.50 L105.50,550.50 L106.00,550.49 L106.50,550.49 L107.00,550.49 L107.50,550.48 L108.00,550.47 L108.50,550.46 L109.00,550.44 L109.50,550.42 L110.00,550.38 L110.50,550.34 L111.00,550.28 L111.50,550.20 L112.00,550.10 L112.50,549.97 L113.00,549.80 L113.50,549.58 L114.00,549.30 L114.50,548.94 L115.00,548.58 L115.50,547.96 L116.00,547.35 L116.50,546.58 L117.00,545.62 L117.50,544.67 L118.00,543.27 L118.50,541.86 L119.00,540.48 L119.50,538.31 L120.00,536.29 L120.50,533.81 L121.00,531.26 L121.50,528.71 L122.00,525.89 L122.50,522.43 L123.00,520.41 L123.50,517.31 L124.00,513.28 L124.50,510.08 L125.00,506.40 L125.50,504.04 L126.00,501.81 L126.50,498.54 L127.00,498.54 L127.50,496.65 L128.00,493.43 L128.50,493.44 L129.00,493.41 L129.50,494.18 L130.00,496.74 L130.50,497.96 L131.00,501.18 L131.50,504.44 L132.00,507.76 L132.50,512.60 L133.00,515.56 L133.50,520.93 L134.00,525.19 L134.50,528.46 L135.00,532.31 L135.50,535.57 L136.00,538.10 L136.50,540.66 L137.00,542.69 L137.50,544.43 L138.00,546.04 L138.50,547.12 L139.00,548.03 L139.50,548.71 L140.00,549.22 L140.50,549.59 L141.00,549.87 L141.50,550.07 L142.00,550.21 L142.50,550.31 L143.00,550.38 L143.50,550.42 L144.00,550.45 L144.50,550.47 L145.00,550.48 L145.50,550.49 L146.00,550.49 L146.50,550.50 L147.00,550.50 L147.50,550.50 L148.00,550.50 L148.50,550.50 L149.00,550.50 L149.50,550.50 L150.00,550.50 L150.50,550.50 L151.00,550.50 L151.50,550.50 L152.00,550.50 L152.50,550.50 L153.00,550.50 L153.50,550.50 L154.00,550.50 L154.50,550.50 L155.00,550.50 L155.50,550.50 L156.00,550.50 L156.50,550.50 L157.00,550.50 L157.50,550.50 L158.00,550.50 L158.50,550.50 L159.00,550.50 L159.50,550.50 L160.00,550.50 L160.50,550.50 L161.00,550.50 L161.50,550.50 L162.00,550.50 L162.50,550.50 L163.00,550.50 L163.50,550.50 L164.00,550.50 L164.50,550.50 L165.00,550.50 L165.50,550.50 L166.00,550.50 L166.50,550.50 L167.00,550.50 L167.50,550.50 L168.00,550.50 L168.50,550.50 L168.70,550.50 L168.70,552.50 Z" fill="#fff" stroke="none"/>
<path d="M96.00,550.50 L96.50,550.50 L97.00,550.50 L97.50,550.50 L98.00,550.50 L98.50,550.50 L99.00,550.50 L99.50,550.50 L100.00,550.50 L100.50,550.50 L101.00,550.50 L101.50,550.50 L102.00,550.50 L102.50,550.50 L103.00,550.50 L103.50,550.50 L104.00,550.50 L104.50,550.50 L105.00,550.50 L105.50,550.50 L106.00,550.49 L106.50,550.49 L107.00,550.49 L107.50,550.48 L108.00,550.47 L108.50,550.46 L109.00,550.44 L109.50,550.42 L110.00,550.38 L110.50,550.34 L111.00,550.28 L111.50,550.20 L112.00,550.10 L112.50,549.97 L113.00,549.80 L113.50,549.58 L114.00,549.30 L114.50,548.94 L115.00,548.58 L115.50,547.96 L116.00,547.35 L116.50,546.58 L117.00,545.62 L117.50,544.67 L118.00,543.27 L118.50,541.86 L119.00,540.48 L119.50,538.31 L120.00,536.29 L120.50,533.81 L121.00,531.26 L121.50,528.71 L122.00,525.89 L122.50,522.43 L123.00,520.41 L123.50,517.31 L124.00,513.28 L124.50,510.08 L125.00,506.40 L125.50,504.04 L126.00,501.81 L126.50,498.54 L127.00,498.54 L127.50,496.65 L128.00,493.43 L128.50,493.44 L129.00,493.41 L129.50,494.18 L130.00,496.74 L130.50,497.96 L131.00,501.18 L131.50,504.44 L132.00,507.76 L132.50,512.60 L133.00,515.56 L133.50,520.93 L134.00,525.19 L134.50,528.46 L135.00,532.31 L135.50,535.57 L136.00,538.10 L136.50,540.66 L137.00,542.69 L137.50,544.43 L138.00,546.04 L138.50,547.12 L139.00,548.03 L139.50,548.71 L140.00,549.22 L140.50,549.59 L141.00,549.87 L141.50,550.07 L142.00,550.21 L142.50,550.31 L143.00,550.38 L143.50,550.42 L144.00,550.45 L144.50,550.47 L145.00,550.48 L145.50,550.49 L146.00,550.49 L146.50,550.50 L147.00,550.50 L147.50,550.50 L148.00,550.50 L148.50,550.50 L149.00,550.50 L149.50,550.50 L150.00,550.50 L150.50,550.50 L151.00,550.50 L151.50,550.50 L152.00,550.50 L152.50,550.50 L153.00,550.50 L153.50,550.50 L154.00,550.50 L154.50,550.50 L155.00,550.50 L155.50,550.50 L156.00,550.50 L156.50,550.50 L157.00,550.50 L157.50,550.50 L158.00,550.50 L158.50,550.50 L159.00,550.50 L159.50,550.50 L160.00,550.50 L160.50,550.50 L161.00,550.50 L161.50,550.50 L162.00,550.50 L162.50,550.50 L163.00,550.50 L163.50,550.50 L164.00,550.50 L164.50,550.50 L165.00,550.50 L165.50,550.50 L166.00,550.50 L166.50,550.50 L167.00,550.50 L167.50,550.50 L168.00,550.50 L168.50,550.50 L168.70,550.50" fill="none" stroke="#93203f" stroke-width="1.1" stroke-linejoin="round"/>
<path d="M96.00,560.10 L96.00,560.10 L96.50,560.10 L97.00,560.10 L97.50,560.10 L98.00,560.10 L98.50,560.10 L99.00,560.10 L99.50,560.10 L100.00,560.10 L100.50,560.10 L101.00,560.10 L101.50,560.10 L102.00,560.10 L102.50,560.10 L103.00,560.10 L103.50,560.10 L104.00,560.10 L104.50,560.10 L105.00,560.10 L105.50,560.10 L106.00,560.10 L106.50,560.10 L107.00,560.10 L107.50,560.10 L108.00,560.10 L108.50,560.10 L109.00,560.10 L109.50,560.10 L110.00,560.10 L110.50,560.10 L111.00,560.10 L111.50,560.10 L112.00,560.10 L112.50,560.10 L113.00,560.10 L113.50,560.10 L114.00,560.10 L114.50,560.10 L115.00,560.10 L115.50,560.10 L116.00,560.10 L116.50,560.10 L117.00,560.10 L117.50,560.10 L118.00,560.10 L118.50,560.10 L119.00,560.10 L119.50,560.10 L120.00,560.10 L120.50,560.10 L121.00,560.10 L121.50,560.10 L122.00,560.10 L122.50,560.10 L123.00,560.10 L123.50,560.10 L124.00,560.10 L124.50,560.10 L125.00,560.10 L125.50,560.10 L126.00,560.09 L126.50,560.09 L127.00,560.08 L127.50,560.05 L128.00,560.02 L128.50,559.95 L129.00,559.84 L129.50,559.66 L130.00,559.37 L130.50,558.90 L131.00,558.33 L131.50,557.43 L132.00,556.17 L132.50,554.43 L133.00,552.25 L133.50,549.43 L134.00,545.55 L134.50,541.97 L135.00,537.23 L135.50,532.11 L136.00,528.43 L136.50,524.20 L137.00,517.71 L137.50,516.00 L138.00,514.39 L138.50,511.37 L139.00,510.39 L139.50,512.08 L140.00,517.96 L140.50,521.35 L141.00,526.00 L141.50,529.75 L142.00,536.49 L142.50,540.78 L143.00,545.10 L143.50,548.50 L144.00,551.77 L144.50,554.37 L145.00,556.18 L145.50,557.58 L146.00,558.47 L146.50,559.08 L147.00,559.50 L147.50,559.75 L148.00,559.90 L148.50,559.99 L149.00,560.04 L149.50,560.07 L150.00,560.09 L150.50,560.09 L151.00,560.10 L151.50,560.10 L152.00,560.10 L152.50,560.10 L153.00,560.10 L153.50,560.10 L154.00,560.10 L154.50,560.10 L155.00,560.10 L155.50,560.10 L156.00,560.10 L156.50,560.10 L157.00,560.10 L157.50,560.10 L158.00,560.10 L158.50,560.10 L159.00,560.10 L159.50,560.10 L160.00,560.10 L160.50,560.10 L161.00,560.10 L161.50,560.10 L162.00,560.10 L162.50,560.10 L163.00,560.10 L163.50,560.10 L164.00,560.10 L164.50,560.10 L165.00,560.10 L165.50,560.10 L166.00,560.10 L166.50,560.10 L167.00,560.10 L167.50,560.10 L168.00,560.10 L168.50,560.10 L168.70,560.10 L168.70,560.10 Z" fill="#2d4b7d" stroke="none"/>
<rect x="19.80" y="487.60" width="149.50" height="73.00" fill="none" stroke="#000" stroke-width="1.1" />
<line x1="95.00" y1="487.60" x2="95.00" y2="560.60" stroke="#000" stroke-width="2.0" />
<path d="M20.36,561.10 v2.80 M21.26,561.10 v2.80 M22.06,561.10 v3.40 M27.32,561.10 v2.80 M30.40,561.10 v2.80 M32.59,561.10 v2.80 M34.28,561.10 v2.80 M35.66,561.10 v2.80 M36.84,561.10 v2.80 M37.85,561.10 v2.80 M38.74,561.10 v2.80 M39.54,561.10 v3.40 M44.81,561.10 v2.80 M47.89,561.10 v2.80 M50.07,561.10 v2.80 M51.77,561.10 v2.80 M53.15,561.10 v2.80 M54.32,561.10 v2.80 M55.34,561.10 v2.80 M56.23,561.10 v2.80 M57.03,561.10 v3.40 M62.30,561.10 v2.80 M65.38,561.10 v2.80 M67.56,561.10 v2.80 M69.26,561.10 v2.80 M70.64,561.10 v2.80 M71.81,561.10 v2.80 M72.83,561.10 v2.80 M73.72,561.10 v2.80 M74.52,561.10 v3.40 M79.79,561.10 v2.80 M82.87,561.10 v2.80 M85.05,561.10 v2.80 M86.74,561.10 v2.80 M88.13,561.10 v2.80 M89.30,561.10 v2.80 M90.31,561.10 v2.80 M91.21,561.10 v2.80 M92.01,561.10 v3.40" stroke="#000" stroke-width="1.05" fill="none"/>
<path d="M95.55,561.10 v2.80 M96.44,561.10 v2.80 M97.23,561.10 v3.40 M102.43,561.10 v2.80 M105.47,561.10 v2.80 M107.63,561.10 v2.80 M109.31,561.10 v2.80 M110.67,561.10 v2.80 M111.83,561.10 v2.80 M112.83,561.10 v2.80 M113.72,561.10 v2.80 M114.51,561.10 v3.40 M119.71,561.10 v2.80 M122.75,561.10 v2.80 M124.91,561.10 v2.80 M126.59,561.10 v2.80 M127.95,561.10 v2.80 M129.11,561.10 v2.80 M130.11,561.10 v2.80 M131.00,561.10 v2.80 M131.79,561.10 v3.40 M136.99,561.10 v2.80 M140.03,561.10 v2.80 M142.19,561.10 v2.80 M143.86,561.10 v2.80 M145.23,561.10 v2.80 M146.39,561.10 v2.80 M147.39,561.10 v2.80 M148.28,561.10 v2.80 M149.07,561.10 v3.40 M154.27,561.10 v2.80 M157.31,561.10 v2.80 M159.47,561.10 v2.80 M161.14,561.10 v2.80 M162.51,561.10 v2.80 M163.67,561.10 v2.80 M164.67,561.10 v2.80 M165.55,561.10 v2.80 M166.35,561.10 v3.40" stroke="#000" stroke-width="1.05" fill="none"/>
<text x="180.10" y="518.40" font-size="7.9" text-anchor="middle" font-weight="normal" fill="#222" transform="rotate(-90 180.10 518.40)" >PDL1</text>
<line x1="20.40" y1="617.60" x2="94.00" y2="617.60" stroke="#c0c0c0" stroke-width="0.8" />
<path d="M20.40,617.60 L20.40,617.60 L20.90,617.60 L21.40,617.60 L21.90,617.60 L22.40,617.60 L22.90,617.60 L23.40,617.60 L23.90,617.60 L24.40,617.60 L24.90,617.60 L25.40,617.59 L25.90,617.59 L26.40,617.58 L26.90,617.57 L27.40,617.55 L27.90,617.53 L28.40,617.49 L28.90,617.44 L29.40,617.36 L29.90,617.25 L30.40,617.09 L30.90,616.88 L31.40,616.53 L31.90,616.23 L32.40,615.61 L32.90,614.87 L33.40,614.29 L33.90,612.98 L34.40,612.00 L34.90,610.66 L35.40,608.67 L35.90,605.93 L36.40,604.55 L36.90,600.75 L37.40,598.50 L37.90,595.89 L38.40,591.66 L38.90,588.35 L39.40,584.54 L39.90,578.99 L40.40,575.40 L40.90,576.51 L41.40,569.37 L41.90,569.82 L42.40,566.17 L42.90,566.49 L43.40,568.67 L43.90,571.96 L44.40,570.31 L44.90,573.81 L45.40,580.44 L45.90,587.60 L46.40,589.63 L46.90,594.82 L47.40,599.13 L47.90,603.07 L48.40,606.62 L48.90,609.79 L49.40,612.28 L49.90,613.83 L50.40,615.06 L50.90,615.87 L51.40,616.51 L51.90,616.94 L52.40,617.20 L52.90,617.36 L53.40,617.46 L53.90,617.52 L54.40,617.56 L54.90,617.58 L55.40,617.59 L55.90,617.59 L56.40,617.60 L56.90,617.60 L57.40,617.60 L57.90,617.60 L58.40,617.60 L58.90,617.60 L59.40,617.60 L59.90,617.60 L60.40,617.60 L60.90,617.60 L61.40,617.60 L61.90,617.60 L62.40,617.60 L62.90,617.60 L63.40,617.60 L63.90,617.60 L64.40,617.60 L64.90,617.60 L65.40,617.60 L65.90,617.60 L66.40,617.60 L66.90,617.60 L67.40,617.60 L67.90,617.60 L68.40,617.60 L68.90,617.60 L69.40,617.60 L69.90,617.60 L70.40,617.60 L70.90,617.60 L71.40,617.60 L71.90,617.60 L72.40,617.60 L72.90,617.60 L73.40,617.60 L73.90,617.60 L74.40,617.60 L74.90,617.60 L75.40,617.60 L75.90,617.60 L76.40,617.60 L76.90,617.60 L77.40,617.60 L77.90,617.60 L78.40,617.60 L78.90,617.60 L79.40,617.60 L79.90,617.60 L80.40,617.60 L80.90,617.60 L81.40,617.60 L81.90,617.60 L82.40,617.60 L82.90,617.60 L83.40,617.60 L83.90,617.60 L84.40,617.60 L84.90,617.60 L85.40,617.60 L85.90,617.60 L86.40,617.60 L86.90,617.60 L87.40,617.60 L87.90,617.60 L88.40,617.60 L88.90,617.60 L89.40,617.60 L89.90,617.60 L90.40,617.60 L90.90,617.60 L91.40,617.60 L91.90,617.60 L92.40,617.60 L92.90,617.60 L93.40,617.60 L93.90,617.60 L94.00,617.60 L94.00,617.60 Z" fill="#532368" stroke="none"/>
<path d="M20.40,629.90 L20.40,627.90 L20.90,627.90 L21.40,627.90 L21.90,627.90 L22.40,627.90 L22.90,627.90 L23.40,627.90 L23.90,627.90 L24.40,627.90 L24.90,627.90 L25.40,627.90 L25.90,627.90 L26.40,627.90 L26.90,627.90 L27.40,627.90 L27.90,627.90 L28.40,627.90 L28.90,627.90 L29.40,627.90 L29.90,627.90 L30.40,627.89 L30.90,627.89 L31.40,627.88 L31.90,627.88 L32.40,627.87 L32.90,627.85 L33.40,627.83 L33.90,627.80 L34.40,627.75 L34.90,627.70 L35.40,627.62 L35.90,627.52 L36.40,627.38 L36.90,627.20 L37.40,626.97 L37.90,626.67 L38.40,626.29 L38.90,625.82 L39.40,625.24 L39.90,624.50 L40.40,623.67 L40.90,622.80 L41.40,621.63 L41.90,620.18 L42.40,618.65 L42.90,616.56 L43.40,614.67 L43.90,612.65 L44.40,610.36 L44.90,607.94 L45.40,604.83 L45.90,601.57 L46.40,599.70 L46.90,596.37 L47.40,593.66 L47.90,590.36 L48.40,588.36 L48.90,586.26 L49.40,582.62 L49.90,581.40 L50.40,578.77 L50.90,576.55 L51.40,576.09 L51.90,574.32 L52.40,574.19 L52.90,576.17 L53.40,576.05 L53.90,575.61 L54.40,576.91 L54.90,579.03 L55.40,577.98 L55.90,579.39 L56.40,580.87 L56.90,581.62 L57.40,583.38 L57.90,583.55 L58.40,585.55 L58.90,585.72 L59.40,586.65 L59.90,589.74 L60.40,591.42 L60.90,592.80 L61.40,594.41 L61.90,597.77 L62.40,599.76 L62.90,601.88 L63.40,604.87 L63.90,607.37 L64.40,609.09 L64.90,611.53 L65.40,613.76 L65.90,615.83 L66.40,617.92 L66.90,619.40 L67.40,620.89 L67.90,622.18 L68.40,623.37 L68.90,624.31 L69.40,625.02 L69.90,625.64 L70.40,626.17 L70.90,626.57 L71.40,626.93 L71.90,627.18 L72.40,627.38 L72.90,627.52 L73.40,627.63 L73.90,627.71 L74.40,627.77 L74.90,627.81 L75.40,627.84 L75.90,627.86 L76.40,627.87 L76.90,627.88 L77.40,627.89 L77.90,627.89 L78.40,627.90 L78.90,627.90 L79.40,627.90 L79.90,627.90 L80.40,627.90 L80.90,627.90 L81.40,627.90 L81.90,627.90 L82.40,627.90 L82.90,627.90 L83.40,627.90 L83.90,627.90 L84.40,627.90 L84.90,627.90 L85.40,627.90 L85.90,627.90 L86.40,627.90 L86.90,627.90 L87.40,627.90 L87.90,627.90 L88.40,627.90 L88.90,627.90 L89.40,627.90 L89.90,627.90 L90.40,627.90 L90.90,627.90 L91.40,627.90 L91.90,627.90 L92.40,627.90 L92.90,627.90 L93.40,627.90 L93.90,627.90 L94.00,627.90 L94.00,629.90 Z" fill="#fff" stroke="none"/>
<path d="M20.40,627.90 L20.90,627.90 L21.40,627.90 L21.90,627.90 L22.40,627.90 L22.90,627.90 L23.40,627.90 L23.90,627.90 L24.40,627.90 L24.90,627.90 L25.40,627.90 L25.90,627.90 L26.40,627.90 L26.90,627.90 L27.40,627.90 L27.90,627.90 L28.40,627.90 L28.90,627.90 L29.40,627.90 L29.90,627.90 L30.40,627.89 L30.90,627.89 L31.40,627.88 L31.90,627.88 L32.40,627.87 L32.90,627.85 L33.40,627.83 L33.90,627.80 L34.40,627.75 L34.90,627.70 L35.40,627.62 L35.90,627.52 L36.40,627.38 L36.90,627.20 L37.40,626.97 L37.90,626.67 L38.40,626.29 L38.90,625.82 L39.40,625.24 L39.90,624.50 L40.40,623.67 L40.90,622.80 L41.40,621.63 L41.90,620.18 L42.40,618.65 L42.90,616.56 L43.40,614.67 L43.90,612.65 L44.40,610.36 L44.90,607.94 L45.40,604.83 L45.90,601.57 L46.40,599.70 L46.90,596.37 L47.40,593.66 L47.90,590.36 L48.40,588.36 L48.90,586.26 L49.40,582.62 L49.90,581.40 L50.40,578.77 L50.90,576.55 L51.40,576.09 L51.90,574.32 L52.40,574.19 L52.90,576.17 L53.40,576.05 L53.90,575.61 L54.40,576.91 L54.90,579.03 L55.40,577.98 L55.90,579.39 L56.40,580.87 L56.90,581.62 L57.40,583.38 L57.90,583.55 L58.40,585.55 L58.90,585.72 L59.40,586.65 L59.90,589.74 L60.40,591.42 L60.90,592.80 L61.40,594.41 L61.90,597.77 L62.40,599.76 L62.90,601.88 L63.40,604.87 L63.90,607.37 L64.40,609.09 L64.90,611.53 L65.40,613.76 L65.90,615.83 L66.40,617.92 L66.90,619.40 L67.40,620.89 L67.90,622.18 L68.40,623.37 L68.90,624.31 L69.40,625.02 L69.90,625.64 L70.40,626.17 L70.90,626.57 L71.40,626.93 L71.90,627.18 L72.40,627.38 L72.90,627.52 L73.40,627.63 L73.90,627.71 L74.40,627.77 L74.90,627.81 L75.40,627.84 L75.90,627.86 L76.40,627.87 L76.90,627.88 L77.40,627.89 L77.90,627.89 L78.40,627.90 L78.90,627.90 L79.40,627.90 L79.90,627.90 L80.40,627.90 L80.90,627.90 L81.40,627.90 L81.90,627.90 L82.40,627.90 L82.90,627.90 L83.40,627.90 L83.90,627.90 L84.40,627.90 L84.90,627.90 L85.40,627.90 L85.90,627.90 L86.40,627.90 L86.90,627.90 L87.40,627.90 L87.90,627.90 L88.40,627.90 L88.90,627.90 L89.40,627.90 L89.90,627.90 L90.40,627.90 L90.90,627.90 L91.40,627.90 L91.90,627.90 L92.40,627.90 L92.90,627.90 L93.40,627.90 L93.90,627.90 L94.00,627.90" fill="none" stroke="#93203f" stroke-width="1.1" stroke-linejoin="round"/>
<path d="M20.40,637.70 L20.40,637.70 L20.90,637.70 L21.40,637.70 L21.90,637.70 L22.40,637.70 L22.90,637.70 L23.40,637.70 L23.90,637.70 L24.40,637.70 L24.90,637.70 L25.40,637.70 L25.90,637.70 L26.40,637.70 L26.90,637.70 L27.40,637.70 L27.90,637.70 L28.40,637.70 L28.90,637.70 L29.40,637.70 L29.90,637.70 L30.40,637.70 L30.90,637.70 L31.40,637.70 L31.90,637.70 L32.40,637.70 L32.90,637.70 L33.40,637.70 L33.90,637.70 L34.40,637.70 L34.90,637.70 L35.40,637.70 L35.90,637.69 L36.40,637.69 L36.90,637.69 L37.40,637.68 L37.90,637.68 L38.40,637.67 L38.90,637.66 L39.40,637.64 L39.90,637.62 L40.40,637.60 L40.90,637.56 L41.40,637.52 L41.90,637.46 L42.40,637.39 L42.90,637.30 L43.40,637.18 L43.90,637.04 L44.40,636.86 L44.90,636.62 L45.40,636.40 L45.90,636.09 L46.40,635.66 L46.90,635.11 L47.40,634.65 L47.90,633.83 L48.40,633.14 L48.90,632.29 L49.40,631.23 L49.90,630.10 L50.40,628.84 L50.90,627.15 L51.40,625.64 L51.90,624.06 L52.40,622.80 L52.90,620.57 L53.40,618.58 L53.90,615.07 L54.40,612.48 L54.90,611.21 L55.40,607.88 L55.90,607.11 L56.40,602.61 L56.90,602.46 L57.40,597.90 L57.90,596.30 L58.40,593.53 L58.90,592.15 L59.40,591.78 L59.90,591.98 L60.40,590.71 L60.90,587.55 L61.40,588.05 L61.90,590.85 L62.40,588.67 L62.90,592.69 L63.40,594.82 L63.90,594.12 L64.40,596.96 L64.90,601.75 L65.40,603.83 L65.90,608.65 L66.40,612.02 L66.90,614.11 L67.40,618.11 L67.90,621.26 L68.40,622.95 L68.90,625.77 L69.40,627.71 L69.90,629.55 L70.40,631.29 L70.90,632.85 L71.40,633.90 L71.90,634.61 L72.40,635.42 L72.90,636.03 L73.40,636.41 L73.90,636.78 L74.40,637.03 L74.90,637.23 L75.40,637.37 L75.90,637.47 L76.40,637.54 L76.90,637.59 L77.40,637.63 L77.90,637.65 L78.40,637.67 L78.90,637.68 L79.40,637.69 L79.90,637.69 L80.40,637.70 L80.90,637.70 L81.40,637.70 L81.90,637.70 L82.40,637.70 L82.90,637.70 L83.40,637.70 L83.90,637.70 L84.40,637.70 L84.90,637.70 L85.40,637.70 L85.90,637.70 L86.40,637.70 L86.90,637.70 L87.40,637.70 L87.90,637.70 L88.40,637.70 L88.90,637.70 L89.40,637.70 L89.90,637.70 L90.40,637.70 L90.90,637.70 L91.40,637.70 L91.90,637.70 L92.40,637.70 L92.90,637.70 L93.40,637.70 L93.90,637.70 L94.00,637.70 L94.00,637.70 Z" fill="#2d4b7d" stroke="none"/>
<line x1="96.00" y1="617.60" x2="168.70" y2="617.60" stroke="#c0c0c0" stroke-width="0.8" />
<path d="M96.00,617.60 L96.00,617.60 L96.50,617.60 L97.00,617.60 L97.50,617.60 L98.00,617.60 L98.50,617.60 L99.00,617.60 L99.50,617.60 L100.00,617.60 L100.50,617.60 L101.00,617.60 L101.50,617.60 L102.00,617.60 L102.50,617.60 L103.00,617.60 L103.50,617.59 L104.00,617.59 L104.50,617.59 L105.00,617.58 L105.50,617.58 L106.00,617.57 L106.50,617.56 L107.00,617.55 L107.50,617.53 L108.00,617.50 L108.50,617.47 L109.00,617.42 L109.50,617.37 L110.00,617.30 L110.50,617.21 L111.00,617.09 L111.50,616.95 L112.00,616.77 L112.50,616.56 L113.00,616.25 L113.50,615.96 L114.00,615.58 L114.50,615.00 L115.00,614.68 L115.50,613.68 L116.00,613.16 L116.50,612.61 L117.00,611.11 L117.50,610.48 L118.00,608.36 L118.50,607.26 L119.00,606.44 L119.50,603.39 L120.00,602.78 L120.50,599.33 L121.00,599.64 L121.50,596.69 L122.00,593.35 L122.50,592.21 L123.00,589.63 L123.50,588.27 L124.00,583.66 L124.50,580.09 L125.00,580.63 L125.50,576.54 L126.00,575.41 L126.50,572.68 L127.00,569.32 L127.50,571.03 L128.00,571.30 L128.50,569.99 L129.00,568.18 L129.50,566.46 L130.00,567.41 L130.50,573.23 L131.00,576.35 L131.50,573.64 L132.00,580.57 L132.50,581.09 L133.00,586.80 L133.50,588.48 L134.00,590.97 L134.50,593.56 L135.00,598.45 L135.50,601.11 L136.00,602.96 L136.50,605.90 L137.00,608.55 L137.50,610.02 L138.00,611.62 L138.50,612.52 L139.00,613.70 L139.50,614.83 L140.00,615.37 L140.50,615.86 L141.00,616.30 L141.50,616.70 L142.00,616.95 L142.50,617.14 L143.00,617.27 L143.50,617.37 L144.00,617.44 L144.50,617.50 L145.00,617.53 L145.50,617.55 L146.00,617.57 L146.50,617.58 L147.00,617.59 L147.50,617.59 L148.00,617.60 L148.50,617.60 L149.00,617.60 L149.50,617.60 L150.00,617.60 L150.50,617.60 L151.00,617.60 L151.50,617.60 L152.00,617.60 L152.50,617.60 L153.00,617.60 L153.50,617.60 L154.00,617.60 L154.50,617.60 L155.00,617.60 L155.50,617.60 L156.00,617.60 L156.50,617.60 L157.00,617.60 L157.50,617.60 L158.00,617.60 L158.50,617.60 L159.00,617.60 L159.50,617.60 L160.00,617.60 L160.50,617.60 L161.00,617.60 L161.50,617.60 L162.00,617.60 L162.50,617.60 L163.00,617.60 L163.50,617.60 L164.00,617.60 L164.50,617.60 L165.00,617.60 L165.50,617.60 L166.00,617.60 L166.50,617.60 L167.00,617.60 L167.50,617.60 L168.00,617.60 L168.50,617.60 L168.70,617.60 L168.70,617.60 Z" fill="#532368" stroke="none"/>
<path d="M96.00,629.90 L96.00,627.90 L96.50,627.90 L97.00,627.90 L97.50,627.90 L98.00,627.90 L98.50,627.90 L99.00,627.90 L99.50,627.90 L100.00,627.90 L100.50,627.90 L101.00,627.90 L101.50,627.90 L102.00,627.90 L102.50,627.90 L103.00,627.90 L103.50,627.90 L104.00,627.90 L104.50,627.90 L105.00,627.90 L105.50,627.90 L106.00,627.90 L106.50,627.90 L107.00,627.90 L107.50,627.90 L108.00,627.90 L108.50,627.90 L109.00,627.90 L109.50,627.90 L110.00,627.89 L110.50,627.89 L111.00,627.89 L111.50,627.88 L112.00,627.87 L112.50,627.86 L113.00,627.84 L113.50,627.81 L114.00,627.78 L114.50,627.73 L115.00,627.66 L115.50,627.57 L116.00,627.45 L116.50,627.29 L117.00,627.08 L117.50,626.82 L118.00,626.44 L118.50,626.03 L119.00,625.57 L119.50,624.87 L120.00,624.15 L120.50,623.25 L121.00,621.93 L121.50,620.55 L122.00,619.20 L122.50,617.41 L123.00,615.77 L123.50,613.68 L124.00,611.20 L124.50,608.88 L125.00,605.44 L125.50,603.32 L126.00,600.01 L126.50,597.68 L127.00,594.56 L127.50,591.48 L128.00,588.47 L128.50,586.44 L129.00,583.71 L129.50,581.74 L130.00,581.33 L130.50,579.38 L131.00,579.97 L131.50,578.58 L132.00,578.89 L132.50,580.03 L133.00,582.29 L133.50,585.59 L134.00,588.02 L134.50,591.97 L135.00,595.70 L135.50,600.29 L136.00,603.89 L136.50,607.11 L137.00,609.80 L137.50,612.86 L138.00,615.66 L138.50,618.21 L139.00,620.33 L139.50,621.95 L140.00,623.20 L140.50,624.47 L141.00,625.26 L141.50,625.99 L142.00,626.53 L142.50,626.93 L143.00,627.22 L143.50,627.43 L144.00,627.58 L144.50,627.69 L145.00,627.76 L145.50,627.81 L146.00,627.84 L146.50,627.86 L147.00,627.88 L147.50,627.89 L148.00,627.89 L148.50,627.90 L149.00,627.90 L149.50,627.90 L150.00,627.90 L150.50,627.90 L151.00,627.90 L151.50,627.90 L152.00,627.90 L152.50,627.90 L153.00,627.90 L153.50,627.90 L154.00,627.90 L154.50,627.90 L155.00,627.90 L155.50,627.90 L156.00,627.90 L156.50,627.90 L157.00,627.90 L157.50,627.90 L158.00,627.90 L158.50,627.90 L159.00,627.90 L159.50,627.90 L160.00,627.90 L160.50,627.90 L161.00,627.90 L161.50,627.90 L162.00,627.90 L162.50,627.90 L163.00,627.90 L163.50,627.90 L164.00,627.90 L164.50,627.90 L165.00,627.90 L165.50,627.90 L166.00,627.90 L166.50,627.90 L167.00,627.90 L167.50,627.90 L168.00,627.90 L168.50,627.90 L168.70,627.90 L168.70,629.90 Z" fill="#fff" stroke="none"/>
<path d="M96.00,627.90 L96.50,627.90 L97.00,627.90 L97.50,627.90 L98.00,627.90 L98.50,627.90 L99.00,627.90 L99.50,627.90 L100.00,627.90 L100.50,627.90 L101.00,627.90 L101.50,627.90 L102.00,627.90 L102.50,627.90 L103.00,627.90 L103.50,627.90 L104.00,627.90 L104.50,627.90 L105.00,627.90 L105.50,627.90 L106.00,627.90 L106.50,627.90 L107.00,627.90 L107.50,627.90 L108.00,627.90 L108.50,627.90 L109.00,627.90 L109.50,627.90 L110.00,627.89 L110.50,627.89 L111.00,627.89 L111.50,627.88 L112.00,627.87 L112.50,627.86 L113.00,627.84 L113.50,627.81 L114.00,627.78 L114.50,627.73 L115.00,627.66 L115.50,627.57 L116.00,627.45 L116.50,627.29 L117.00,627.08 L117.50,626.82 L118.00,626.44 L118.50,626.03 L119.00,625.57 L119.50,624.87 L120.00,624.15 L120.50,623.25 L121.00,621.93 L121.50,620.55 L122.00,619.20 L122.50,617.41 L123.00,615.77 L123.50,613.68 L124.00,611.20 L124.50,608.88 L125.00,605.44 L125.50,603.32 L126.00,600.01 L126.50,597.68 L127.00,594.56 L127.50,591.48 L128.00,588.47 L128.50,586.44 L129.00,583.71 L129.50,581.74 L130.00,581.33 L130.50,579.38 L131.00,579.97 L131.50,578.58 L132.00,578.89 L132.50,580.03 L133.00,582.29 L133.50,585.59 L134.00,588.02 L134.50,591.97 L135.00,595.70 L135.50,600.29 L136.00,603.89 L136.50,607.11 L137.00,609.80 L137.50,612.86 L138.00,615.66 L138.50,618.21 L139.00,620.33 L139.50,621.95 L140.00,623.20 L140.50,624.47 L141.00,625.26 L141.50,625.99 L142.00,626.53 L142.50,626.93 L143.00,627.22 L143.50,627.43 L144.00,627.58 L144.50,627.69 L145.00,627.76 L145.50,627.81 L146.00,627.84 L146.50,627.86 L147.00,627.88 L147.50,627.89 L148.00,627.89 L148.50,627.90 L149.00,627.90 L149.50,627.90 L150.00,627.90 L150.50,627.90 L151.00,627.90 L151.50,627.90 L152.00,627.90 L152.50,627.90 L153.00,627.90 L153.50,627.90 L154.00,627.90 L154.50,627.90 L155.00,627.90 L155.50,627.90 L156.00,627.90 L156.50,627.90 L157.00,627.90 L157.50,627.90 L158.00,627.90 L158.50,627.90 L159.00,627.90 L159.50,627.90 L160.00,627.90 L160.50,627.90 L161.00,627.90 L161.50,627.90 L162.00,627.90 L162.50,627.90 L163.00,627.90 L163.50,627.90 L164.00,627.90 L164.50,627.90 L165.00,627.90 L165.50,627.90 L166.00,627.90 L166.50,627.90 L167.00,627.90 L167.50,627.90 L168.00,627.90 L168.50,627.90 L168.70,627.90" fill="none" stroke="#93203f" stroke-width="1.1" stroke-linejoin="round"/>
<path d="M96.00,637.70 L96.00,637.70 L96.50,637.70 L97.00,637.70 L97.50,637.70 L98.00,637.70 L98.50,637.70 L99.00,637.70 L99.50,637.70 L100.00,637.70 L100.50,637.70 L101.00,637.70 L101.50,637.70 L102.00,637.70 L102.50,637.70 L103.00,637.70 L103.50,637.70 L104.00,637.70 L104.50,637.70 L105.00,637.70 L105.50,637.70 L106.00,637.70 L106.50,637.70 L107.00,637.70 L107.50,637.70 L108.00,637.70 L108.50,637.70 L109.00,637.70 L109.50,637.70 L110.00,637.70 L110.50,637.70 L111.00,637.70 L111.50,637.70 L112.00,637.70 L112.50,637.70 L113.00,637.70 L113.50,637.69 L114.00,637.69 L114.50,637.68 L115.00,637.67 L115.50,637.66 L116.00,637.65 L116.50,637.62 L117.00,637.59 L117.50,637.55 L118.00,637.49 L118.50,637.40 L119.00,637.29 L119.50,637.15 L120.00,636.96 L120.50,636.72 L121.00,636.44 L121.50,636.08 L122.00,635.47 L122.50,634.99 L123.00,634.32 L123.50,633.23 L124.00,632.54 L124.50,631.01 L125.00,629.84 L125.50,628.37 L126.00,626.49 L126.50,624.59 L127.00,621.95 L127.50,619.24 L128.00,617.22 L128.50,615.05 L129.00,612.22 L129.50,608.92 L130.00,606.96 L130.50,602.71 L131.00,601.81 L131.50,598.43 L132.00,595.88 L132.50,594.48 L133.00,593.76 L133.50,590.33 L134.00,591.19 L134.50,589.77 L135.00,592.79 L135.50,591.55 L136.00,593.10 L136.50,597.86 L137.00,599.35 L137.50,602.31 L138.00,605.53 L138.50,609.94 L139.00,613.54 L139.50,616.57 L140.00,620.30 L140.50,623.65 L141.00,626.06 L141.50,628.42 L142.00,630.27 L142.50,631.64 L143.00,632.96 L143.50,634.23 L144.00,635.18 L144.50,635.83 L145.00,636.34 L145.50,636.71 L146.00,637.00 L146.50,637.22 L147.00,637.37 L147.50,637.48 L148.00,637.56 L148.50,637.61 L149.00,637.64 L149.50,637.66 L150.00,637.68 L150.50,637.69 L151.00,637.69 L151.50,637.69 L152.00,637.70 L152.50,637.70 L153.00,637.70 L153.50,637.70 L154.00,637.70 L154.50,637.70 L155.00,637.70 L155.50,637.70 L156.00,637.70 L156.50,637.70 L157.00,637.70 L157.50,637.70 L158.00,637.70 L158.50,637.70 L159.00,637.70 L159.50,637.70 L160.00,637.70 L160.50,637.70 L161.00,637.70 L161.50,637.70 L162.00,637.70 L162.50,637.70 L163.00,637.70 L163.50,637.70 L164.00,637.70 L164.50,637.70 L165.00,637.70 L165.50,637.70 L166.00,637.70 L166.50,637.70 L167.00,637.70 L167.50,637.70 L168.00,637.70 L168.50,637.70 L168.70,637.70 L168.70,637.70 Z" fill="#2d4b7d" stroke="none"/>
<rect x="19.80" y="565.00" width="149.50" height="73.20" fill="none" stroke="#000" stroke-width="1.1" />
<line x1="95.00" y1="565.00" x2="95.00" y2="638.20" stroke="#000" stroke-width="2.0" />
<path d="M20.36,638.70 v2.80 M21.26,638.70 v2.80 M22.06,638.70 v3.40 M27.32,638.70 v2.80 M30.40,638.70 v2.80 M32.59,638.70 v2.80 M34.28,638.70 v2.80 M35.66,638.70 v2.80 M36.84,638.70 v2.80 M37.85,638.70 v2.80 M38.74,638.70 v2.80 M39.54,638.70 v3.40 M44.81,638.70 v2.80 M47.89,638.70 v2.80 M50.07,638.70 v2.80 M51.77,638.70 v2.80 M53.15,638.70 v2.80 M54.32,638.70 v2.80 M55.34,638.70 v2.80 M56.23,638.70 v2.80 M57.03,638.70 v3.40 M62.30,638.70 v2.80 M65.38,638.70 v2.80 M67.56,638.70 v2.80 M69.26,638.70 v2.80 M70.64,638.70 v2.80 M71.81,638.70 v2.80 M72.83,638.70 v2.80 M73.72,638.70 v2.80 M74.52,638.70 v3.40 M79.79,638.70 v2.80 M82.87,638.70 v2.80 M85.05,638.70 v2.80 M86.74,638.70 v2.80 M88.13,638.70 v2.80 M89.30,638.70 v2.80 M90.31,638.70 v2.80 M91.21,638.70 v2.80 M92.01,638.70 v3.40" stroke="#000" stroke-width="1.05" fill="none"/>
<path d="M95.55,638.70 v2.80 M96.44,638.70 v2.80 M97.23,638.70 v3.40 M102.43,638.70 v2.80 M105.47,638.70 v2.80 M107.63,638.70 v2.80 M109.31,638.70 v2.80 M110.67,638.70 v2.80 M111.83,638.70 v2.80 M112.83,638.70 v2.80 M113.72,638.70 v2.80 M114.51,638.70 v3.40 M119.71,638.70 v2.80 M122.75,638.70 v2.80 M124.91,638.70 v2.80 M126.59,638.70 v2.80 M127.95,638.70 v2.80 M129.11,638.70 v2.80 M130.11,638.70 v2.80 M131.00,638.70 v2.80 M131.79,638.70 v3.40 M136.99,638.70 v2.80 M140.03,638.70 v2.80 M142.19,638.70 v2.80 M143.86,638.70 v2.80 M145.23,638.70 v2.80 M146.39,638.70 v2.80 M147.39,638.70 v2.80 M148.28,638.70 v2.80 M149.07,638.70 v3.40 M154.27,638.70 v2.80 M157.31,638.70 v2.80 M159.47,638.70 v2.80 M161.14,638.70 v2.80 M162.51,638.70 v2.80 M163.67,638.70 v2.80 M164.67,638.70 v2.80 M165.55,638.70 v2.80 M166.35,638.70 v3.40" stroke="#000" stroke-width="1.05" fill="none"/>
<text x="180.10" y="594.60" font-size="7.9" text-anchor="middle" font-weight="normal" fill="#222" transform="rotate(-90 180.10 594.60)" >PDL2</text>
<rect x="171.50" y="255.50" width="12.80" height="75.80" fill="none" stroke="#000" stroke-width="1.3" rx="3" ry="3"/>
<rect x="28.80" y="648.60" width="8.00" height="7.60" fill="#532368" stroke="none" stroke-width="1" />
<text x="40.40" y="655.00" font-size="6.8" text-anchor="start" font-weight="normal" fill="#222" >Isotype Control</text>
<rect x="29.30" y="662.40" width="7.00" height="6.90" fill="#fff" stroke="#93203f" stroke-width="1.0" />
<text x="40.40" y="668.80" font-size="6.8" text-anchor="start" font-weight="normal" fill="#222" >No IFN&#947;</text>
<rect x="28.80" y="674.20" width="8.00" height="7.80" fill="#2d4b7d" stroke="none" stroke-width="1" />
<text x="40.40" y="681.00" font-size="6.8" text-anchor="start" font-weight="normal" fill="#222" >+ IFN&#947;</text>
<text x="219.00" y="156.50" font-size="12.2" text-anchor="start" font-weight="bold" fill="#000" stroke="#000" stroke-width="0.45">D</text>
<line x1="250.20" y1="163.00" x2="250.20" y2="268.40" stroke="#000" stroke-width="1.3" />
<line x1="249.60" y1="267.80" x2="327.70" y2="267.80" stroke="#000" stroke-width="1.3" />
<line x1="246.40" y1="166.00" x2="250.20" y2="166.00" stroke="#000" stroke-width="1.1" />
<text x="244.20" y="168.40" font-size="6.8" text-anchor="end" font-weight="normal" fill="#222" >100</text>
<line x1="246.40" y1="200.00" x2="250.20" y2="200.00" stroke="#000" stroke-width="1.1" />
<text x="244.20" y="202.40" font-size="6.8" text-anchor="end" font-weight="normal" fill="#222" >10</text>
<line x1="246.40" y1="234.00" x2="250.20" y2="234.00" stroke="#000" stroke-width="1.1" />
<text x="244.20" y="236.40" font-size="6.8" text-anchor="end" font-weight="normal" fill="#222" >1</text>
<line x1="246.40" y1="267.80" x2="250.20" y2="267.80" stroke="#000" stroke-width="1.1" />
<text x="244.20" y="270.20" font-size="6.8" text-anchor="end" font-weight="normal" fill="#222" >0.1</text>
<text x="226.60" y="215.60" font-size="8.6" text-anchor="middle" font-weight="bold" fill="#222" textLength="73.5" lengthAdjust="spacingAndGlyphs" transform="rotate(-90 226.60 215.60)" class="cb">HLADR MFI (fold change)</text>
<line x1="255.50" y1="166.30" x2="289.30" y2="166.30" stroke="#222" stroke-width="1.1" />
<line x1="255.50" y1="163.80" x2="255.50" y2="168.80" stroke="#222" stroke-width="1.1" />
<line x1="289.30" y1="163.80" x2="289.30" y2="168.80" stroke="#222" stroke-width="1.1" />
<text x="272.40" y="161.80" font-size="6.6" text-anchor="middle" font-weight="normal" fill="#222" >Fit</text>
<line x1="294.50" y1="166.30" x2="328.60" y2="166.30" stroke="#222" stroke-width="1.1" />
<line x1="294.50" y1="163.80" x2="294.50" y2="168.80" stroke="#222" stroke-width="1.1" />
<line x1="328.60" y1="163.80" x2="328.60" y2="168.80" stroke="#222" stroke-width="1.1" />
<text x="311.55" y="161.80" font-size="6.6" text-anchor="middle" font-weight="normal" fill="#222" >Senescent</text>
<circle cx="298.1" cy="233.6" r="2.2" fill="none" stroke="#2a3d66" stroke-width="1.2"/>
<circle cx="317.5" cy="228.3" r="2.2" fill="none" stroke="#2a3d66" stroke-width="1.2"/>
<circle cx="317.5" cy="229.9" r="2.2" fill="none" stroke="#2a3d66" stroke-width="1.2"/>
<circle cx="317.5" cy="231.3" r="2.2" fill="none" stroke="#2a3d66" stroke-width="1.2"/>
<circle cx="317.5" cy="232.4" r="2.2" fill="none" stroke="#2a3d66" stroke-width="1.2"/>
<line x1="260.00" y1="233.70" x2="279.10" y2="182.50" stroke="#000" stroke-width="1.3" />
<line x1="260.00" y1="233.70" x2="279.10" y2="209.50" stroke="#000" stroke-width="1.3" />
<line x1="298.10" y1="233.60" x2="317.40" y2="228.60" stroke="#000" stroke-width="1.3" />
<line x1="298.10" y1="233.60" x2="317.40" y2="232.20" stroke="#000" stroke-width="1.3" />
<line x1="298.10" y1="233.60" x2="317.40" y2="230.30" stroke="#000" stroke-width="1.3" />
<circle cx="260.0" cy="233.7" r="2.9" fill="#a30226"/>
<circle cx="279.1" cy="182.5" r="2.9" fill="#a30226"/>
<circle cx="279.1" cy="209.5" r="2.9" fill="#a30226"/>
<line x1="260.00" y1="267.80" x2="260.00" y2="270.60" stroke="#000" stroke-width="1.0" />
<text x="262.30" y="273.00" font-size="6.4" text-anchor="end" font-weight="normal" fill="#333" transform="rotate(-90 262.30 273.00)" >-IFN&#947;</text>
<line x1="279.10" y1="267.80" x2="279.10" y2="270.60" stroke="#000" stroke-width="1.0" />
<text x="281.40" y="273.00" font-size="6.4" text-anchor="end" font-weight="normal" fill="#333" transform="rotate(-90 281.40 273.00)" >+IFN&#947;</text>
<line x1="298.10" y1="267.80" x2="298.10" y2="270.60" stroke="#000" stroke-width="1.0" />
<text x="300.40" y="273.00" font-size="6.4" text-anchor="end" font-weight="normal" fill="#333" transform="rotate(-90 300.40 273.00)" >-IFN&#947;</text>
<line x1="317.40" y1="267.80" x2="317.40" y2="270.60" stroke="#000" stroke-width="1.0" />
<text x="319.70" y="273.00" font-size="6.4" text-anchor="end" font-weight="normal" fill="#333" transform="rotate(-90 319.70 273.00)" >+IFN&#947;</text>
<text x="347.60" y="156.60" font-size="12.2" text-anchor="start" font-weight="bold" fill="#000" stroke="#000" stroke-width="0.45">E</text>
<line x1="398.80" y1="189.00" x2="398.80" y2="268.40" stroke="#000" stroke-width="1.3" />
<line x1="398.20" y1="267.80" x2="512.20" y2="267.80" stroke="#000" stroke-width="1.4" />
<line x1="395.00" y1="192.00" x2="398.80" y2="192.00" stroke="#000" stroke-width="1.1" />
<text x="382.0" y="194.40" font-size="6.6" fill="#222">10<tspan font-size="4.4" dy="-2.8">4</tspan></text>
<line x1="395.00" y1="207.00" x2="398.80" y2="207.00" stroke="#000" stroke-width="1.1" />
<text x="382.0" y="209.40" font-size="6.6" fill="#222">10<tspan font-size="4.4" dy="-2.8">3</tspan></text>
<line x1="395.00" y1="222.20" x2="398.80" y2="222.20" stroke="#000" stroke-width="1.1" />
<text x="382.0" y="224.60" font-size="6.6" fill="#222">10<tspan font-size="4.4" dy="-2.8">2</tspan></text>
<line x1="395.00" y1="237.20" x2="398.80" y2="237.20" stroke="#000" stroke-width="1.1" />
<text x="382.0" y="239.60" font-size="6.6" fill="#222">10<tspan font-size="4.4" dy="-2.8">1</tspan></text>
<line x1="395.00" y1="252.40" x2="398.80" y2="252.40" stroke="#000" stroke-width="1.1" />
<text x="382.0" y="254.80" font-size="6.6" fill="#222">10<tspan font-size="4.4" dy="-2.8">0</tspan></text>
<line x1="395.00" y1="267.60" x2="398.80" y2="267.60" stroke="#000" stroke-width="1.1" />
<text x="382.0" y="270.00" font-size="6.6" fill="#222">10<tspan font-size="4.4" dy="-2.8">-1</tspan></text>
<line x1="412.50" y1="267.80" x2="412.50" y2="270.60" stroke="#000" stroke-width="1.0" />
<text x="412.50" y="280.60" font-size="6.8" text-anchor="middle" font-weight="normal" fill="#222" >0</text>
<line x1="440.00" y1="267.80" x2="440.00" y2="270.60" stroke="#000" stroke-width="1.0" />
<text x="440.00" y="280.60" font-size="6.8" text-anchor="middle" font-weight="normal" fill="#222" >0.5</text>
<line x1="469.50" y1="267.80" x2="469.50" y2="270.60" stroke="#000" stroke-width="1.0" />
<text x="469.50" y="280.60" font-size="6.8" text-anchor="middle" font-weight="normal" fill="#222" >5</text>
<line x1="498.80" y1="267.80" x2="498.80" y2="270.60" stroke="#000" stroke-width="1.0" />
<text x="498.80" y="280.60" font-size="6.8" text-anchor="middle" font-weight="normal" fill="#222" >50</text>
<text x="455.00" y="293.60" font-size="8.8" text-anchor="middle" font-weight="bold" fill="#222" textLength="37.8" lengthAdjust="spacingAndGlyphs" class="cb">IFN&#947; (ng/ml)</text>
<text x="364.50" y="227.60" font-size="8.4" text-anchor="middle" font-weight="bold" fill="#222" textLength="43.0" lengthAdjust="spacingAndGlyphs" transform="rotate(-90 364.50 227.60)" class="cb">HLA-DR mRNA</text>
<text x="374.60" y="228.30" font-size="8.4" text-anchor="middle" font-weight="bold" fill="#222" textLength="61.4" lengthAdjust="spacingAndGlyphs" transform="rotate(-90 374.60 228.30)" class="cb">fold change / GAPDH</text>
<polyline points="412.5,252.4 440.0,230.5 469.5,230.5 498.8,239.5" fill="none" stroke="#000" stroke-width="1.4"/>
<polyline points="412.5,252.4 440.0,227.5 469.5,206.3 498.8,198.8" fill="none" stroke="#000" stroke-width="1.4"/>
<circle cx="412.5" cy="252.4" r="2.9" fill="#a30226"/>
<circle cx="440.0" cy="227.5" r="2.9" fill="#a30226"/>
<circle cx="469.5" cy="206.3" r="2.9" fill="#a30226"/>
<circle cx="498.8" cy="198.8" r="2.9" fill="#a30226"/>
<circle cx="440.0" cy="230.5" r="2.3" fill="none" stroke="#2a3d66" stroke-width="1.2"/>
<circle cx="469.5" cy="230.5" r="2.3" fill="none" stroke="#2a3d66" stroke-width="1.2"/>
<circle cx="498.8" cy="239.5" r="2.3" fill="none" stroke="#2a3d66" stroke-width="1.2"/>
<circle cx="412.5" cy="252.4" r="2.6" fill="#2d4b7d"/>
<line x1="403.00" y1="193.80" x2="412.80" y2="193.80" stroke="#000" stroke-width="1.3" />
<circle cx="408" cy="193.8" r="2.8" fill="#a30226"/>
<text x="415.80" y="196.30" font-size="6.8" text-anchor="start" font-weight="normal" fill="#222" >Fit</text>
<line x1="403.00" y1="202.50" x2="412.80" y2="202.50" stroke="#000" stroke-width="1.3" />
<circle cx="408" cy="202.5" r="2.3" fill="none" stroke="#2a3d66" stroke-width="1.2"/>
<text x="415.80" y="205.00" font-size="6.8" text-anchor="start" font-weight="normal" fill="#222" >Senescent</text>
<text x="218.40" y="320.00" font-size="12.2" text-anchor="start" font-weight="bold" fill="#000" stroke="#000" stroke-width="0.45">F</text>
<path d="M234.40,385.80 L234.40,383.80 L234.90,383.80 L235.40,383.80 L235.90,383.80 L236.40,383.80 L236.90,383.80 L237.40,383.80 L237.90,383.80 L238.40,383.80 L238.90,383.80 L239.40,383.80 L239.90,383.80 L240.40,383.80 L240.90,383.80 L241.40,383.80 L241.90,383.80 L242.40,383.80 L242.90,383.80 L243.40,383.80 L243.90,383.80 L244.40,383.80 L244.90,383.80 L245.40,383.80 L245.90,383.80 L246.40,383.80 L246.90,383.79 L247.40,383.79 L247.90,383.78 L248.40,383.77 L248.90,383.74 L249.40,383.71 L249.90,383.67 L250.40,383.60 L250.90,383.51 L251.40,383.37 L251.90,383.18 L252.40,382.92 L252.90,382.58 L253.40,382.10 L253.90,381.52 L254.40,380.77 L254.90,379.86 L255.40,378.65 L255.90,377.34 L256.40,375.55 L256.90,373.87 L257.40,371.50 L257.90,369.50 L258.40,366.83 L258.90,364.11 L259.40,361.12 L259.90,358.46 L260.40,356.28 L260.90,353.61 L261.40,351.30 L261.90,350.27 L262.40,348.36 L262.90,347.57 L263.40,346.91 L263.90,347.54 L264.40,345.86 L264.90,342.80 L265.40,337.83 L265.90,337.59 L266.40,345.39 L266.90,356.49 L267.40,368.25 L267.90,376.07 L268.40,379.89 L268.90,381.81 L269.40,382.70 L269.90,383.21 L270.40,383.49 L270.90,383.65 L271.40,383.73 L271.90,383.77 L272.40,383.79 L272.90,383.79 L273.40,383.80 L273.90,383.80 L274.40,383.80 L274.90,383.80 L275.40,383.80 L275.90,383.80 L276.40,383.80 L276.90,383.80 L277.40,383.80 L277.90,383.80 L278.40,383.80 L278.90,383.80 L279.40,383.80 L279.90,383.80 L280.40,383.80 L280.90,383.80 L281.40,383.80 L281.90,383.80 L282.40,383.80 L282.90,383.80 L283.40,383.80 L283.90,383.80 L284.40,383.80 L284.90,383.80 L285.40,383.80 L285.90,383.80 L286.40,383.80 L286.90,383.80 L287.40,383.80 L287.90,383.80 L288.40,383.80 L288.90,383.80 L289.40,383.80 L289.90,383.80 L290.40,383.80 L290.90,383.80 L291.40,383.80 L291.90,383.80 L292.40,383.80 L292.90,383.80 L293.40,383.80 L293.90,383.80 L294.40,383.80 L294.90,383.80 L295.40,383.80 L295.90,383.80 L296.40,383.80 L296.90,383.80 L297.40,383.80 L297.90,383.80 L298.40,383.80 L298.90,383.80 L299.40,383.80 L299.90,383.80 L300.40,383.80 L300.90,383.80 L301.40,383.80 L301.90,383.80 L302.40,383.80 L302.90,383.80 L303.40,383.80 L303.90,383.80 L304.40,383.80 L304.90,383.80 L305.40,383.80 L305.90,383.80 L306.40,383.80 L306.90,383.80 L307.40,383.80 L307.90,383.80 L308.20,383.80 L308.20,385.80 Z" fill="#fff" stroke="none"/>
<path d="M234.40,383.80 L234.90,383.80 L235.40,383.80 L235.90,383.80 L236.40,383.80 L236.90,383.80 L237.40,383.80 L237.90,383.80 L238.40,383.80 L238.90,383.80 L239.40,383.80 L239.90,383.80 L240.40,383.80 L240.90,383.80 L241.40,383.80 L241.90,383.80 L242.40,383.80 L242.90,383.80 L243.40,383.80 L243.90,383.80 L244.40,383.80 L244.90,383.80 L245.40,383.80 L245.90,383.80 L246.40,383.80 L246.90,383.79 L247.40,383.79 L247.90,383.78 L248.40,383.77 L248.90,383.74 L249.40,383.71 L249.90,383.67 L250.40,383.60 L250.90,383.51 L251.40,383.37 L251.90,383.18 L252.40,382.92 L252.90,382.58 L253.40,382.10 L253.90,381.52 L254.40,380.77 L254.90,379.86 L255.40,378.65 L255.90,377.34 L256.40,375.55 L256.90,373.87 L257.40,371.50 L257.90,369.50 L258.40,366.83 L258.90,364.11 L259.40,361.12 L259.90,358.46 L260.40,356.28 L260.90,353.61 L261.40,351.30 L261.90,350.27 L262.40,348.36 L262.90,347.57 L263.40,346.91 L263.90,347.54 L264.40,345.86 L264.90,342.80 L265.40,337.83 L265.90,337.59 L266.40,345.39 L266.90,356.49 L267.40,368.25 L267.90,376.07 L268.40,379.89 L268.90,381.81 L269.40,382.70 L269.90,383.21 L270.40,383.49 L270.90,383.65 L271.40,383.73 L271.90,383.77 L272.40,383.79 L272.90,383.79 L273.40,383.80 L273.90,383.80 L274.40,383.80 L274.90,383.80 L275.40,383.80 L275.90,383.80 L276.40,383.80 L276.90,383.80 L277.40,383.80 L277.90,383.80 L278.40,383.80 L278.90,383.80 L279.40,383.80 L279.90,383.80 L280.40,383.80 L280.90,383.80 L281.40,383.80 L281.90,383.80 L282.40,383.80 L282.90,383.80 L283.40,383.80 L283.90,383.80 L284.40,383.80 L284.90,383.80 L285.40,383.80 L285.90,383.80 L286.40,383.80 L286.90,383.80 L287.40,383.80 L287.90,383.80 L288.40,383.80 L288.90,383.80 L289.40,383.80 L289.90,383.80 L290.40,383.80 L290.90,383.80 L291.40,383.80 L291.90,383.80 L292.40,383.80 L292.90,383.80 L293.40,383.80 L293.90,383.80 L294.40,383.80 L294.90,383.80 L295.40,383.80 L295.90,383.80 L296.40,383.80 L296.90,383.80 L297.40,383.80 L297.90,383.80 L298.40,383.80 L298.90,383.80 L299.40,383.80 L299.90,383.80 L300.40,383.80 L300.90,383.80 L301.40,383.80 L301.90,383.80 L302.40,383.80 L302.90,383.80 L303.40,383.80 L303.90,383.80 L304.40,383.80 L304.90,383.80 L305.40,383.80 L305.90,383.80 L306.40,383.80 L306.90,383.80 L307.40,383.80 L307.90,383.80 L308.20,383.80" fill="none" stroke="#93203f" stroke-width="1.1" stroke-linejoin="round"/>
<line x1="234.40" y1="383.80" x2="308.20" y2="383.80" stroke="#93203f" stroke-width="1.0" />
<line x1="234.40" y1="392.30" x2="308.20" y2="392.30" stroke="#b8b8b8" stroke-width="0.7" />
<path d="M234.40,392.30 L234.40,392.30 L234.90,392.30 L235.40,392.30 L235.90,392.30 L236.40,392.30 L236.90,392.30 L237.40,392.30 L237.90,392.30 L238.40,392.30 L238.90,392.30 L239.40,392.30 L239.90,392.30 L240.40,392.30 L240.90,392.30 L241.40,392.30 L241.90,392.30 L242.40,392.30 L242.90,392.30 L243.40,392.30 L243.90,392.30 L244.40,392.29 L244.90,392.29 L245.40,392.28 L245.90,392.27 L246.40,392.26 L246.90,392.24 L247.40,392.21 L247.90,392.16 L248.40,392.10 L248.90,392.00 L249.40,391.88 L249.90,391.71 L250.40,391.48 L250.90,391.14 L251.40,390.78 L251.90,390.27 L252.40,389.65 L252.90,388.93 L253.40,388.03 L253.90,386.73 L254.40,385.28 L254.90,383.45 L255.40,381.88 L255.90,379.13 L256.40,377.70 L256.90,374.42 L257.40,372.63 L257.90,369.48 L258.40,366.76 L258.90,361.88 L259.40,359.64 L259.90,357.22 L260.40,353.81 L260.90,351.33 L261.40,351.45 L261.90,348.57 L262.40,349.81 L262.90,348.25 L263.40,349.72 L263.90,355.36 L264.40,360.39 L264.90,366.83 L265.40,374.27 L265.90,378.97 L266.40,383.92 L266.90,387.08 L267.40,389.28 L267.90,390.65 L268.40,391.44 L268.90,391.89 L269.40,392.11 L269.90,392.22 L270.40,392.27 L270.90,392.29 L271.40,392.30 L271.90,392.30 L272.40,392.30 L272.90,392.30 L273.40,392.30 L273.90,392.30 L274.40,392.30 L274.90,392.30 L275.40,392.30 L275.90,392.30 L276.40,392.30 L276.90,392.30 L277.40,392.30 L277.90,392.30 L278.40,392.30 L278.90,392.30 L279.40,392.30 L279.90,392.30 L280.40,392.30 L280.90,392.30 L281.40,392.30 L281.90,392.30 L282.40,392.30 L282.90,392.30 L283.40,392.30 L283.90,392.30 L284.40,392.30 L284.90,392.30 L285.40,392.30 L285.90,392.30 L286.40,392.30 L286.90,392.30 L287.40,392.30 L287.90,392.30 L288.40,392.30 L288.90,392.30 L289.40,392.30 L289.90,392.30 L290.40,392.30 L290.90,392.30 L291.40,392.30 L291.90,392.30 L292.40,392.30 L292.90,392.30 L293.40,392.30 L293.90,392.30 L294.40,392.30 L294.90,392.30 L295.40,392.30 L295.90,392.30 L296.40,392.30 L296.90,392.30 L297.40,392.30 L297.90,392.30 L298.40,392.30 L298.90,392.30 L299.40,392.30 L299.90,392.30 L300.40,392.30 L300.90,392.30 L301.40,392.30 L301.90,392.30 L302.40,392.30 L302.90,392.30 L303.40,392.30 L303.90,392.30 L304.40,392.30 L304.90,392.30 L305.40,392.30 L305.90,392.30 L306.40,392.30 L306.90,392.30 L307.40,392.30 L307.90,392.30 L308.20,392.30 L308.20,392.30 Z" fill="#532368" stroke="none"/>
<line x1="234.40" y1="401.50" x2="308.20" y2="401.50" stroke="#b8b8b8" stroke-width="0.7" />
<path d="M234.40,401.50 L234.40,401.50 L234.90,401.50 L235.40,401.50 L235.90,401.50 L236.40,401.50 L236.90,401.50 L237.40,401.50 L237.90,401.50 L238.40,401.50 L238.90,401.50 L239.40,401.50 L239.90,401.50 L240.40,401.50 L240.90,401.50 L241.40,401.50 L241.90,401.50 L242.40,401.50 L242.90,401.50 L243.40,401.50 L243.90,401.50 L244.40,401.50 L244.90,401.50 L245.40,401.50 L245.90,401.50 L246.40,401.50 L246.90,401.50 L247.40,401.50 L247.90,401.50 L248.40,401.50 L248.90,401.50 L249.40,401.50 L249.90,401.50 L250.40,401.50 L250.90,401.50 L251.40,401.50 L251.90,401.50 L252.40,401.50 L252.90,401.50 L253.40,401.49 L253.90,401.49 L254.40,401.49 L254.90,401.49 L255.40,401.48 L255.90,401.48 L256.40,401.47 L256.90,401.47 L257.40,401.46 L257.90,401.45 L258.40,401.43 L258.90,401.42 L259.40,401.40 L259.90,401.37 L260.40,401.34 L260.90,401.30 L261.40,401.26 L261.90,401.20 L262.40,401.13 L262.90,401.05 L263.40,400.95 L263.90,400.84 L264.40,400.70 L264.90,400.53 L265.40,400.39 L265.90,400.04 L266.40,399.89 L266.90,399.42 L267.40,399.05 L267.90,398.80 L268.40,398.24 L268.90,397.72 L269.40,397.08 L269.90,396.16 L270.40,395.30 L270.90,394.74 L271.40,393.50 L271.90,392.22 L272.40,391.02 L272.90,390.17 L273.40,388.34 L273.90,386.56 L274.40,384.06 L274.90,382.27 L275.40,380.50 L275.90,379.25 L276.40,375.46 L276.90,375.04 L277.40,372.50 L277.90,370.84 L278.40,367.21 L278.90,364.31 L279.40,362.62 L279.90,360.32 L280.40,359.34 L280.90,358.52 L281.40,360.18 L281.90,358.69 L282.40,360.84 L282.90,364.54 L283.40,366.64 L283.90,370.20 L284.40,373.42 L284.90,376.85 L285.40,379.71 L285.90,382.75 L286.40,386.21 L286.90,387.46 L287.40,390.15 L287.90,391.67 L288.40,393.08 L288.90,394.80 L289.40,396.12 L289.90,396.98 L290.40,397.72 L290.90,398.47 L291.40,399.04 L291.90,399.56 L292.40,399.99 L292.90,400.35 L293.40,400.60 L293.90,400.81 L294.40,400.97 L294.90,401.09 L295.40,401.19 L295.90,401.27 L296.40,401.32 L296.90,401.37 L297.40,401.40 L297.90,401.43 L298.40,401.45 L298.90,401.46 L299.40,401.47 L299.90,401.48 L300.40,401.49 L300.90,401.49 L301.40,401.49 L301.90,401.49 L302.40,401.50 L302.90,401.50 L303.40,401.50 L303.90,401.50 L304.40,401.50 L304.90,401.50 L305.40,401.50 L305.90,401.50 L306.40,401.50 L306.90,401.50 L307.40,401.50 L307.90,401.50 L308.20,401.50 L308.20,401.50 Z" fill="#2d4b7d" stroke="none"/>
<path d="M234.40,410.30 L234.40,410.30 L234.90,410.30 L235.40,410.30 L235.90,410.30 L236.40,410.30 L236.90,410.30 L237.40,410.30 L237.90,410.30 L238.40,410.30 L238.90,410.30 L239.40,410.30 L239.90,410.30 L240.40,410.30 L240.90,410.30 L241.40,410.30 L241.90,410.30 L242.40,410.30 L242.90,410.30 L243.40,410.30 L243.90,410.30 L244.40,410.30 L244.90,410.30 L245.40,410.30 L245.90,410.30 L246.40,410.30 L246.90,410.30 L247.40,410.30 L247.90,410.30 L248.40,410.30 L248.90,410.30 L249.40,410.30 L249.90,410.30 L250.40,410.30 L250.90,410.30 L251.40,410.30 L251.90,410.30 L252.40,410.30 L252.90,410.30 L253.40,410.30 L253.90,410.30 L254.40,410.29 L254.90,410.28 L255.40,410.26 L255.90,410.23 L256.40,410.16 L256.90,410.04 L257.40,409.83 L257.90,409.48 L258.40,408.97 L258.90,408.08 L259.40,406.69 L259.90,405.08 L260.40,402.89 L260.90,399.47 L261.40,396.22 L261.90,391.48 L262.40,387.55 L262.90,381.34 L263.40,378.91 L263.90,374.20 L264.40,368.70 L264.90,370.43 L265.40,368.93 L265.90,370.77 L266.40,372.08 L266.90,374.44 L267.40,376.95 L267.90,381.27 L268.40,387.17 L268.90,390.27 L269.40,394.57 L269.90,398.25 L270.40,400.68 L270.90,402.76 L271.40,404.33 L271.90,405.23 L272.40,406.19 L272.90,407.00 L273.40,407.17 L273.90,407.45 L274.40,407.55 L274.90,407.41 L275.40,407.63 L275.90,407.43 L276.40,407.37 L276.90,407.60 L277.40,407.50 L277.90,407.34 L278.40,407.52 L278.90,407.38 L279.40,407.34 L279.90,407.04 L280.40,406.95 L280.90,406.86 L281.40,406.95 L281.90,406.99 L282.40,406.80 L282.90,407.19 L283.40,407.44 L283.90,407.79 L284.40,407.96 L284.90,408.40 L285.40,408.78 L285.90,409.08 L286.40,409.26 L286.90,409.45 L287.40,409.60 L287.90,409.72 L288.40,409.82 L288.90,409.90 L289.40,409.97 L289.90,410.02 L290.40,410.07 L290.90,410.11 L291.40,410.14 L291.90,410.17 L292.40,410.20 L292.90,410.22 L293.40,410.23 L293.90,410.25 L294.40,410.26 L294.90,410.27 L295.40,410.27 L295.90,410.28 L296.40,410.28 L296.90,410.29 L297.40,410.29 L297.90,410.29 L298.40,410.30 L298.90,410.30 L299.40,410.30 L299.90,410.30 L300.40,410.30 L300.90,410.30 L301.40,410.30 L301.90,410.30 L302.40,410.30 L302.90,410.30 L303.40,410.30 L303.90,410.30 L304.40,410.30 L304.90,410.30 L305.40,410.30 L305.90,410.30 L306.40,410.30 L306.90,410.30 L307.40,410.30 L307.90,410.30 L308.20,410.30 L308.20,410.30 Z" fill="#69aa3c" stroke="none"/>
<rect x="233.80" y="336.30" width="75.00" height="74.50" fill="none" stroke="#000" stroke-width="1.1" />
<path d="M234.36,411.30 v2.80 M235.25,411.30 v2.80 M236.05,411.30 v3.40 M241.30,411.30 v2.80 M244.37,411.30 v2.80 M246.55,411.30 v2.80 M248.24,411.30 v2.80 M249.62,411.30 v2.80 M250.79,411.30 v2.80 M251.80,411.30 v2.80 M252.69,411.30 v2.80 M253.49,411.30 v3.40 M258.74,411.30 v2.80 M261.81,411.30 v2.80 M263.99,411.30 v2.80 M265.68,411.30 v2.80 M267.06,411.30 v2.80 M268.23,411.30 v2.80 M269.24,411.30 v2.80 M270.14,411.30 v2.80 M270.93,411.30 v3.40 M276.18,411.30 v2.80 M279.26,411.30 v2.80 M281.43,411.30 v2.80 M283.13,411.30 v2.80 M284.51,411.30 v2.80 M285.67,411.30 v2.80 M286.69,411.30 v2.80 M287.58,411.30 v2.80 M288.38,411.30 v3.40 M293.63,411.30 v2.80 M296.70,411.30 v2.80 M298.88,411.30 v2.80 M300.57,411.30 v2.80 M301.95,411.30 v2.80 M303.12,411.30 v2.80 M304.13,411.30 v2.80 M305.02,411.30 v2.80 M305.82,411.30 v3.40" stroke="#000" stroke-width="1.05" fill="none"/>
<text x="292.50" y="348.30" font-size="6.8" text-anchor="start" font-weight="normal" fill="#222" >NS</text>
<text x="292.50" y="365.00" font-size="6.8" text-anchor="start" font-weight="normal" fill="#222" >Isotype</text>
<text x="292.50" y="383.20" font-size="6.8" text-anchor="start" font-weight="normal" fill="#222" >Cont siRNA</text>
<text x="292.50" y="402.60" font-size="6.8" text-anchor="start" font-weight="normal" fill="#222" >HLADR siRNA</text>
<text x="271.50" y="425.80" font-size="9.4" text-anchor="middle" font-weight="bold" fill="#222" textLength="20.0" lengthAdjust="spacingAndGlyphs" >HLADR</text>
<text x="344.40" y="319.80" font-size="12.2" text-anchor="start" font-weight="bold" fill="#000" stroke="#000" stroke-width="0.45">G</text>
<line x1="396.30" y1="334.60" x2="396.30" y2="412.10" stroke="#000" stroke-width="1.3" />
<line x1="395.70" y1="411.50" x2="508.00" y2="411.50" stroke="#000" stroke-width="1.3" />
<line x1="392.50" y1="411.50" x2="396.30" y2="411.50" stroke="#000" stroke-width="1.1" />
<text x="389.80" y="414.10" font-size="7.4" text-anchor="end" font-weight="normal" fill="#222" >0</text>
<line x1="392.50" y1="396.50" x2="396.30" y2="396.50" stroke="#000" stroke-width="1.1" />
<text x="389.80" y="399.10" font-size="7.4" text-anchor="end" font-weight="normal" fill="#222" >1000</text>
<line x1="392.50" y1="381.50" x2="396.30" y2="381.50" stroke="#000" stroke-width="1.1" />
<text x="389.80" y="384.10" font-size="7.4" text-anchor="end" font-weight="normal" fill="#222" >2000</text>
<line x1="392.50" y1="366.50" x2="396.30" y2="366.50" stroke="#000" stroke-width="1.1" />
<text x="389.80" y="369.10" font-size="7.4" text-anchor="end" font-weight="normal" fill="#222" >3000</text>
<line x1="392.50" y1="351.50" x2="396.30" y2="351.50" stroke="#000" stroke-width="1.1" />
<text x="389.80" y="354.10" font-size="7.4" text-anchor="end" font-weight="normal" fill="#222" >4000</text>
<line x1="392.50" y1="336.50" x2="396.30" y2="336.50" stroke="#000" stroke-width="1.1" />
<text x="389.80" y="339.10" font-size="7.4" text-anchor="end" font-weight="normal" fill="#222" >5000</text>
<text x="367.80" y="372.90" font-size="9.0" text-anchor="middle" font-weight="bold" fill="#222" textLength="78.3" lengthAdjust="spacingAndGlyphs" transform="rotate(-90 367.80 372.90)" class="cb">Mean fluorescence intensity</text>
<line x1="407.50" y1="407.20" x2="407.50" y2="408.70" stroke="#000" stroke-width="1.0" />
<line x1="403.70" y1="407.20" x2="411.30" y2="407.20" stroke="#111" stroke-width="1.5" />
<rect x="400.00" y="407.70" width="15.00" height="3.80" fill="#a30226" stroke="#86001f" stroke-width="0.7" />
<line x1="407.50" y1="411.50" x2="407.50" y2="414.50" stroke="#000" stroke-width="1.0" />
<line x1="430.00" y1="406.50" x2="430.00" y2="408.10" stroke="#000" stroke-width="1.0" />
<line x1="426.20" y1="406.50" x2="433.80" y2="406.50" stroke="#111" stroke-width="1.5" />
<rect x="422.50" y="407.10" width="15.00" height="4.40" fill="#a30226" stroke="#86001f" stroke-width="0.7" />
<line x1="430.00" y1="411.50" x2="430.00" y2="414.50" stroke="#000" stroke-width="1.0" />
<line x1="452.50" y1="405.70" x2="452.50" y2="407.30" stroke="#000" stroke-width="1.0" />
<line x1="448.70" y1="405.70" x2="456.30" y2="405.70" stroke="#111" stroke-width="1.5" />
<rect x="445.00" y="406.30" width="15.00" height="5.20" fill="#a30226" stroke="#86001f" stroke-width="0.7" />
<line x1="452.50" y1="411.50" x2="452.50" y2="414.50" stroke="#000" stroke-width="1.0" />
<line x1="475.00" y1="341.30" x2="475.00" y2="345.20" stroke="#000" stroke-width="1.0" />
<line x1="471.20" y1="341.30" x2="478.80" y2="341.30" stroke="#111" stroke-width="1.5" />
<rect x="467.50" y="344.20" width="15.00" height="67.30" fill="#a30226" stroke="#86001f" stroke-width="0.7" />
<line x1="475.00" y1="411.50" x2="475.00" y2="414.50" stroke="#000" stroke-width="1.0" />
<line x1="497.50" y1="394.60" x2="497.50" y2="399.00" stroke="#000" stroke-width="1.0" />
<line x1="493.70" y1="394.60" x2="501.30" y2="394.60" stroke="#111" stroke-width="1.5" />
<rect x="490.00" y="398.00" width="15.00" height="13.50" fill="#a30226" stroke="#86001f" stroke-width="0.7" />
<line x1="497.50" y1="411.50" x2="497.50" y2="414.50" stroke="#000" stroke-width="1.0" />
<line x1="416.20" y1="327.90" x2="507.10" y2="327.90" stroke="#222" stroke-width="1.3" />
<line x1="416.20" y1="325.40" x2="416.20" y2="330.40" stroke="#222" stroke-width="1.3" />
<line x1="507.10" y1="325.40" x2="507.10" y2="330.40" stroke="#222" stroke-width="1.3" />
<text x="461.80" y="325.20" font-size="7.6" text-anchor="middle" font-weight="normal" fill="#222" >+IFN&#947;</text>
<text x="409.80" y="418.20" font-size="6.9" text-anchor="end" font-weight="normal" fill="#222" transform="rotate(-90 409.80 418.20)" >No Stim</text>
<text x="432.30" y="418.20" font-size="6.9" text-anchor="end" font-weight="normal" fill="#222" transform="rotate(-90 432.30 418.20)" >Cont siRNA</text>
<text x="454.80" y="418.20" font-size="6.9" text-anchor="end" font-weight="normal" fill="#222" transform="rotate(-90 454.80 418.20)" >HLADR siRNA</text>
<text x="477.30" y="418.20" font-size="6.9" text-anchor="end" font-weight="normal" fill="#222" transform="rotate(-90 477.30 418.20)" >Cont siRNA</text>
<text x="499.80" y="418.20" font-size="6.9" text-anchor="end" font-weight="normal" fill="#222" transform="rotate(-90 499.80 418.20)" >HLADR siRNA</text>
<line x1="425.60" y1="467.00" x2="456.10" y2="467.00" stroke="#222" stroke-width="1.4" />
<line x1="425.60" y1="464.50" x2="425.60" y2="469.50" stroke="#222" stroke-width="1.4" />
<line x1="456.10" y1="464.50" x2="456.10" y2="469.50" stroke="#222" stroke-width="1.4" />
<text x="440.85" y="478.50" font-size="9.8" text-anchor="middle" font-weight="bold" fill="#222" textLength="22.5" lengthAdjust="spacingAndGlyphs" >Isotype</text>
<line x1="471.70" y1="467.00" x2="503.00" y2="467.00" stroke="#222" stroke-width="1.4" />
<line x1="471.70" y1="464.50" x2="471.70" y2="469.50" stroke="#222" stroke-width="1.4" />
<line x1="503.00" y1="464.50" x2="503.00" y2="469.50" stroke="#222" stroke-width="1.4" />
<text x="487.05" y="478.50" font-size="9.8" text-anchor="middle" font-weight="bold" fill="#222" textLength="22.5" lengthAdjust="spacingAndGlyphs" >HLADR</text>
<text x="217.60" y="488.50" font-size="12.2" text-anchor="start" font-weight="bold" fill="#000" stroke="#000" stroke-width="0.45">H</text>
<text x="274.60" y="510.40" font-size="6.8" text-anchor="middle" font-weight="normal" fill="#222" >No MSC</text>
<text x="351.60" y="501.20" font-size="6.8" text-anchor="middle" font-weight="normal" fill="#222" >Control</text>
<text x="351.60" y="509.40" font-size="6.8" text-anchor="middle" font-weight="normal" fill="#222" >MSC</text>
<text x="428.40" y="501.20" font-size="6.8" text-anchor="middle" font-weight="normal" fill="#222" >HLADR KO</text>
<text x="428.40" y="509.40" font-size="6.8" text-anchor="middle" font-weight="normal" fill="#222" >MSC</text>
<rect x="277.55" y="537.41" width="0.6" height="0.6" fill="#444"/>
<rect x="289.51" y="527.34" width="0.6" height="0.6" fill="#444"/>
<rect x="284.41" y="530.64" width="0.6" height="0.6" fill="#444"/>
<rect x="287.38" y="536.41" width="0.6" height="0.6" fill="#444"/>
<rect x="276.78" y="523.48" width="0.6" height="0.6" fill="#444"/>
<rect x="290.88" y="530.36" width="0.6" height="0.6" fill="#444"/>
<rect x="289.48" y="523.04" width="0.6" height="0.6" fill="#444"/>
<rect x="283.46" y="535.27" width="0.6" height="0.6" fill="#444"/>
<rect x="279.35" y="539.07" width="0.6" height="0.6" fill="#444"/>
<rect x="292.13" y="523.52" width="0.6" height="0.6" fill="#444"/>
<rect x="275.48" y="532.20" width="0.6" height="0.6" fill="#444"/>
<rect x="292.84" y="529.48" width="0.6" height="0.6" fill="#444"/>
<rect x="279.12" y="530.18" width="0.6" height="0.6" fill="#444"/>
<rect x="275.55" y="526.77" width="0.6" height="0.6" fill="#444"/>
<rect x="283.32" y="531.43" width="0.6" height="0.6" fill="#444"/>
<rect x="279.43" y="526.92" width="0.6" height="0.6" fill="#444"/>
<rect x="279.16" y="530.81" width="0.6" height="0.6" fill="#444"/>
<rect x="280.51" y="523.37" width="0.6" height="0.6" fill="#444"/>
<rect x="290.91" y="532.46" width="0.6" height="0.6" fill="#444"/>
<rect x="287.20" y="526.16" width="0.6" height="0.6" fill="#444"/>
<rect x="293.86" y="537.62" width="0.6" height="0.6" fill="#444"/>
<rect x="277.30" y="528.66" width="0.6" height="0.6" fill="#444"/>
<rect x="288.71" y="535.09" width="0.6" height="0.6" fill="#444"/>
<rect x="292.79" y="530.18" width="0.6" height="0.6" fill="#444"/>
<rect x="290.77" y="534.40" width="0.6" height="0.6" fill="#444"/>
<rect x="280.76" y="532.99" width="0.6" height="0.6" fill="#444"/>
<path d="M291.44,566.50 L291.07,568.54 L291.51,570.89 L290.37,572.51 L289.66,574.30 L288.60,575.64 L287.47,576.75 L286.61,578.61 L285.30,579.41 L283.99,580.63 L282.50,580.82 L280.95,581.15 L279.61,579.85 L278.46,578.38 L277.38,577.08 L275.93,576.35 L275.76,573.85 L274.63,572.52 L274.21,570.54 L274.62,568.37 L273.42,566.50 L274.36,564.57 L273.39,562.06 L273.82,559.87 L275.20,558.54 L275.60,556.15 L276.79,554.72 L278.53,554.81 L279.63,553.26 L281.20,554.15 L282.50,552.66 L283.88,553.43 L285.34,553.37 L286.15,555.75 L287.53,556.11 L288.99,556.76 L290.08,558.24 L290.47,560.41 L291.98,561.88 L292.27,564.18 Z" fill="rgb(255,255,255)" stroke="#222" stroke-width="0.35" stroke-linejoin="round"/>
<path d="M290.37,566.67 L290.66,568.59 L289.99,570.29 L289.58,572.02 L288.68,573.31 L287.78,574.44 L286.69,575.09 L285.84,576.15 L284.96,577.38 L283.89,578.42 L282.67,578.41 L281.39,578.94 L280.17,578.34 L278.86,578.05 L277.90,576.66 L277.24,574.92 L276.74,573.22 L276.35,571.57 L276.07,569.93 L275.14,568.48 L275.02,566.67 L275.13,564.85 L275.83,563.28 L275.65,561.22 L276.56,559.91 L276.75,557.66 L277.85,556.58 L278.93,555.50 L280.20,555.10 L281.47,555.17 L282.67,554.70 L283.89,554.92 L284.85,556.44 L285.95,556.86 L287.12,557.34 L288.08,558.42 L288.81,559.88 L289.61,561.28 L290.66,562.71 L290.41,564.80 Z" fill="none" stroke="#222" stroke-width="0.35" stroke-linejoin="round"/>
<path d="M289.58,566.83 L289.27,568.42 L289.30,570.10 L288.50,571.31 L288.13,572.81 L287.15,573.53 L286.53,574.73 L285.63,575.36 L284.74,575.95 L283.77,575.98 L282.83,576.25 L281.87,576.25 L280.87,576.22 L279.78,576.13 L279.07,574.87 L278.27,573.92 L277.54,572.80 L277.34,571.18 L277.02,569.77 L276.97,568.28 L276.71,566.83 L277.10,565.42 L276.77,563.77 L277.25,562.42 L277.59,560.92 L278.22,559.67 L278.95,558.54 L279.69,557.26 L280.72,556.72 L281.78,556.52 L282.83,557.30 L283.82,557.15 L284.81,557.41 L285.61,558.37 L286.37,559.27 L287.18,560.08 L287.67,561.37 L288.57,562.30 L289.12,563.66 L289.08,565.30 Z" fill="none" stroke="#222" stroke-width="0.35" stroke-linejoin="round"/>
<path d="M288.01,567.00 L287.77,568.21 L287.61,569.39 L287.35,570.54 L286.96,571.60 L286.38,572.40 L285.84,573.26 L285.34,574.36 L284.60,574.90 L283.83,575.42 L283.00,575.58 L282.19,575.14 L281.41,574.85 L280.75,574.08 L280.06,573.47 L279.56,572.51 L279.21,571.40 L278.76,570.45 L278.40,569.39 L278.24,568.21 L278.08,567.00 L277.94,565.72 L278.17,564.49 L278.32,563.19 L278.66,561.95 L279.28,561.04 L280.10,560.62 L280.71,559.81 L281.48,559.53 L282.24,559.36 L283.00,559.63 L283.76,559.32 L284.48,559.74 L285.30,559.78 L285.96,560.48 L286.64,561.18 L287.16,562.16 L287.77,563.11 L287.86,564.47 L288.15,565.70 Z" fill="none" stroke="#222" stroke-width="0.35" stroke-linejoin="round"/>
<path d="M290.76,547.42 L290.77,550.36 L290.25,553.15 L290.32,556.72 L289.50,559.53 L288.77,562.80 L287.04,563.17 L286.02,566.02 L284.51,566.12 L283.15,567.31 L281.69,568.15 L280.49,565.85 L279.23,565.16 L277.81,564.87 L276.89,562.65 L276.36,559.81 L275.12,558.32 L274.10,556.09 L274.65,552.39 L273.14,549.92 L273.18,546.50 L273.89,543.25 L274.64,540.27 L274.45,536.21 L276.21,534.68 L277.59,533.22 L278.79,531.69 L279.64,528.31 L281.10,528.04 L282.45,526.64 L283.88,526.43 L285.25,526.96 L286.93,525.98 L287.90,528.73 L289.29,529.82 L290.64,531.41 L291.19,534.63 L292.01,537.38 L291.82,541.03 L291.96,544.23 Z" fill="rgb(255,255,255)" stroke="#333" stroke-width="0.35" stroke-linejoin="round"/>
<path d="M290.75,547.83 L290.68,550.74 L290.06,553.43 L289.56,556.26 L288.57,558.39 L287.65,560.62 L286.68,562.87 L285.33,563.29 L284.12,563.97 L282.92,563.92 L281.76,564.23 L280.35,565.93 L279.22,564.75 L278.05,563.84 L277.31,561.60 L275.86,560.92 L275.70,557.69 L275.01,555.38 L274.11,552.98 L274.59,549.69 L274.98,546.73 L275.29,543.87 L275.70,541.03 L276.45,538.49 L277.68,536.90 L278.63,535.08 L279.38,532.46 L280.49,530.80 L281.70,529.61 L282.97,526.88 L284.37,526.93 L285.49,528.98 L286.79,529.22 L287.62,531.45 L288.88,532.21 L289.19,535.26 L289.57,537.77 L290.03,540.05 L290.79,542.23 L290.70,545.05 Z" fill="rgb(248,248,248)" stroke="#333" stroke-width="0.35" stroke-linejoin="round"/>
<path d="M290.31,548.20 L289.43,550.57 L288.78,552.74 L288.81,555.74 L287.77,557.41 L286.78,558.82 L285.91,560.56 L284.96,562.20 L283.94,564.39 L282.74,565.35 L281.60,564.55 L280.64,563.21 L279.58,562.85 L278.40,562.62 L277.97,560.07 L277.01,558.92 L276.56,556.73 L276.88,553.77 L275.89,552.11 L275.72,549.59 L275.84,546.94 L276.29,544.36 L276.42,541.52 L277.50,539.60 L278.12,537.16 L279.11,535.44 L279.97,533.24 L281.14,532.38 L282.34,532.97 L283.39,532.05 L284.40,532.54 L285.68,530.99 L286.78,531.45 L287.52,533.33 L288.68,533.91 L289.45,535.68 L289.64,538.38 L290.51,540.15 L290.40,542.96 L290.50,545.54 Z" fill="rgb(236,236,236)" stroke="#333" stroke-width="0.35" stroke-linejoin="round"/>
<path d="M288.86,548.45 L288.67,550.59 L287.98,552.40 L287.94,554.98 L287.24,556.86 L286.47,558.62 L285.49,559.55 L284.58,560.53 L283.69,562.90 L282.62,563.65 L281.71,562.28 L280.69,562.54 L280.02,560.97 L279.01,560.79 L278.41,559.23 L278.33,556.77 L277.75,555.40 L277.40,553.59 L277.39,551.47 L276.83,549.53 L277.17,547.22 L277.51,544.98 L277.68,542.54 L278.16,540.19 L279.19,538.79 L280.00,537.15 L280.75,535.03 L281.83,534.71 L282.82,534.56 L283.75,534.17 L284.60,534.79 L285.50,534.73 L286.41,534.89 L287.38,535.15 L287.97,536.65 L288.62,538.03 L289.01,539.91 L289.69,541.50 L289.47,544.00 L289.83,546.13 Z" fill="rgb(218,218,218)" stroke="#333" stroke-width="0.35" stroke-linejoin="round"/>
<path d="M288.02,548.71 L287.92,550.58 L287.82,552.66 L287.18,554.30 L286.59,555.97 L286.12,558.24 L285.22,559.11 L284.35,559.82 L283.50,560.65 L282.65,560.76 L281.95,559.75 L281.28,559.23 L280.53,559.09 L279.90,558.36 L279.28,557.52 L278.62,556.63 L278.19,555.18 L277.70,553.67 L278.04,551.40 L277.92,549.52 L278.18,547.51 L278.32,545.44 L279.14,543.85 L279.76,542.31 L280.31,540.72 L281.00,539.46 L281.74,538.47 L282.48,537.48 L283.25,535.77 L284.09,535.73 L285.00,534.87 L285.79,535.37 L286.40,536.50 L287.38,536.34 L287.85,537.87 L288.29,539.36 L288.51,541.17 L288.58,543.07 L288.23,545.17 L288.36,546.88 Z" fill="rgb(190,190,190)" stroke="#333" stroke-width="0.35" stroke-linejoin="round"/>
<path d="M287.78,549.03 L287.37,550.64 L287.06,552.29 L286.70,553.99 L285.91,554.84 L285.38,556.19 L284.69,556.77 L284.04,557.41 L283.39,558.45 L282.70,558.92 L282.06,558.76 L281.36,558.93 L280.85,558.15 L280.26,557.68 L279.59,557.25 L279.38,555.72 L279.21,554.24 L279.08,552.75 L279.42,550.93 L279.36,549.45 L279.61,547.88 L279.75,546.27 L280.30,544.93 L280.45,543.07 L281.14,542.07 L281.65,540.69 L282.22,539.23 L282.92,538.27 L283.64,538.14 L284.31,538.10 L285.04,537.54 L285.53,538.61 L286.11,538.95 L286.57,539.74 L286.90,540.82 L287.31,541.73 L287.59,542.92 L287.99,544.07 L287.83,545.78 L288.04,547.31 Z" fill="rgb(150,150,150)" stroke="#333" stroke-width="0.35" stroke-linejoin="round"/>
<path d="M286.92,549.23 L286.71,550.62 L286.27,551.83 L285.84,552.96 L285.42,554.09 L284.85,554.59 L284.38,555.45 L283.89,556.33 L283.36,556.82 L282.88,556.59 L282.36,556.89 L281.85,556.94 L281.26,557.11 L280.85,556.54 L280.51,555.72 L280.41,554.45 L280.37,553.21 L280.19,552.16 L280.30,550.81 L280.47,549.51 L280.56,548.22 L280.87,546.97 L281.27,545.86 L281.44,544.40 L281.91,543.40 L282.32,542.14 L282.83,541.06 L283.41,540.84 L283.96,540.47 L284.48,540.38 L285.00,540.25 L285.39,540.80 L285.82,541.12 L286.18,541.69 L286.37,542.68 L286.73,543.28 L286.85,544.35 L287.06,545.33 L287.24,546.47 L287.19,547.83 Z" fill="rgb(95,95,95)" stroke="#333" stroke-width="0.35" stroke-linejoin="round"/>
<path d="M286.02,549.39 L285.82,550.42 L285.54,551.38 L285.31,552.45 L284.93,553.23 L284.53,553.77 L284.16,554.42 L283.78,554.70 L283.42,554.89 L283.09,554.86 L282.75,554.96 L282.35,555.26 L282.02,555.11 L281.76,554.66 L281.48,554.25 L281.34,553.49 L281.32,552.54 L281.32,551.60 L281.38,550.62 L281.44,549.64 L281.65,548.62 L281.88,547.65 L282.13,546.72 L282.47,545.96 L282.76,545.12 L283.09,544.37 L283.43,543.43 L283.82,542.78 L284.22,542.54 L284.62,542.25 L284.95,542.47 L285.33,542.41 L285.59,542.88 L285.81,543.41 L285.94,544.14 L286.07,544.85 L286.03,545.82 L286.19,546.49 L286.14,547.43 L286.19,548.36 Z" fill="rgb(45,45,45)" stroke="#333" stroke-width="0.35" stroke-linejoin="round"/>
<rect x="274.70" y="521.30" width="21.20" height="38.00" fill="none" stroke="#111" stroke-width="0.8" />
<rect x="277.30" y="520.30" width="16.00" height="5.80" fill="#fff" stroke="none" stroke-width="1" />
<text x="285.30" y="525.60" font-size="7.3" text-anchor="middle" font-weight="bold" fill="#111" >91.4</text>
<rect x="246.00" y="515.80" width="67.60" height="66.40" fill="none" stroke="#000" stroke-width="1.2" />
<path d="M243.00,569.30 h3.0 M244.20,564.63 h1.8 M244.20,561.90 h1.8 M244.20,559.97 h1.8 M244.20,558.47 h1.8 M244.20,557.24 h1.8 M244.20,556.20 h1.8 M244.20,555.30 h1.8 M244.20,554.51 h1.8 M243.00,553.80 h3.0 M244.20,549.13 h1.8 M244.20,546.40 h1.8 M244.20,544.47 h1.8 M244.20,542.97 h1.8 M244.20,541.74 h1.8 M244.20,540.70 h1.8 M244.20,539.80 h1.8 M244.20,539.01 h1.8 M243.00,538.30 h3.0 M244.20,533.63 h1.8 M244.20,530.90 h1.8 M244.20,528.97 h1.8 M244.20,527.47 h1.8 M244.20,526.24 h1.8 M244.20,525.20 h1.8 M244.20,524.30 h1.8 M244.20,523.51 h1.8 M243.00,522.80 h3.0 M244.20,518.13 h1.8 M250.00,582.20 v3.0 M254.36,582.20 v1.8 M256.92,582.20 v1.8 M258.73,582.20 v1.8 M260.14,582.20 v1.8 M261.28,582.20 v1.8 M262.25,582.20 v1.8 M263.09,582.20 v1.8 M263.84,582.20 v1.8 M264.50,582.20 v3.0 M268.86,582.20 v1.8 M271.42,582.20 v1.8 M273.23,582.20 v1.8 M274.64,582.20 v1.8 M275.78,582.20 v1.8 M276.75,582.20 v1.8 M277.59,582.20 v1.8 M278.34,582.20 v1.8 M279.00,582.20 v3.0 M283.36,582.20 v1.8 M285.92,582.20 v1.8 M287.73,582.20 v1.8 M289.14,582.20 v1.8 M290.28,582.20 v1.8 M291.25,582.20 v1.8 M292.09,582.20 v1.8 M292.84,582.20 v1.8 M293.50,582.20 v3.0 M297.86,582.20 v1.8 M300.42,582.20 v1.8 M302.23,582.20 v1.8 M303.64,582.20 v1.8 M304.78,582.20 v1.8 M305.75,582.20 v1.8 M306.59,582.20 v1.8 M307.34,582.20 v1.8 M308.00,582.20 v3.0 M312.36,582.20 v1.8" stroke="#000" stroke-width="0.8" fill="none"/>
<rect x="367.12" y="541.06" width="0.6" height="0.6" fill="#444"/>
<rect x="349.13" y="525.53" width="0.6" height="0.6" fill="#444"/>
<rect x="364.71" y="537.25" width="0.6" height="0.6" fill="#444"/>
<rect x="361.39" y="529.55" width="0.6" height="0.6" fill="#444"/>
<rect x="360.12" y="534.92" width="0.6" height="0.6" fill="#444"/>
<rect x="359.62" y="526.85" width="0.6" height="0.6" fill="#444"/>
<rect x="356.61" y="531.08" width="0.6" height="0.6" fill="#444"/>
<rect x="362.46" y="541.91" width="0.6" height="0.6" fill="#444"/>
<rect x="366.99" y="533.80" width="0.6" height="0.6" fill="#444"/>
<rect x="356.90" y="528.83" width="0.6" height="0.6" fill="#444"/>
<rect x="348.72" y="524.49" width="0.6" height="0.6" fill="#444"/>
<rect x="357.30" y="529.73" width="0.6" height="0.6" fill="#444"/>
<rect x="355.60" y="540.05" width="0.6" height="0.6" fill="#444"/>
<rect x="358.52" y="534.09" width="0.6" height="0.6" fill="#444"/>
<rect x="352.72" y="524.43" width="0.6" height="0.6" fill="#444"/>
<rect x="354.50" y="526.46" width="0.6" height="0.6" fill="#444"/>
<rect x="358.20" y="541.98" width="0.6" height="0.6" fill="#444"/>
<rect x="361.49" y="527.27" width="0.6" height="0.6" fill="#444"/>
<rect x="365.87" y="538.34" width="0.6" height="0.6" fill="#444"/>
<rect x="362.69" y="540.32" width="0.6" height="0.6" fill="#444"/>
<rect x="363.26" y="538.22" width="0.6" height="0.6" fill="#444"/>
<rect x="355.08" y="541.66" width="0.6" height="0.6" fill="#444"/>
<path d="M361.72,564.14 L359.81,566.34 L358.51,569.17 L356.79,571.73 L354.82,573.81 L352.79,574.49 L350.90,575.39 L349.41,574.64 L347.60,575.61 L346.22,575.21 L344.31,575.85 L343.42,574.45 L341.96,573.90 L341.51,571.97 L341.27,569.89 L339.82,568.67 L339.98,566.06 L341.26,563.04 L342.60,560.29 L343.23,557.63 L344.72,555.10 L346.04,552.50 L347.88,550.51 L349.64,548.67 L351.37,546.71 L353.20,545.43 L354.96,544.72 L356.77,543.62 L359.24,540.89 L360.96,541.05 L361.86,542.84 L363.80,542.64 L364.09,545.03 L363.86,547.72 L365.24,548.66 L364.70,551.36 L365.02,553.44 L364.18,556.13 L362.71,558.77 L362.70,561.36 Z" fill="rgb(255,255,255)" stroke="#333" stroke-width="0.35" stroke-linejoin="round"/>
<path d="M360.96,563.12 L359.29,565.04 L358.16,567.42 L356.78,569.79 L355.02,570.98 L353.37,573.73 L351.55,574.88 L350.11,574.19 L348.30,575.39 L347.12,574.60 L346.21,573.49 L344.89,573.21 L343.72,572.53 L343.66,570.39 L343.81,568.24 L342.99,566.96 L342.51,565.18 L342.45,562.94 L343.26,560.34 L344.85,557.87 L345.04,555.05 L346.81,552.86 L348.73,551.30 L350.29,549.61 L351.88,548.33 L353.43,546.28 L354.94,546.28 L356.71,544.31 L357.88,545.14 L359.66,544.01 L361.01,544.25 L361.84,545.47 L362.78,546.45 L364.62,546.50 L365.07,548.39 L363.87,551.57 L364.32,553.38 L364.01,555.74 L363.05,558.28 L362.04,560.72 Z" fill="rgb(248,248,248)" stroke="#333" stroke-width="0.35" stroke-linejoin="round"/>
<path d="M360.93,562.51 L359.52,564.51 L358.37,566.72 L356.80,568.14 L355.36,569.68 L353.90,570.86 L352.52,571.15 L351.04,572.45 L349.92,572.06 L348.55,572.57 L346.76,573.69 L346.06,572.39 L344.93,571.84 L344.45,570.29 L344.54,568.21 L344.25,566.56 L344.22,564.64 L345.35,562.20 L345.96,560.14 L346.84,558.11 L347.65,556.11 L348.16,553.71 L349.38,551.67 L350.60,549.38 L352.15,547.88 L353.69,545.99 L355.19,545.98 L356.60,545.49 L357.90,545.35 L359.12,545.40 L360.54,545.08 L360.74,547.13 L361.63,547.80 L361.80,549.47 L362.21,550.77 L363.09,551.79 L363.28,553.56 L363.02,555.66 L362.96,557.83 L362.12,560.22 Z" fill="rgb(238,238,238)" stroke="#333" stroke-width="0.35" stroke-linejoin="round"/>
<path d="M359.95,561.49 L358.97,563.30 L357.96,565.07 L357.03,567.30 L355.64,568.27 L354.37,569.25 L353.06,570.81 L351.95,570.51 L350.72,571.19 L349.93,570.44 L348.95,570.33 L348.45,569.28 L347.50,569.02 L346.93,568.09 L346.50,566.92 L346.30,565.47 L345.86,564.10 L345.98,562.23 L346.86,560.11 L347.69,558.15 L348.46,556.23 L349.28,554.28 L350.61,552.92 L351.64,551.21 L352.91,550.45 L354.03,548.64 L355.22,548.23 L356.43,547.27 L357.83,546.00 L358.93,546.04 L360.10,545.95 L360.77,546.96 L361.68,547.50 L361.79,549.22 L362.08,550.60 L361.99,552.33 L362.17,553.85 L361.71,555.78 L361.12,557.68 L360.80,559.57 Z" fill="rgb(222,222,222)" stroke="#333" stroke-width="0.35" stroke-linejoin="round"/>
<path d="M359.43,560.74 L358.52,562.24 L357.68,563.73 L356.70,564.91 L355.85,566.74 L354.79,567.77 L353.69,569.00 L352.60,569.62 L351.69,569.51 L350.74,569.66 L349.63,570.11 L349.06,569.25 L348.48,568.47 L348.19,567.29 L348.42,565.55 L347.90,564.67 L348.17,563.04 L348.22,561.57 L348.59,559.91 L349.11,558.23 L349.56,556.46 L350.32,554.72 L351.28,553.16 L352.28,551.71 L353.34,550.48 L354.42,549.74 L355.43,549.26 L356.49,548.26 L357.31,548.49 L358.17,548.43 L359.17,548.09 L359.93,548.44 L360.50,549.15 L360.99,550.02 L361.68,550.73 L361.50,552.43 L361.56,553.88 L361.20,555.62 L361.03,557.28 L359.96,559.05 Z" fill="rgb(196,196,196)" stroke="#333" stroke-width="0.35" stroke-linejoin="round"/>
<path d="M358.86,560.01 L358.06,561.23 L357.41,562.48 L356.80,563.97 L355.99,565.09 L355.14,565.82 L354.29,566.71 L353.34,567.97 L352.52,568.17 L351.69,568.38 L350.96,568.30 L350.64,567.30 L350.18,566.68 L349.78,565.97 L349.97,564.49 L349.91,563.41 L349.67,562.44 L349.81,561.13 L350.15,559.70 L350.60,558.26 L350.82,556.72 L351.58,555.30 L352.21,553.73 L353.13,552.66 L354.00,551.69 L354.85,550.59 L355.70,550.22 L356.49,549.90 L357.23,549.67 L357.93,549.59 L358.60,549.65 L359.28,549.72 L359.64,550.47 L360.33,550.72 L360.58,551.70 L360.87,552.68 L360.59,554.22 L360.51,555.57 L359.91,557.14 L359.55,558.60 Z" fill="rgb(155,155,155)" stroke="#333" stroke-width="0.35" stroke-linejoin="round"/>
<path d="M358.30,559.33 L357.79,560.45 L357.34,561.65 L356.70,562.56 L356.08,563.48 L355.44,564.49 L354.78,565.14 L354.04,566.12 L353.38,566.41 L352.90,566.10 L352.35,566.10 L352.07,565.44 L351.65,565.14 L351.58,564.21 L351.56,563.29 L351.33,562.63 L351.47,561.55 L351.31,560.68 L351.46,559.52 L351.82,558.26 L352.29,557.01 L352.70,555.70 L353.41,554.69 L354.05,553.69 L354.70,552.80 L355.36,552.26 L356.01,551.41 L356.62,551.13 L357.23,550.78 L357.78,550.69 L358.24,550.86 L358.75,550.93 L359.27,551.07 L359.66,551.53 L359.82,552.38 L359.78,553.46 L359.82,554.46 L359.47,555.76 L359.19,556.96 L358.83,558.17 Z" fill="rgb(100,100,100)" stroke="#333" stroke-width="0.35" stroke-linejoin="round"/>
<path d="M357.77,558.72 L357.42,559.62 L357.00,560.44 L356.60,561.32 L356.17,562.23 L355.69,562.90 L355.21,563.41 L354.69,564.15 L354.28,564.23 L353.90,564.25 L353.51,564.29 L353.23,564.03 L353.16,563.35 L353.00,562.89 L352.94,562.27 L352.98,561.52 L352.91,560.89 L353.04,560.03 L353.11,559.19 L353.35,558.22 L353.64,557.21 L354.05,556.24 L354.44,555.24 L354.96,554.54 L355.43,553.80 L355.91,553.31 L356.35,552.92 L356.77,552.64 L357.20,552.25 L357.55,552.26 L357.92,552.18 L358.30,552.13 L358.63,552.26 L358.78,552.79 L358.99,553.24 L358.99,554.02 L358.96,554.83 L358.75,555.82 L358.52,556.80 L358.11,557.79 Z" fill="rgb(45,45,45)" stroke="#333" stroke-width="0.35" stroke-linejoin="round"/>
<rect x="346.70" y="521.00" width="22.60" height="38.40" fill="none" stroke="#111" stroke-width="0.8" />
<rect x="350.00" y="520.00" width="16.00" height="5.80" fill="#fff" stroke="none" stroke-width="1" />
<text x="358.00" y="525.30" font-size="7.3" text-anchor="middle" font-weight="bold" fill="#111" >46.1</text>
<rect x="318.70" y="515.60" width="66.70" height="66.70" fill="none" stroke="#000" stroke-width="1.2" />
<path d="M315.70,569.40 h3.0 M316.90,564.73 h1.8 M316.90,562.00 h1.8 M316.90,560.07 h1.8 M316.90,558.57 h1.8 M316.90,557.34 h1.8 M316.90,556.30 h1.8 M316.90,555.40 h1.8 M316.90,554.61 h1.8 M315.70,553.90 h3.0 M316.90,549.23 h1.8 M316.90,546.50 h1.8 M316.90,544.57 h1.8 M316.90,543.07 h1.8 M316.90,541.84 h1.8 M316.90,540.80 h1.8 M316.90,539.90 h1.8 M316.90,539.11 h1.8 M315.70,538.40 h3.0 M316.90,533.73 h1.8 M316.90,531.00 h1.8 M316.90,529.07 h1.8 M316.90,527.57 h1.8 M316.90,526.34 h1.8 M316.90,525.30 h1.8 M316.90,524.40 h1.8 M316.90,523.61 h1.8 M315.70,522.90 h3.0 M316.90,518.23 h1.8 M322.70,582.30 v3.0 M327.06,582.30 v1.8 M329.62,582.30 v1.8 M331.43,582.30 v1.8 M332.84,582.30 v1.8 M333.98,582.30 v1.8 M334.95,582.30 v1.8 M335.79,582.30 v1.8 M336.54,582.30 v1.8 M337.20,582.30 v3.0 M341.56,582.30 v1.8 M344.12,582.30 v1.8 M345.93,582.30 v1.8 M347.34,582.30 v1.8 M348.48,582.30 v1.8 M349.45,582.30 v1.8 M350.29,582.30 v1.8 M351.04,582.30 v1.8 M351.70,582.30 v3.0 M356.06,582.30 v1.8 M358.62,582.30 v1.8 M360.43,582.30 v1.8 M361.84,582.30 v1.8 M362.98,582.30 v1.8 M363.95,582.30 v1.8 M364.79,582.30 v1.8 M365.54,582.30 v1.8 M366.20,582.30 v3.0 M370.56,582.30 v1.8 M373.12,582.30 v1.8 M374.93,582.30 v1.8 M376.34,582.30 v1.8 M377.48,582.30 v1.8 M378.45,582.30 v1.8 M379.29,582.30 v1.8 M380.04,582.30 v1.8 M380.70,582.30 v3.0" stroke="#000" stroke-width="0.8" fill="none"/>
<rect x="425.52" y="531.62" width="0.6" height="0.6" fill="#444"/>
<rect x="428.03" y="532.45" width="0.6" height="0.6" fill="#444"/>
<rect x="432.89" y="524.92" width="0.6" height="0.6" fill="#444"/>
<rect x="421.25" y="535.72" width="0.6" height="0.6" fill="#444"/>
<rect x="425.93" y="527.28" width="0.6" height="0.6" fill="#444"/>
<rect x="439.92" y="530.58" width="0.6" height="0.6" fill="#444"/>
<rect x="436.89" y="530.67" width="0.6" height="0.6" fill="#444"/>
<rect x="433.14" y="526.11" width="0.6" height="0.6" fill="#444"/>
<rect x="433.06" y="536.15" width="0.6" height="0.6" fill="#444"/>
<rect x="430.94" y="534.38" width="0.6" height="0.6" fill="#444"/>
<rect x="433.76" y="524.90" width="0.6" height="0.6" fill="#444"/>
<rect x="435.41" y="532.28" width="0.6" height="0.6" fill="#444"/>
<path d="M435.25,553.97 L434.94,558.37 L433.12,561.41 L432.17,564.76 L430.92,567.24 L429.89,570.17 L428.67,572.31 L427.48,575.11 L426.13,578.48 L424.53,581.88 L423.03,581.28 L421.74,579.67 L420.43,578.55 L419.05,577.53 L418.61,573.46 L418.36,569.56 L416.92,568.07 L417.02,563.83 L417.68,559.44 L417.77,555.84 L417.87,552.15 L417.02,547.60 L418.69,544.37 L418.90,539.46 L419.69,534.74 L421.74,534.19 L422.92,530.67 L424.38,528.69 L425.86,526.02 L427.24,528.78 L428.55,528.77 L429.76,529.45 L430.76,531.17 L432.49,530.08 L433.79,531.45 L434.29,535.03 L434.49,538.90 L435.97,540.98 L436.19,545.11 L435.90,549.59 Z" fill="rgb(255,255,255)" stroke="#333" stroke-width="0.35" stroke-linejoin="round"/>
<path d="M435.18,554.58 L434.28,558.37 L433.36,561.87 L432.29,564.93 L430.97,567.03 L430.00,569.89 L428.96,572.99 L427.67,574.64 L426.37,575.19 L424.98,578.03 L423.57,578.78 L422.65,576.03 L421.44,575.61 L420.40,574.22 L419.84,571.36 L418.53,570.35 L418.33,566.80 L418.34,563.18 L417.82,560.13 L418.76,556.14 L419.20,552.73 L419.65,549.38 L419.93,545.68 L420.21,541.33 L421.36,538.27 L422.81,536.60 L423.87,533.26 L425.29,532.79 L426.58,530.05 L427.82,531.54 L428.99,531.74 L430.31,530.98 L431.51,531.53 L432.32,533.67 L432.90,536.31 L434.08,537.50 L434.32,540.83 L434.46,544.14 L434.99,547.11 L435.42,550.59 Z" fill="rgb(250,250,250)" stroke="#333" stroke-width="0.35" stroke-linejoin="round"/>
<path d="M433.41,554.95 L433.44,558.23 L432.77,561.31 L431.66,563.58 L431.25,567.47 L429.97,568.87 L428.90,570.75 L427.86,573.71 L426.62,575.97 L425.40,575.89 L424.25,575.62 L423.25,574.65 L422.49,572.77 L421.77,571.11 L421.09,569.38 L420.46,567.50 L419.66,565.72 L420.17,561.99 L419.79,559.46 L419.08,556.68 L419.55,553.22 L420.49,550.09 L420.84,546.64 L421.57,543.39 L422.48,540.32 L423.99,539.78 L424.86,536.42 L426.07,535.46 L427.21,535.82 L428.34,534.52 L429.55,533.35 L430.41,534.90 L431.73,534.12 L432.63,535.49 L433.08,538.17 L433.86,539.90 L434.36,542.36 L434.22,545.72 L434.90,548.24 L433.91,551.90 Z" fill="rgb(240,240,240)" stroke="#333" stroke-width="0.35" stroke-linejoin="round"/>
<path d="M433.81,555.58 L433.27,558.48 L432.47,561.06 L431.66,563.44 L430.84,565.70 L430.02,568.09 L428.86,568.15 L428.01,570.90 L426.99,572.01 L425.99,572.29 L424.93,573.02 L424.08,572.19 L422.88,572.89 L422.16,571.36 L421.53,569.60 L421.25,567.10 L421.20,564.38 L420.81,562.20 L420.91,559.44 L421.72,556.49 L421.82,553.96 L422.07,551.28 L422.76,548.87 L423.38,546.43 L424.04,543.91 L424.92,541.92 L425.82,539.86 L426.80,537.91 L427.86,536.82 L428.91,536.26 L429.78,537.25 L430.53,538.37 L431.62,537.85 L432.14,539.76 L432.75,541.21 L433.28,542.93 L433.44,545.34 L433.97,547.28 L433.91,549.99 L434.13,552.62 Z" fill="rgb(224,224,224)" stroke="#333" stroke-width="0.35" stroke-linejoin="round"/>
<path d="M432.46,555.95 L432.54,558.35 L431.82,560.33 L431.28,562.43 L430.67,564.55 L430.04,566.94 L429.21,568.88 L428.28,570.09 L427.39,569.54 L426.54,570.06 L425.66,570.59 L424.94,569.93 L424.31,569.04 L423.97,567.27 L423.44,566.21 L423.05,564.76 L422.62,563.30 L422.29,561.51 L421.99,559.49 L422.19,557.00 L422.77,554.54 L423.24,552.23 L423.72,549.95 L424.26,547.65 L425.17,546.27 L425.88,544.40 L426.70,543.16 L427.52,541.69 L428.37,541.24 L429.22,540.67 L430.09,540.13 L431.03,539.64 L431.61,540.97 L432.19,542.12 L432.96,542.81 L433.08,545.10 L433.31,547.04 L433.04,549.55 L432.87,551.74 L432.80,553.81 Z" fill="rgb(200,200,200)" stroke="#333" stroke-width="0.35" stroke-linejoin="round"/>
<path d="M432.36,556.48 L432.02,558.32 L431.72,560.27 L431.02,561.62 L430.35,562.75 L429.89,564.67 L429.20,565.46 L428.53,566.41 L427.82,567.79 L427.08,568.42 L426.42,568.28 L425.69,568.50 L425.06,568.02 L424.77,566.46 L424.41,565.30 L424.39,563.44 L424.06,562.25 L424.16,560.44 L424.04,558.87 L424.09,557.09 L424.41,555.24 L424.55,553.30 L424.83,551.24 L425.53,549.74 L425.98,547.66 L426.72,546.47 L427.41,544.96 L428.18,545.09 L428.87,544.41 L429.50,544.57 L430.11,544.60 L430.82,544.21 L431.29,545.04 L431.75,545.83 L432.43,546.13 L432.48,547.97 L432.74,549.33 L433.18,550.59 L433.08,552.56 L433.00,554.51 Z" fill="rgb(160,160,160)" stroke="#333" stroke-width="0.35" stroke-linejoin="round"/>
<path d="M432.07,556.97 L431.58,558.32 L431.18,559.57 L430.88,560.99 L430.38,562.01 L429.87,562.82 L429.39,563.78 L428.88,564.63 L428.31,565.78 L427.75,566.13 L427.27,565.84 L426.69,566.08 L426.28,565.49 L425.99,564.57 L425.77,563.53 L425.66,562.34 L425.51,561.27 L425.55,559.94 L425.41,558.77 L425.55,557.34 L425.66,555.90 L425.82,554.36 L426.13,552.82 L426.63,551.53 L427.17,550.48 L427.66,549.27 L428.20,548.27 L428.78,548.22 L429.30,547.91 L429.79,547.80 L430.25,547.85 L430.79,547.58 L431.19,548.05 L431.50,548.77 L431.95,549.16 L432.29,549.96 L432.30,551.37 L432.40,552.60 L432.29,554.06 L432.29,555.46 Z" fill="rgb(105,105,105)" stroke="#333" stroke-width="0.35" stroke-linejoin="round"/>
<path d="M431.46,557.38 L431.25,558.37 L430.95,559.26 L430.67,560.15 L430.33,560.86 L429.99,561.54 L429.64,562.13 L429.28,562.57 L428.90,563.14 L428.50,563.58 L428.12,563.68 L427.77,563.61 L427.51,563.12 L427.30,562.56 L427.04,562.11 L426.96,561.28 L426.93,560.39 L426.89,559.53 L427.04,558.51 L427.05,557.61 L427.23,556.63 L427.34,555.62 L427.52,554.56 L427.84,553.65 L428.15,552.70 L428.51,551.82 L428.93,551.38 L429.32,551.09 L429.72,550.61 L430.07,550.69 L430.37,550.93 L430.66,551.14 L430.91,551.50 L431.17,551.81 L431.52,551.97 L431.66,552.69 L431.83,553.38 L431.81,554.36 L431.88,555.27 L431.75,556.34 Z" fill="rgb(45,45,45)" stroke="#333" stroke-width="0.35" stroke-linejoin="round"/>
<rect x="419.80" y="521.00" width="21.90" height="38.40" fill="none" stroke="#111" stroke-width="0.8" />
<rect x="422.75" y="520.00" width="16.00" height="5.80" fill="#fff" stroke="none" stroke-width="1" />
<text x="430.75" y="525.30" font-size="7.3" text-anchor="middle" font-weight="bold" fill="#111" >57.3</text>
<rect x="391.90" y="515.60" width="66.70" height="66.70" fill="none" stroke="#000" stroke-width="1.2" />
<path d="M388.90,569.40 h3.0 M390.10,564.73 h1.8 M390.10,562.00 h1.8 M390.10,560.07 h1.8 M390.10,558.57 h1.8 M390.10,557.34 h1.8 M390.10,556.30 h1.8 M390.10,555.40 h1.8 M390.10,554.61 h1.8 M388.90,553.90 h3.0 M390.10,549.23 h1.8 M390.10,546.50 h1.8 M390.10,544.57 h1.8 M390.10,543.07 h1.8 M390.10,541.84 h1.8 M390.10,540.80 h1.8 M390.10,539.90 h1.8 M390.10,539.11 h1.8 M388.90,538.40 h3.0 M390.10,533.73 h1.8 M390.10,531.00 h1.8 M390.10,529.07 h1.8 M390.10,527.57 h1.8 M390.10,526.34 h1.8 M390.10,525.30 h1.8 M390.10,524.40 h1.8 M390.10,523.61 h1.8 M388.90,522.90 h3.0 M390.10,518.23 h1.8 M395.90,582.30 v3.0 M400.26,582.30 v1.8 M402.82,582.30 v1.8 M404.63,582.30 v1.8 M406.04,582.30 v1.8 M407.18,582.30 v1.8 M408.15,582.30 v1.8 M408.99,582.30 v1.8 M409.74,582.30 v1.8 M410.40,582.30 v3.0 M414.76,582.30 v1.8 M417.32,582.30 v1.8 M419.13,582.30 v1.8 M420.54,582.30 v1.8 M421.68,582.30 v1.8 M422.65,582.30 v1.8 M423.49,582.30 v1.8 M424.24,582.30 v1.8 M424.90,582.30 v3.0 M429.26,582.30 v1.8 M431.82,582.30 v1.8 M433.63,582.30 v1.8 M435.04,582.30 v1.8 M436.18,582.30 v1.8 M437.15,582.30 v1.8 M437.99,582.30 v1.8 M438.74,582.30 v1.8 M439.40,582.30 v3.0 M443.76,582.30 v1.8 M446.32,582.30 v1.8 M448.13,582.30 v1.8 M449.54,582.30 v1.8 M450.68,582.30 v1.8 M451.65,582.30 v1.8 M452.49,582.30 v1.8 M453.24,582.30 v1.8 M453.90,582.30 v3.0" stroke="#000" stroke-width="0.8" fill="none"/>
<line x1="235.00" y1="593.80" x2="235.00" y2="559.00" stroke="#222" stroke-width="1.1" />
<path d="M235,554.2 L233.1,560 L236.9,560 Z" fill="#222"/>
<line x1="234.50" y1="593.80" x2="273.50" y2="593.80" stroke="#222" stroke-width="1.1" />
<path d="M278,593.8 L272.6,591.9 L272.6,595.7 Z" fill="#222"/>
<text x="238.60" y="546.30" font-size="9.0" text-anchor="middle" font-weight="bold" fill="#222" textLength="11.8" lengthAdjust="spacingAndGlyphs" transform="rotate(-90 238.60 546.30)" >Ki67</text>
<text x="280.70" y="596.60" font-size="9.2" text-anchor="start" font-weight="bold" fill="#222" textLength="12.5" lengthAdjust="spacingAndGlyphs" stroke="#222" stroke-width="0.25">CD3</text>
<text x="218.30" y="621.80" font-size="12.2" text-anchor="start" font-weight="bold" fill="#000" stroke="#000" stroke-width="0.45">I</text>
<line x1="257.00" y1="628.50" x2="257.00" y2="716.60" stroke="#000" stroke-width="1.3" />
<line x1="256.40" y1="716.00" x2="310.00" y2="716.00" stroke="#000" stroke-width="1.3" />
<line x1="253.40" y1="716.00" x2="257.00" y2="716.00" stroke="#000" stroke-width="1.1" />
<text x="250.40" y="718.40" font-size="6.8" text-anchor="end" font-weight="normal" fill="#222" >0</text>
<line x1="253.40" y1="699.00" x2="257.00" y2="699.00" stroke="#000" stroke-width="1.1" />
<text x="250.40" y="701.40" font-size="6.8" text-anchor="end" font-weight="normal" fill="#222" >20</text>
<line x1="253.40" y1="682.00" x2="257.00" y2="682.00" stroke="#000" stroke-width="1.1" />
<text x="250.40" y="684.40" font-size="6.8" text-anchor="end" font-weight="normal" fill="#222" >40</text>
<line x1="253.40" y1="665.00" x2="257.00" y2="665.00" stroke="#000" stroke-width="1.1" />
<text x="250.40" y="667.40" font-size="6.8" text-anchor="end" font-weight="normal" fill="#222" >60</text>
<line x1="253.40" y1="648.00" x2="257.00" y2="648.00" stroke="#000" stroke-width="1.1" />
<text x="250.40" y="650.40" font-size="6.8" text-anchor="end" font-weight="normal" fill="#222" >80</text>
<line x1="253.40" y1="631.00" x2="257.00" y2="631.00" stroke="#000" stroke-width="1.1" />
<text x="250.40" y="633.40" font-size="6.8" text-anchor="end" font-weight="normal" fill="#222" >100</text>
<text x="232.80" y="672.20" font-size="7.8" text-anchor="middle" font-weight="bold" fill="#222" textLength="58.8" lengthAdjust="spacingAndGlyphs" transform="rotate(-90 232.80 672.20)" class="cb">%CD3+CD4+ Ki67+</text>
<line x1="265.95" y1="637.90" x2="265.95" y2="640.10" stroke="#000" stroke-width="1.1" />
<line x1="262.75" y1="637.90" x2="269.15" y2="637.90" stroke="#000" stroke-width="1.1" />
<rect x="260.10" y="639.10" width="11.70" height="76.90" fill="#a30226" stroke="none" stroke-width="1" />
<line x1="265.95" y1="716.00" x2="265.95" y2="719.00" stroke="#000" stroke-width="1.0" />
<text x="270.95" y="725.20" font-size="6.9" text-anchor="end" font-weight="normal" fill="#222" transform="rotate(-45 270.95 725.20)" >No MSC</text>
<line x1="283.50" y1="677.80" x2="283.50" y2="685.60" stroke="#000" stroke-width="1.1" />
<line x1="280.30" y1="677.80" x2="286.70" y2="677.80" stroke="#000" stroke-width="1.1" />
<rect x="277.70" y="684.60" width="11.60" height="31.40" fill="#2d4b7d" stroke="none" stroke-width="1" />
<line x1="283.50" y1="716.00" x2="283.50" y2="719.00" stroke="#000" stroke-width="1.0" />
<text x="288.50" y="725.20" font-size="6.9" text-anchor="end" font-weight="normal" fill="#222" transform="rotate(-45 288.50 725.20)" >Cont siRNA</text>
<line x1="300.95" y1="674.50" x2="300.95" y2="680.30" stroke="#000" stroke-width="1.1" />
<line x1="297.75" y1="674.50" x2="304.15" y2="674.50" stroke="#000" stroke-width="1.1" />
<rect x="295.00" y="679.30" width="11.90" height="36.70" fill="#69aa3c" stroke="none" stroke-width="1" />
<line x1="300.95" y1="716.00" x2="300.95" y2="719.00" stroke="#000" stroke-width="1.0" />
<text x="305.95" y="725.20" font-size="6.9" text-anchor="end" font-weight="normal" fill="#222" transform="rotate(-45 305.95 725.20)" >HLADR siRNA</text>
<text x="325.20" y="621.70" font-size="12.2" text-anchor="start" font-weight="bold" fill="#000" stroke="#000" stroke-width="0.45">J</text>
<line x1="366.60" y1="630.70" x2="366.60" y2="716.60" stroke="#000" stroke-width="1.3" />
<line x1="366.00" y1="716.00" x2="418.40" y2="716.00" stroke="#000" stroke-width="1.3" />
<line x1="363.00" y1="716.00" x2="366.60" y2="716.00" stroke="#000" stroke-width="1.1" />
<text x="361.40" y="718.40" font-size="6.8" text-anchor="end" font-weight="normal" fill="#222" >0</text>
<line x1="363.00" y1="699.40" x2="366.60" y2="699.40" stroke="#000" stroke-width="1.1" />
<text x="361.40" y="701.80" font-size="6.8" text-anchor="end" font-weight="normal" fill="#222" >20</text>
<line x1="363.00" y1="682.80" x2="366.60" y2="682.80" stroke="#000" stroke-width="1.1" />
<text x="361.40" y="685.20" font-size="6.8" text-anchor="end" font-weight="normal" fill="#222" >40</text>
<line x1="363.00" y1="666.20" x2="366.60" y2="666.20" stroke="#000" stroke-width="1.1" />
<text x="361.40" y="668.60" font-size="6.8" text-anchor="end" font-weight="normal" fill="#222" >60</text>
<line x1="363.00" y1="649.60" x2="366.60" y2="649.60" stroke="#000" stroke-width="1.1" />
<text x="361.40" y="652.00" font-size="6.8" text-anchor="end" font-weight="normal" fill="#222" >80</text>
<line x1="363.00" y1="633.00" x2="366.60" y2="633.00" stroke="#000" stroke-width="1.1" />
<text x="361.40" y="635.40" font-size="6.8" text-anchor="end" font-weight="normal" fill="#222" >100</text>
<text x="340.60" y="673.10" font-size="7.8" text-anchor="middle" font-weight="bold" fill="#222" textLength="57.4" lengthAdjust="spacingAndGlyphs" transform="rotate(-90 340.60 673.10)" class="cb">%CD3+CD8+ Ki67+</text>
<line x1="375.15" y1="640.20" x2="375.15" y2="641.20" stroke="#000" stroke-width="1.1" />
<line x1="371.95" y1="640.20" x2="378.35" y2="640.20" stroke="#000" stroke-width="1.1" />
<rect x="369.30" y="640.20" width="11.70" height="75.80" fill="#a30226" stroke="none" stroke-width="1" />
<line x1="375.15" y1="716.00" x2="375.15" y2="719.00" stroke="#000" stroke-width="1.0" />
<text x="380.15" y="725.20" font-size="6.9" text-anchor="end" font-weight="normal" fill="#222" transform="rotate(-45 380.15 725.20)" >No MSC</text>
<line x1="392.60" y1="675.50" x2="392.60" y2="681.40" stroke="#000" stroke-width="1.1" />
<line x1="389.40" y1="675.50" x2="395.80" y2="675.50" stroke="#000" stroke-width="1.1" />
<rect x="387.00" y="680.40" width="11.20" height="35.60" fill="#2d4b7d" stroke="none" stroke-width="1" />
<line x1="392.60" y1="716.00" x2="392.60" y2="719.00" stroke="#000" stroke-width="1.0" />
<text x="397.60" y="725.20" font-size="6.9" text-anchor="end" font-weight="normal" fill="#222" transform="rotate(-45 397.60 725.20)" >Cont siRNA</text>
<line x1="409.70" y1="680.20" x2="409.70" y2="682.00" stroke="#000" stroke-width="1.1" />
<line x1="406.50" y1="680.20" x2="412.90" y2="680.20" stroke="#000" stroke-width="1.1" />
<rect x="404.10" y="681.00" width="11.20" height="35.00" fill="#69aa3c" stroke="none" stroke-width="1" />
<line x1="409.70" y1="716.00" x2="409.70" y2="719.00" stroke="#000" stroke-width="1.0" />
<text x="414.70" y="725.20" font-size="6.9" text-anchor="end" font-weight="normal" fill="#222" transform="rotate(-45 414.70 725.20)" >HLADR siRNA</text>
<rect x="0" y="0" width="520" height="1.6" fill="#000"/>
<rect x="0" y="0" width="1.5" height="766" fill="#000"/>
<rect x="518.3" y="0" width="1.7" height="766" fill="#000"/>
<rect x="0" y="763.8" width="520" height="2.2" fill="#000"/>
</svg>
</body></html>
